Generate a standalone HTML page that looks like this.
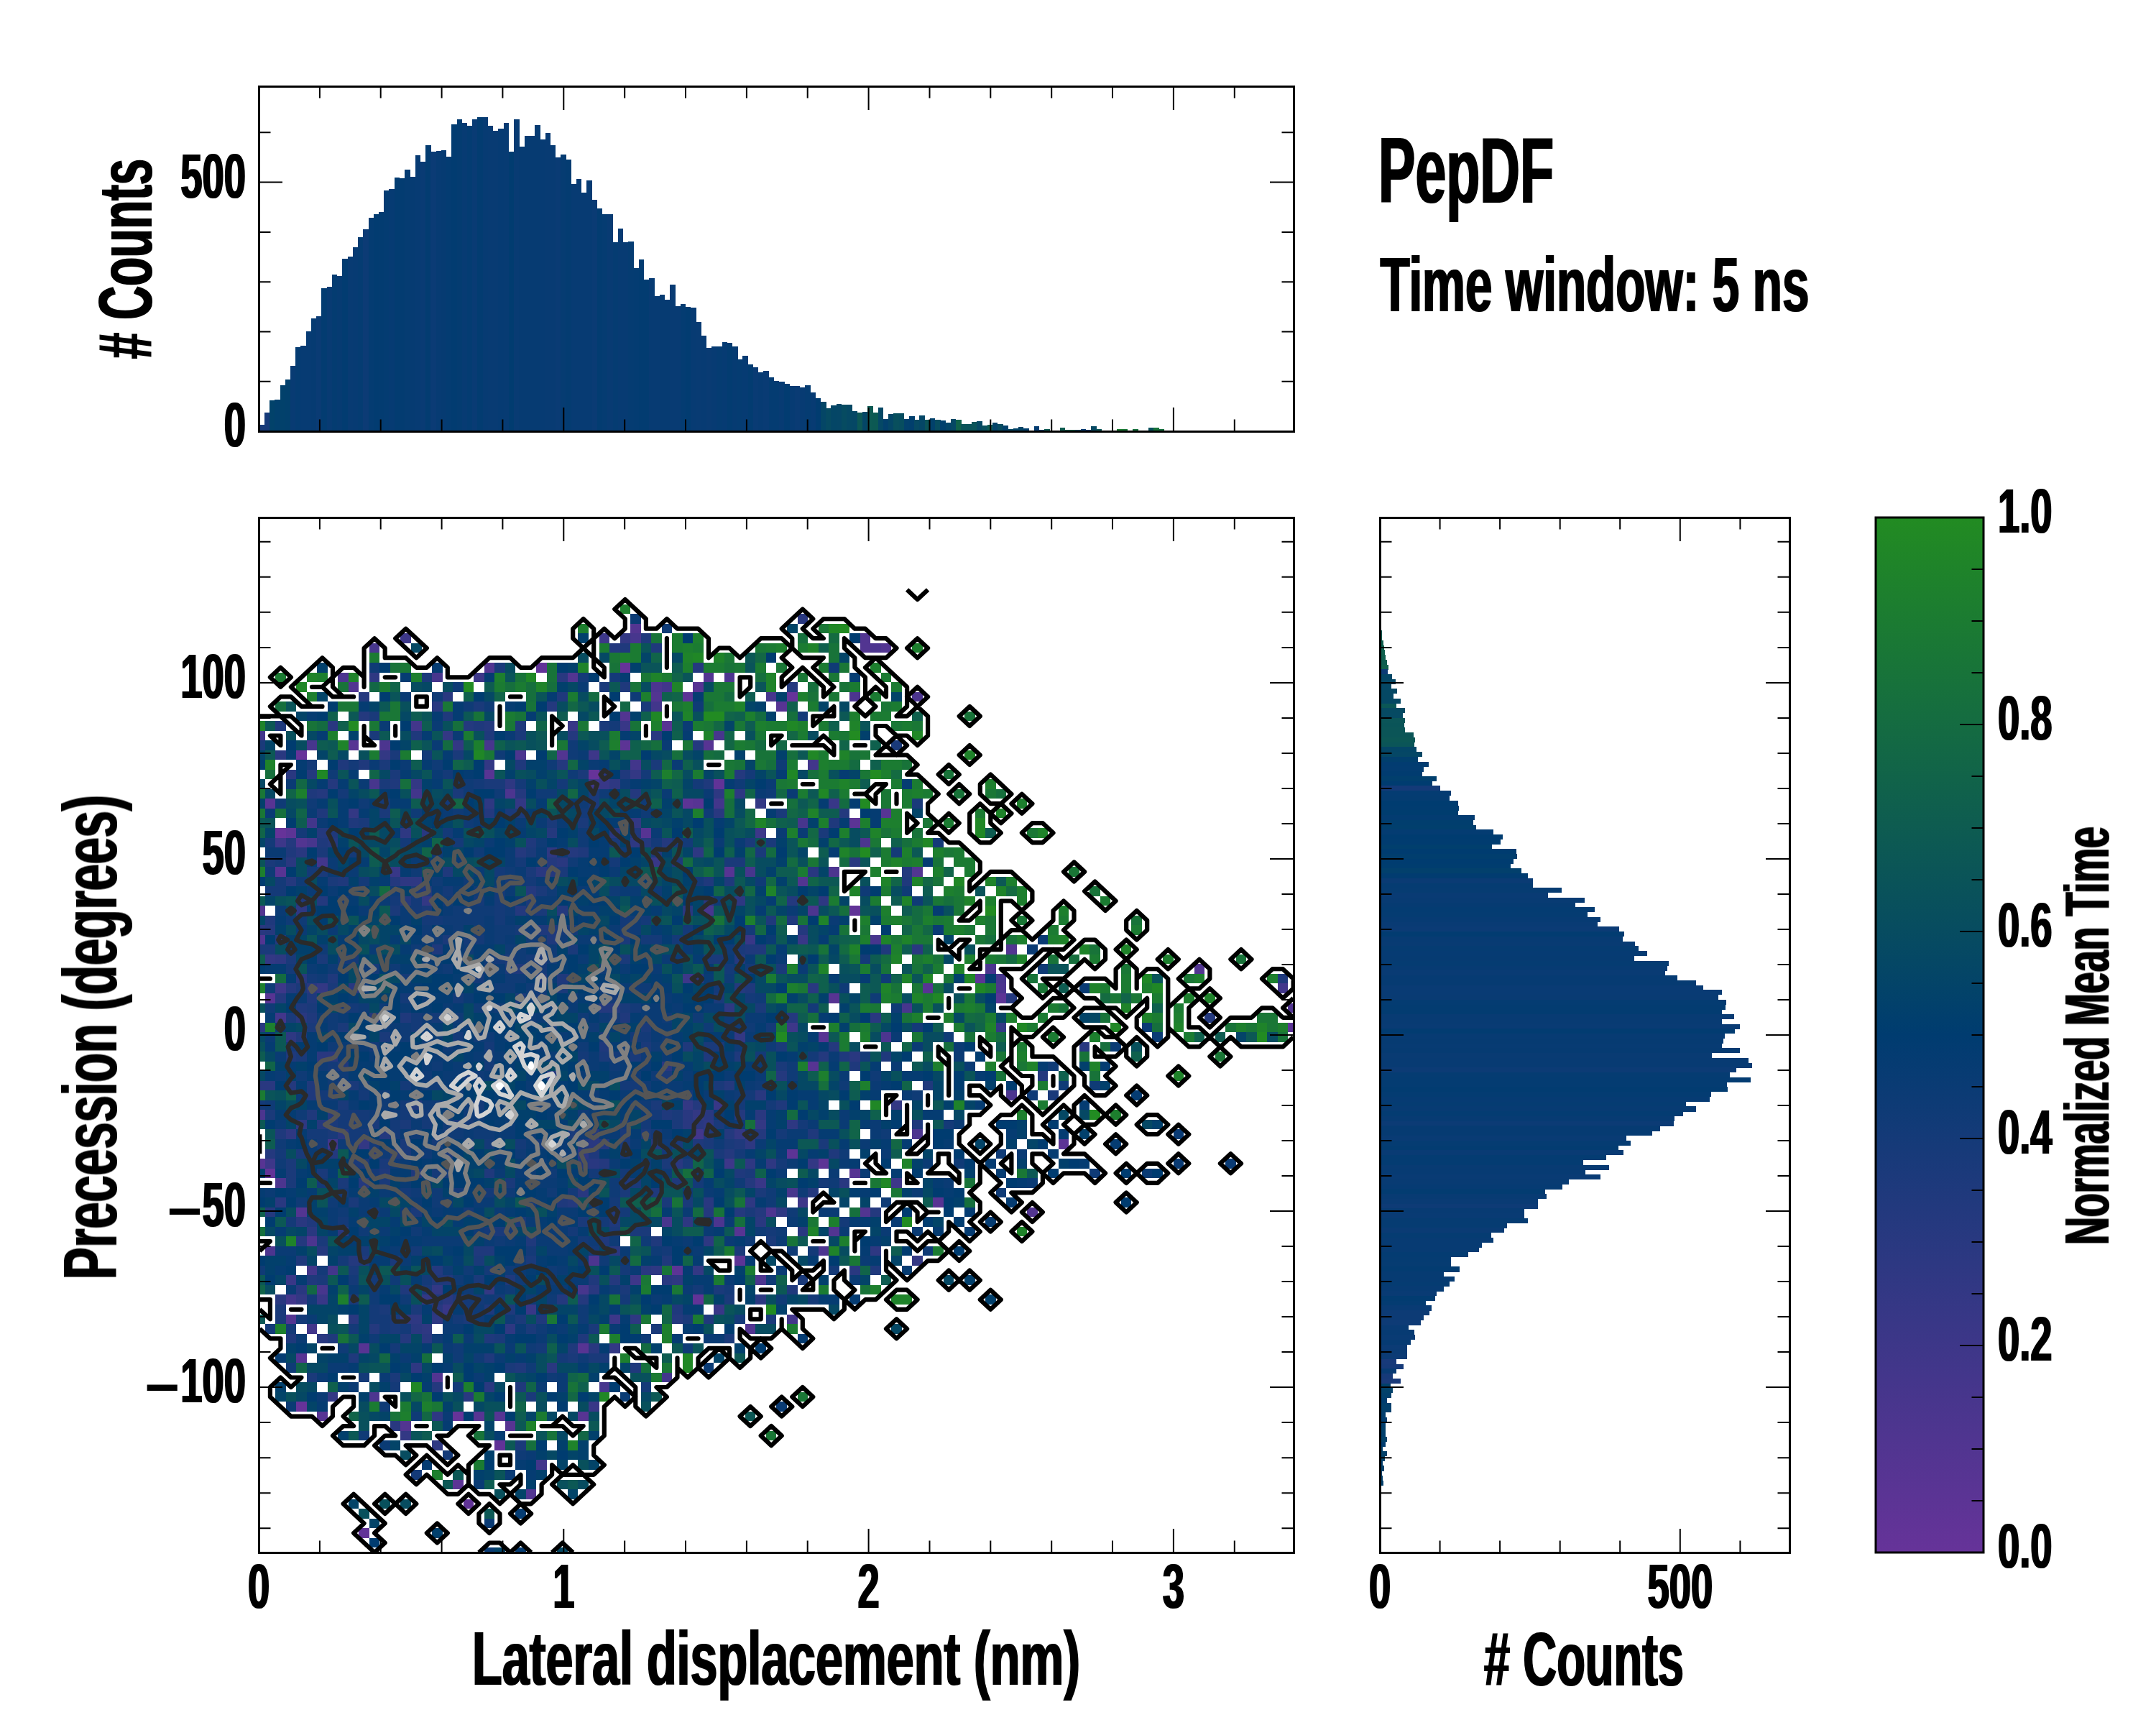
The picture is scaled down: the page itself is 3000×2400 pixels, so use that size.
<!DOCTYPE html>
<html><head><meta charset="utf-8"><title>PepDF</title>
<style>html,body{margin:0;padding:0;background:#fff}svg{display:block}</style></head>
<body><svg width="3000" height="2400" viewBox="0 0 3000 2400">
<rect width="3000" height="2400" fill="#fff"/>
<clipPath id="cm"><rect x="360" y="720" width="1440" height="1440"/></clipPath>
<g clip-path="url(#cm)" shape-rendering="crispEdges">
<g transform="translate(354.08,2166.76) scale(14.528,-13.530)">
<path fill="#663399" d="M2 74h1v1h-1zM4 15h1v1h-1zM4 82h1v1h-1zM19 14h1v1h-1zM32 80h1v1h-1zM35 91h1v1h-1zM51 88h1v1h-1z"/>
<path fill="#613397" d="M1 39h1v1h-1zM10 2h1v1h-1zM20 5h1v1h-1zM23 11h1v1h-1zM27 91h1v1h-1zM42 26h1v1h-1zM44 79h1v1h-1zM57 66h1v1h-1z"/>
<path fill="#5c3495" d="M3 74h1v1h-1zM19 7h1v1h-1zM35 83h1v1h-1zM40 29h1v1h-1zM41 77h1v1h-1zM41 88h1v1h-1zM46 30h1v1h-1zM51 41h1v1h-1zM54 40h1v1h-1zM57 75h1v1h-1zM69 59h1v1h-1zM71 57h1v1h-1zM77 42h1v1h-1zM99 54h1v1h-1z"/>
<path fill="#573493" d="M0 40h1v1h-1zM1 57h1v1h-1zM1 77h1v1h-1zM2 70h1v1h-1zM4 20h1v1h-1zM6 14h1v1h-1zM9 83h1v1h-1zM10 21h1v1h-1zM21 14h1v1h-1zM22 80h1v1h-1zM23 14h1v1h-1zM24 13h1v1h-1zM31 14h1v1h-1zM31 21h1v1h-1zM37 74h1v1h-1zM39 85h1v1h-1zM42 77h1v1h-1zM42 89h1v1h-1zM43 83h1v1h-1zM45 70h1v1h-1zM46 33h1v1h-1zM50 87h1v1h-1zM53 50h1v1h-1zM54 53h1v1h-1zM55 57h1v1h-1zM57 39h1v1h-1zM60 76h1v1h-1zM64 58h1v1h-1zM65 36h1v1h-1z"/>
<path fill="#523591" d="M0 63h1v1h-1zM0 66h1v1h-1zM3 24h1v1h-1zM4 35h1v1h-1zM4 73h1v1h-1zM9 89h1v1h-1zM14 13h1v1h-1zM17 18h1v1h-1zM22 91h1v1h-1zM26 6h1v1h-1zM29 82h1v1h-1zM30 90h1v1h-1zM35 86h1v1h-1zM36 95h1v1h-1zM38 88h1v1h-1zM43 90h1v1h-1zM47 23h1v1h-1zM52 69h1v1h-1zM55 33h1v1h-1zM58 35h1v1h-1zM58 93h1v1h-1zM58 94h1v1h-1zM60 93h1v1h-1zM63 70h1v1h-1zM72 62h1v1h-1zM74 35h1v1h-1zM90 60h1v1h-1zM99 56h1v1h-1z"/>
<path fill="#4c358f" d="M0 45h1v1h-1zM1 31h1v1h-1zM2 38h1v1h-1zM5 32h1v1h-1zM8 90h1v1h-1zM11 16h1v1h-1zM12 83h1v1h-1zM24 78h1v1h-1zM25 82h1v1h-1zM32 30h1v1h-1zM38 89h1v1h-1zM44 34h1v1h-1zM45 90h1v1h-1zM48 28h1v1h-1zM49 35h1v1h-1zM53 66h1v1h-1zM54 31h1v1h-1zM55 70h1v1h-1zM57 88h1v1h-1zM58 73h1v1h-1zM59 93h1v1h-1zM60 53h1v1h-1zM63 43h1v1h-1zM63 88h1v1h-1zM70 60h1v1h-1zM71 58h1v1h-1zM72 47h1v1h-1z"/>
<path fill="#47368d" d="M5 73h1v1h-1zM5 83h1v1h-1zM6 27h1v1h-1zM11 79h1v1h-1zM11 93h1v1h-1zM17 90h1v1h-1zM22 83h1v1h-1zM31 27h1v1h-1zM33 17h1v1h-1zM36 94h1v1h-1zM39 34h1v1h-1zM43 66h1v1h-1zM44 84h1v1h-1zM47 70h1v1h-1zM49 88h1v1h-1zM51 37h1v1h-1zM52 75h1v1h-1zM59 63h1v1h-1zM62 56h1v1h-1zM71 59h1v1h-1z"/>
<path fill="#42368b" d="M0 84h1v1h-1zM2 55h1v1h-1zM3 26h1v1h-1zM5 23h1v1h-1zM5 29h1v1h-1zM5 75h1v1h-1zM6 71h1v1h-1zM7 29h1v1h-1zM7 42h1v1h-1zM15 78h1v1h-1zM15 85h1v1h-1zM27 9h1v1h-1zM36 81h1v1h-1zM38 87h1v1h-1zM39 18h1v1h-1zM39 89h1v1h-1zM42 43h1v1h-1zM44 77h1v1h-1zM51 24h1v1h-1zM53 81h1v1h-1zM98 58h1v1h-1z"/>
<path fill="#3d3789" d="M1 40h1v1h-1zM2 58h1v1h-1zM2 73h1v1h-1zM14 94h1v1h-1zM21 90h1v1h-1zM32 79h1v1h-1zM32 82h1v1h-1zM33 94h1v1h-1zM34 24h1v1h-1zM36 28h1v1h-1zM41 59h1v1h-1zM45 40h1v1h-1zM48 74h1v1h-1zM51 54h1v1h-1zM52 36h1v1h-1zM61 38h1v1h-1z"/>
<path fill="#383787" d="M3 28h1v1h-1zM6 26h1v1h-1zM13 70h1v1h-1zM18 25h1v1h-1zM26 25h1v1h-1zM30 85h1v1h-1zM32 15h1v1h-1zM33 79h1v1h-1zM35 85h1v1h-1zM38 71h1v1h-1zM44 25h1v1h-1zM44 46h1v1h-1zM47 63h1v1h-1zM48 38h1v1h-1zM52 63h1v1h-1zM55 77h1v1h-1z"/>
<path fill="#333884" d="M1 61h1v1h-1zM4 26h1v1h-1zM6 58h1v1h-1zM7 16h1v1h-1zM9 76h1v1h-1zM10 42h1v1h-1zM12 82h1v1h-1zM14 12h1v1h-1zM15 79h1v1h-1zM16 26h1v1h-1zM16 67h1v1h-1zM17 27h1v1h-1zM18 84h1v1h-1zM19 83h1v1h-1zM22 27h1v1h-1zM22 81h1v1h-1zM25 77h1v1h-1zM34 21h1v1h-1zM35 94h1v1h-1zM36 75h1v1h-1zM36 80h1v1h-1zM41 46h1v1h-1zM42 29h1v1h-1zM42 45h1v1h-1zM46 43h1v1h-1zM46 53h1v1h-1zM48 44h1v1h-1zM48 77h1v1h-1zM53 40h1v1h-1zM61 46h1v1h-1zM63 30h1v1h-1zM71 54h1v1h-1z"/>
<path fill="#2e3882" d="M2 61h1v1h-1zM3 43h1v1h-1zM3 53h1v1h-1zM4 44h1v1h-1zM4 66h1v1h-1zM11 90h1v1h-1zM14 24h1v1h-1zM14 69h1v1h-1zM14 74h1v1h-1zM15 19h1v1h-1zM15 24h1v1h-1zM15 69h1v1h-1zM16 23h1v1h-1zM17 11h1v1h-1zM17 14h1v1h-1zM17 24h1v1h-1zM22 77h1v1h-1zM24 23h1v1h-1zM24 79h1v1h-1zM28 72h1v1h-1zM31 41h1v1h-1zM34 79h1v1h-1zM36 24h1v1h-1zM36 73h1v1h-1zM38 29h1v1h-1zM40 28h1v1h-1zM41 34h1v1h-1zM42 72h1v1h-1zM43 32h1v1h-1zM43 44h1v1h-1zM44 78h1v1h-1zM45 56h1v1h-1zM46 67h1v1h-1zM46 78h1v1h-1zM47 36h1v1h-1zM47 40h1v1h-1zM47 42h1v1h-1zM49 40h1v1h-1zM50 35h1v1h-1zM51 44h1v1h-1zM54 67h1v1h-1zM59 31h1v1h-1z"/>
<path fill="#293880" d="M0 48h1v1h-1zM0 54h1v1h-1zM0 64h1v1h-1zM1 48h1v1h-1zM2 26h1v1h-1zM2 36h1v1h-1zM2 82h1v1h-1zM3 71h1v1h-1zM3 80h1v1h-1zM4 27h1v1h-1zM4 34h1v1h-1zM4 55h1v1h-1zM4 59h1v1h-1zM4 72h1v1h-1zM5 33h1v1h-1zM5 58h1v1h-1zM6 22h1v1h-1zM6 51h1v1h-1zM7 51h1v1h-1zM7 85h1v1h-1zM8 33h1v1h-1zM8 43h1v1h-1zM9 24h1v1h-1zM9 58h1v1h-1zM13 13h1v1h-1zM15 23h1v1h-1zM16 22h1v1h-1zM16 74h1v1h-1zM17 25h1v1h-1zM17 87h1v1h-1zM18 26h1v1h-1zM18 88h1v1h-1zM20 16h1v1h-1zM22 17h1v1h-1zM27 70h1v1h-1zM28 19h1v1h-1zM29 71h1v1h-1zM29 90h1v1h-1zM31 37h1v1h-1zM32 21h1v1h-1zM32 27h1v1h-1zM32 40h1v1h-1zM32 42h1v1h-1zM33 80h1v1h-1zM34 31h1v1h-1zM34 74h1v1h-1zM37 29h1v1h-1zM38 84h1v1h-1zM39 28h1v1h-1zM39 50h1v1h-1zM40 40h1v1h-1zM41 44h1v1h-1zM41 45h1v1h-1zM41 66h1v1h-1zM42 44h1v1h-1zM42 59h1v1h-1zM43 36h1v1h-1zM43 45h1v1h-1zM43 67h1v1h-1zM44 76h1v1h-1zM48 26h1v1h-1zM48 34h1v1h-1zM48 45h1v1h-1zM48 47h1v1h-1zM52 33h1v1h-1zM52 96h1v1h-1zM53 58h1v1h-1zM53 70h1v1h-1zM56 38h1v1h-1zM57 29h1v1h-1zM57 51h1v1h-1zM57 71h1v1h-1zM59 55h1v1h-1zM63 62h1v1h-1zM79 52h1v1h-1z"/>
<path fill="#24397e" d="M1 35h1v1h-1zM1 41h1v1h-1zM1 64h1v1h-1zM2 57h1v1h-1zM2 63h1v1h-1zM3 48h1v1h-1zM3 58h1v1h-1zM3 69h1v1h-1zM3 73h1v1h-1zM4 32h1v1h-1zM5 80h1v1h-1zM6 31h1v1h-1zM6 44h1v1h-1zM6 67h1v1h-1zM6 74h1v1h-1zM6 78h1v1h-1zM7 41h1v1h-1zM7 45h1v1h-1zM7 73h1v1h-1zM7 79h1v1h-1zM9 30h1v1h-1zM10 38h1v1h-1zM10 86h1v1h-1zM10 88h1v1h-1zM11 23h1v1h-1zM11 41h1v1h-1zM11 55h1v1h-1zM12 43h1v1h-1zM13 69h1v1h-1zM14 22h1v1h-1zM14 67h1v1h-1zM17 17h1v1h-1zM17 29h1v1h-1zM20 85h1v1h-1zM22 76h1v1h-1zM22 85h1v1h-1zM25 66h1v1h-1zM25 72h1v1h-1zM25 78h1v1h-1zM26 68h1v1h-1zM28 49h1v1h-1zM28 70h1v1h-1zM28 71h1v1h-1zM28 74h1v1h-1zM28 87h1v1h-1zM29 26h1v1h-1zM29 66h1v1h-1zM29 81h1v1h-1zM30 36h1v1h-1zM30 72h1v1h-1zM30 84h1v1h-1zM31 26h1v1h-1zM31 40h1v1h-1zM32 43h1v1h-1zM33 40h1v1h-1zM33 42h1v1h-1zM33 56h1v1h-1zM34 28h1v1h-1zM34 56h1v1h-1zM34 93h1v1h-1zM36 78h1v1h-1zM37 73h1v1h-1zM38 42h1v1h-1zM39 73h1v1h-1zM40 24h1v1h-1zM42 46h1v1h-1zM42 83h1v1h-1zM42 91h1v1h-1zM43 35h1v1h-1zM45 41h1v1h-1zM45 43h1v1h-1zM45 48h1v1h-1zM46 35h1v1h-1zM46 45h1v1h-1zM46 58h1v1h-1zM46 61h1v1h-1zM46 80h1v1h-1zM47 38h1v1h-1zM48 35h1v1h-1zM48 43h1v1h-1zM50 49h1v1h-1zM51 55h1v1h-1zM51 67h1v1h-1zM51 89h1v1h-1zM52 64h1v1h-1zM53 37h1v1h-1zM54 51h1v1h-1zM55 52h1v1h-1zM56 76h1v1h-1zM59 35h1v1h-1zM62 70h1v1h-1zM72 57h1v1h-1zM75 49h1v1h-1zM91 55h1v1h-1z"/>
<path fill="#1f397c" d="M1 65h1v1h-1zM2 43h1v1h-1zM2 85h1v1h-1zM3 22h1v1h-1zM3 51h1v1h-1zM3 72h1v1h-1zM4 30h1v1h-1zM4 53h1v1h-1zM4 56h1v1h-1zM4 67h1v1h-1zM5 28h1v1h-1zM5 34h1v1h-1zM5 45h1v1h-1zM5 47h1v1h-1zM5 48h1v1h-1zM5 55h1v1h-1zM5 57h1v1h-1zM5 78h1v1h-1zM6 73h1v1h-1zM6 76h1v1h-1zM7 22h1v1h-1zM7 59h1v1h-1zM7 74h1v1h-1zM8 50h1v1h-1zM8 69h1v1h-1zM8 81h1v1h-1zM9 20h1v1h-1zM9 75h1v1h-1zM10 30h1v1h-1zM10 81h1v1h-1zM12 39h1v1h-1zM13 41h1v1h-1zM13 79h1v1h-1zM14 27h1v1h-1zM14 55h1v1h-1zM15 39h1v1h-1zM15 46h1v1h-1zM15 84h1v1h-1zM16 68h1v1h-1zM17 26h1v1h-1zM17 28h1v1h-1zM17 62h1v1h-1zM18 28h1v1h-1zM18 70h1v1h-1zM18 86h1v1h-1zM19 26h1v1h-1zM21 31h1v1h-1zM21 85h1v1h-1zM22 20h1v1h-1zM22 22h1v1h-1zM22 25h1v1h-1zM22 31h1v1h-1zM22 39h1v1h-1zM22 84h1v1h-1zM24 25h1v1h-1zM24 28h1v1h-1zM25 17h1v1h-1zM25 19h1v1h-1zM25 60h1v1h-1zM25 81h1v1h-1zM25 85h1v1h-1zM26 32h1v1h-1zM26 73h1v1h-1zM27 24h1v1h-1zM27 59h1v1h-1zM27 64h1v1h-1zM28 63h1v1h-1zM28 64h1v1h-1zM29 36h1v1h-1zM29 59h1v1h-1zM29 88h1v1h-1zM30 21h1v1h-1zM31 22h1v1h-1zM31 42h1v1h-1zM31 72h1v1h-1zM32 28h1v1h-1zM32 41h1v1h-1zM33 32h1v1h-1zM33 52h1v1h-1zM34 34h1v1h-1zM34 35h1v1h-1zM35 38h1v1h-1zM35 55h1v1h-1zM35 80h1v1h-1zM35 89h1v1h-1zM35 93h1v1h-1zM36 19h1v1h-1zM36 74h1v1h-1zM37 94h1v1h-1zM38 32h1v1h-1zM38 37h1v1h-1zM38 72h1v1h-1zM38 93h1v1h-1zM39 30h1v1h-1zM39 45h1v1h-1zM40 25h1v1h-1zM40 38h1v1h-1zM40 71h1v1h-1zM41 52h1v1h-1zM42 42h1v1h-1zM43 24h1v1h-1zM43 43h1v1h-1zM43 51h1v1h-1zM43 69h1v1h-1zM43 79h1v1h-1zM45 69h1v1h-1zM46 39h1v1h-1zM46 42h1v1h-1zM46 51h1v1h-1zM47 58h1v1h-1zM47 62h1v1h-1zM48 62h1v1h-1zM49 65h1v1h-1zM50 46h1v1h-1zM51 27h1v1h-1zM51 65h1v1h-1zM53 43h1v1h-1zM55 41h1v1h-1zM55 75h1v1h-1zM56 51h1v1h-1zM57 50h1v1h-1zM59 29h1v1h-1zM60 51h1v1h-1zM60 62h1v1h-1zM62 69h1v1h-1zM63 44h1v1h-1zM64 48h1v1h-1zM98 59h1v1h-1z"/>
<path fill="#1a3a7a" d="M0 62h1v1h-1zM0 83h1v1h-1zM1 45h1v1h-1zM1 62h1v1h-1zM1 71h1v1h-1zM2 24h1v1h-1zM2 25h1v1h-1zM3 38h1v1h-1zM3 39h1v1h-1zM3 40h1v1h-1zM3 55h1v1h-1zM3 61h1v1h-1zM4 41h1v1h-1zM4 51h1v1h-1zM4 58h1v1h-1zM5 18h1v1h-1zM5 54h1v1h-1zM5 56h1v1h-1zM6 28h1v1h-1zM6 32h1v1h-1zM6 39h1v1h-1zM6 61h1v1h-1zM6 70h1v1h-1zM6 72h1v1h-1zM7 43h1v1h-1zM7 44h1v1h-1zM7 58h1v1h-1zM7 69h1v1h-1zM8 38h1v1h-1zM8 46h1v1h-1zM8 48h1v1h-1zM8 54h1v1h-1zM8 56h1v1h-1zM9 26h1v1h-1zM9 29h1v1h-1zM9 36h1v1h-1zM9 40h1v1h-1zM9 44h1v1h-1zM9 48h1v1h-1zM10 31h1v1h-1zM10 40h1v1h-1zM10 75h1v1h-1zM11 44h1v1h-1zM11 84h1v1h-1zM11 86h1v1h-1zM12 25h1v1h-1zM12 38h1v1h-1zM12 40h1v1h-1zM12 53h1v1h-1zM12 76h1v1h-1zM12 79h1v1h-1zM12 81h1v1h-1zM13 18h1v1h-1zM13 23h1v1h-1zM13 24h1v1h-1zM13 30h1v1h-1zM13 66h1v1h-1zM13 80h1v1h-1zM13 82h1v1h-1zM14 41h1v1h-1zM14 42h1v1h-1zM14 44h1v1h-1zM15 25h1v1h-1zM15 35h1v1h-1zM15 68h1v1h-1zM16 27h1v1h-1zM16 66h1v1h-1zM16 90h1v1h-1zM18 41h1v1h-1zM18 63h1v1h-1zM19 44h1v1h-1zM19 78h1v1h-1zM19 82h1v1h-1zM20 24h1v1h-1zM20 42h1v1h-1zM21 28h1v1h-1zM21 30h1v1h-1zM21 87h1v1h-1zM22 60h1v1h-1zM22 79h1v1h-1zM23 22h1v1h-1zM23 33h1v1h-1zM23 79h1v1h-1zM23 91h1v1h-1zM24 19h1v1h-1zM24 38h1v1h-1zM24 60h1v1h-1zM24 61h1v1h-1zM24 76h1v1h-1zM25 11h1v1h-1zM25 24h1v1h-1zM25 34h1v1h-1zM25 57h1v1h-1zM25 76h1v1h-1zM25 84h1v1h-1zM26 16h1v1h-1zM26 23h1v1h-1zM26 30h1v1h-1zM26 67h1v1h-1zM26 70h1v1h-1zM26 72h1v1h-1zM27 61h1v1h-1zM27 66h1v1h-1zM27 68h1v1h-1zM28 75h1v1h-1zM29 58h1v1h-1zM29 70h1v1h-1zM30 20h1v1h-1zM30 43h1v1h-1zM30 62h1v1h-1zM31 34h1v1h-1zM31 75h1v1h-1zM31 80h1v1h-1zM32 20h1v1h-1zM32 23h1v1h-1zM32 77h1v1h-1zM32 78h1v1h-1zM33 20h1v1h-1zM33 51h1v1h-1zM33 85h1v1h-1zM33 89h1v1h-1zM34 33h1v1h-1zM34 73h1v1h-1zM35 27h1v1h-1zM35 37h1v1h-1zM35 42h1v1h-1zM35 43h1v1h-1zM35 56h1v1h-1zM35 61h1v1h-1zM35 63h1v1h-1zM36 33h1v1h-1zM36 38h1v1h-1zM36 51h1v1h-1zM37 33h1v1h-1zM37 43h1v1h-1zM37 52h1v1h-1zM37 54h1v1h-1zM37 87h1v1h-1zM38 23h1v1h-1zM38 46h1v1h-1zM38 81h1v1h-1zM39 36h1v1h-1zM39 40h1v1h-1zM39 49h1v1h-1zM40 42h1v1h-1zM40 44h1v1h-1zM40 45h1v1h-1zM40 73h1v1h-1zM41 24h1v1h-1zM41 36h1v1h-1zM41 40h1v1h-1zM43 42h1v1h-1zM43 52h1v1h-1zM43 61h1v1h-1zM44 27h1v1h-1zM44 41h1v1h-1zM44 44h1v1h-1zM44 48h1v1h-1zM44 52h1v1h-1zM44 57h1v1h-1zM44 61h1v1h-1zM45 22h1v1h-1zM45 26h1v1h-1zM45 42h1v1h-1zM45 71h1v1h-1zM46 31h1v1h-1zM46 62h1v1h-1zM46 71h1v1h-1zM47 35h1v1h-1zM47 39h1v1h-1zM47 73h1v1h-1zM48 37h1v1h-1zM48 56h1v1h-1zM48 72h1v1h-1zM49 24h1v1h-1zM49 32h1v1h-1zM49 73h1v1h-1zM50 50h1v1h-1zM50 52h1v1h-1zM50 60h1v1h-1zM50 76h1v1h-1zM52 28h1v1h-1zM54 42h1v1h-1zM54 74h1v1h-1zM61 83h1v1h-1zM63 77h1v1h-1zM76 47h1v1h-1z"/>
<path fill="#143a78" d="M0 46h1v1h-1zM1 23h1v1h-1zM1 68h1v1h-1zM1 73h1v1h-1zM2 41h1v1h-1zM2 68h1v1h-1zM2 69h1v1h-1zM2 71h1v1h-1zM3 23h1v1h-1zM3 34h1v1h-1zM3 52h1v1h-1zM3 60h1v1h-1zM4 24h1v1h-1zM4 74h1v1h-1zM5 26h1v1h-1zM5 43h1v1h-1zM5 59h1v1h-1zM5 70h1v1h-1zM5 81h1v1h-1zM6 29h1v1h-1zM6 38h1v1h-1zM6 42h1v1h-1zM6 43h1v1h-1zM6 47h1v1h-1zM7 47h1v1h-1zM7 50h1v1h-1zM8 30h1v1h-1zM8 34h1v1h-1zM8 37h1v1h-1zM8 44h1v1h-1zM8 45h1v1h-1zM8 61h1v1h-1zM8 67h1v1h-1zM8 78h1v1h-1zM9 23h1v1h-1zM9 28h1v1h-1zM9 42h1v1h-1zM9 43h1v1h-1zM9 45h1v1h-1zM9 56h1v1h-1zM9 61h1v1h-1zM9 72h1v1h-1zM9 81h1v1h-1zM10 18h1v1h-1zM10 43h1v1h-1zM10 45h1v1h-1zM10 47h1v1h-1zM10 69h1v1h-1zM11 24h1v1h-1zM11 25h1v1h-1zM11 28h1v1h-1zM11 35h1v1h-1zM11 39h1v1h-1zM11 42h1v1h-1zM11 52h1v1h-1zM11 60h1v1h-1zM12 23h1v1h-1zM12 24h1v1h-1zM12 77h1v1h-1zM13 17h1v1h-1zM13 21h1v1h-1zM13 43h1v1h-1zM13 44h1v1h-1zM13 67h1v1h-1zM14 23h1v1h-1zM14 37h1v1h-1zM14 45h1v1h-1zM14 46h1v1h-1zM14 48h1v1h-1zM14 57h1v1h-1zM14 59h1v1h-1zM14 73h1v1h-1zM15 8h1v1h-1zM15 31h1v1h-1zM15 54h1v1h-1zM15 55h1v1h-1zM15 66h1v1h-1zM15 67h1v1h-1zM16 28h1v1h-1zM16 44h1v1h-1zM16 45h1v1h-1zM16 65h1v1h-1zM16 82h1v1h-1zM17 39h1v1h-1zM17 42h1v1h-1zM17 55h1v1h-1zM17 65h1v1h-1zM18 10h1v1h-1zM18 39h1v1h-1zM18 68h1v1h-1zM18 74h1v1h-1zM18 77h1v1h-1zM18 80h1v1h-1zM19 17h1v1h-1zM19 24h1v1h-1zM19 37h1v1h-1zM19 53h1v1h-1zM19 57h1v1h-1zM19 73h1v1h-1zM20 25h1v1h-1zM20 26h1v1h-1zM20 35h1v1h-1zM20 44h1v1h-1zM20 49h1v1h-1zM20 63h1v1h-1zM21 26h1v1h-1zM21 46h1v1h-1zM21 59h1v1h-1zM21 63h1v1h-1zM21 67h1v1h-1zM21 79h1v1h-1zM22 29h1v1h-1zM22 33h1v1h-1zM22 37h1v1h-1zM22 42h1v1h-1zM22 50h1v1h-1zM22 52h1v1h-1zM23 26h1v1h-1zM23 61h1v1h-1zM23 65h1v1h-1zM23 66h1v1h-1zM23 67h1v1h-1zM23 68h1v1h-1zM23 70h1v1h-1zM24 33h1v1h-1zM24 69h1v1h-1zM25 42h1v1h-1zM25 64h1v1h-1zM25 71h1v1h-1zM25 79h1v1h-1zM26 31h1v1h-1zM26 36h1v1h-1zM26 61h1v1h-1zM26 66h1v1h-1zM26 69h1v1h-1zM27 21h1v1h-1zM27 42h1v1h-1zM27 57h1v1h-1zM27 60h1v1h-1zM29 20h1v1h-1zM29 64h1v1h-1zM29 79h1v1h-1zM30 33h1v1h-1zM30 37h1v1h-1zM30 59h1v1h-1zM30 64h1v1h-1zM31 32h1v1h-1zM31 51h1v1h-1zM31 76h1v1h-1zM31 90h1v1h-1zM32 31h1v1h-1zM32 39h1v1h-1zM33 34h1v1h-1zM33 53h1v1h-1zM34 36h1v1h-1zM34 51h1v1h-1zM34 55h1v1h-1zM34 57h1v1h-1zM34 71h1v1h-1zM34 85h1v1h-1zM34 90h1v1h-1zM35 26h1v1h-1zM35 29h1v1h-1zM35 35h1v1h-1zM35 39h1v1h-1zM35 41h1v1h-1zM35 44h1v1h-1zM35 48h1v1h-1zM35 64h1v1h-1zM35 65h1v1h-1zM36 48h1v1h-1zM36 53h1v1h-1zM36 56h1v1h-1zM37 17h1v1h-1zM37 44h1v1h-1zM37 53h1v1h-1zM37 63h1v1h-1zM37 65h1v1h-1zM37 80h1v1h-1zM38 43h1v1h-1zM38 45h1v1h-1zM38 63h1v1h-1zM38 73h1v1h-1zM39 31h1v1h-1zM39 41h1v1h-1zM40 63h1v1h-1zM41 47h1v1h-1zM41 64h1v1h-1zM41 73h1v1h-1zM42 27h1v1h-1zM42 38h1v1h-1zM42 69h1v1h-1zM42 79h1v1h-1zM44 58h1v1h-1zM45 27h1v1h-1zM45 60h1v1h-1zM46 24h1v1h-1zM46 41h1v1h-1zM46 46h1v1h-1zM47 47h1v1h-1zM47 57h1v1h-1zM47 60h1v1h-1zM47 64h1v1h-1zM47 80h1v1h-1zM48 51h1v1h-1zM49 33h1v1h-1zM49 46h1v1h-1zM49 54h1v1h-1zM50 40h1v1h-1zM50 43h1v1h-1zM52 44h1v1h-1zM52 86h1v1h-1zM53 26h1v1h-1zM53 31h1v1h-1zM53 51h1v1h-1zM53 56h1v1h-1zM54 38h1v1h-1zM55 29h1v1h-1zM56 34h1v1h-1zM58 51h1v1h-1zM58 61h1v1h-1zM61 72h1v1h-1zM63 54h1v1h-1zM65 73h1v1h-1zM66 44h1v1h-1z"/>
<path fill="#0f3b76" d="M0 29h1v1h-1zM1 46h1v1h-1zM1 56h1v1h-1zM1 58h1v1h-1zM1 70h1v1h-1zM2 40h1v1h-1zM2 42h1v1h-1zM2 77h1v1h-1zM3 19h1v1h-1zM3 65h1v1h-1zM4 36h1v1h-1zM4 45h1v1h-1zM4 49h1v1h-1zM4 65h1v1h-1zM4 69h1v1h-1zM5 77h1v1h-1zM6 50h1v1h-1zM6 59h1v1h-1zM6 62h1v1h-1zM7 36h1v1h-1zM7 48h1v1h-1zM7 49h1v1h-1zM7 52h1v1h-1zM7 54h1v1h-1zM7 55h1v1h-1zM7 60h1v1h-1zM7 80h1v1h-1zM8 21h1v1h-1zM8 35h1v1h-1zM8 42h1v1h-1zM8 49h1v1h-1zM10 12h1v1h-1zM10 33h1v1h-1zM10 44h1v1h-1zM10 48h1v1h-1zM10 56h1v1h-1zM10 58h1v1h-1zM10 60h1v1h-1zM10 77h1v1h-1zM11 22h1v1h-1zM11 26h1v1h-1zM11 27h1v1h-1zM11 45h1v1h-1zM11 91h1v1h-1zM12 15h1v1h-1zM12 41h1v1h-1zM12 46h1v1h-1zM12 47h1v1h-1zM12 54h1v1h-1zM12 56h1v1h-1zM13 28h1v1h-1zM13 40h1v1h-1zM13 45h1v1h-1zM13 60h1v1h-1zM13 68h1v1h-1zM14 26h1v1h-1zM14 35h1v1h-1zM14 53h1v1h-1zM14 54h1v1h-1zM15 14h1v1h-1zM15 33h1v1h-1zM15 37h1v1h-1zM15 43h1v1h-1zM15 45h1v1h-1zM15 62h1v1h-1zM15 70h1v1h-1zM15 76h1v1h-1zM16 41h1v1h-1zM16 46h1v1h-1zM16 48h1v1h-1zM16 49h1v1h-1zM16 52h1v1h-1zM16 53h1v1h-1zM16 55h1v1h-1zM16 63h1v1h-1zM16 64h1v1h-1zM17 22h1v1h-1zM17 36h1v1h-1zM17 37h1v1h-1zM17 46h1v1h-1zM17 48h1v1h-1zM17 50h1v1h-1zM17 63h1v1h-1zM17 69h1v1h-1zM17 72h1v1h-1zM17 81h1v1h-1zM17 88h1v1h-1zM18 29h1v1h-1zM18 43h1v1h-1zM18 44h1v1h-1zM18 45h1v1h-1zM18 52h1v1h-1zM18 60h1v1h-1zM18 65h1v1h-1zM18 67h1v1h-1zM19 20h1v1h-1zM19 21h1v1h-1zM19 28h1v1h-1zM19 43h1v1h-1zM19 47h1v1h-1zM19 55h1v1h-1zM19 61h1v1h-1zM19 64h1v1h-1zM19 65h1v1h-1zM19 66h1v1h-1zM19 76h1v1h-1zM19 79h1v1h-1zM19 89h1v1h-1zM20 27h1v1h-1zM20 29h1v1h-1zM20 45h1v1h-1zM20 46h1v1h-1zM20 62h1v1h-1zM20 65h1v1h-1zM20 66h1v1h-1zM20 69h1v1h-1zM20 75h1v1h-1zM20 78h1v1h-1zM20 79h1v1h-1zM20 87h1v1h-1zM21 20h1v1h-1zM21 24h1v1h-1zM21 25h1v1h-1zM21 33h1v1h-1zM21 43h1v1h-1zM21 45h1v1h-1zM21 49h1v1h-1zM21 53h1v1h-1zM21 56h1v1h-1zM21 64h1v1h-1zM21 65h1v1h-1zM21 66h1v1h-1zM21 68h1v1h-1zM21 72h1v1h-1zM22 26h1v1h-1zM22 43h1v1h-1zM22 51h1v1h-1zM22 53h1v1h-1zM22 61h1v1h-1zM22 66h1v1h-1zM22 87h1v1h-1zM23 32h1v1h-1zM23 48h1v1h-1zM23 56h1v1h-1zM23 58h1v1h-1zM23 63h1v1h-1zM23 64h1v1h-1zM23 78h1v1h-1zM23 82h1v1h-1zM24 24h1v1h-1zM24 27h1v1h-1zM24 29h1v1h-1zM24 37h1v1h-1zM24 58h1v1h-1zM24 59h1v1h-1zM24 62h1v1h-1zM24 64h1v1h-1zM24 66h1v1h-1zM24 70h1v1h-1zM25 10h1v1h-1zM25 28h1v1h-1zM25 30h1v1h-1zM25 41h1v1h-1zM25 59h1v1h-1zM25 61h1v1h-1zM25 62h1v1h-1zM25 69h1v1h-1zM26 19h1v1h-1zM26 21h1v1h-1zM26 26h1v1h-1zM26 38h1v1h-1zM26 55h1v1h-1zM26 58h1v1h-1zM26 60h1v1h-1zM26 63h1v1h-1zM26 64h1v1h-1zM27 23h1v1h-1zM27 46h1v1h-1zM27 58h1v1h-1zM27 62h1v1h-1zM27 63h1v1h-1zM27 73h1v1h-1zM27 78h1v1h-1zM28 18h1v1h-1zM28 26h1v1h-1zM28 28h1v1h-1zM28 29h1v1h-1zM28 37h1v1h-1zM28 39h1v1h-1zM28 54h1v1h-1zM28 61h1v1h-1zM28 62h1v1h-1zM28 68h1v1h-1zM28 78h1v1h-1zM28 81h1v1h-1zM29 34h1v1h-1zM29 63h1v1h-1zM29 72h1v1h-1zM30 57h1v1h-1zM30 71h1v1h-1zM30 80h1v1h-1zM30 82h1v1h-1zM30 83h1v1h-1zM31 20h1v1h-1zM31 24h1v1h-1zM31 25h1v1h-1zM31 43h1v1h-1zM31 45h1v1h-1zM31 52h1v1h-1zM31 55h1v1h-1zM31 73h1v1h-1zM31 74h1v1h-1zM31 77h1v1h-1zM32 32h1v1h-1zM32 36h1v1h-1zM32 47h1v1h-1zM32 54h1v1h-1zM32 56h1v1h-1zM33 30h1v1h-1zM33 55h1v1h-1zM33 58h1v1h-1zM33 60h1v1h-1zM33 78h1v1h-1zM34 27h1v1h-1zM34 32h1v1h-1zM34 37h1v1h-1zM34 38h1v1h-1zM34 50h1v1h-1zM34 68h1v1h-1zM35 30h1v1h-1zM35 51h1v1h-1zM35 52h1v1h-1zM35 72h1v1h-1zM35 79h1v1h-1zM36 46h1v1h-1zM36 49h1v1h-1zM36 58h1v1h-1zM36 64h1v1h-1zM36 65h1v1h-1zM36 88h1v1h-1zM37 22h1v1h-1zM37 32h1v1h-1zM37 40h1v1h-1zM37 46h1v1h-1zM37 48h1v1h-1zM37 51h1v1h-1zM37 58h1v1h-1zM37 76h1v1h-1zM37 77h1v1h-1zM38 31h1v1h-1zM38 49h1v1h-1zM38 52h1v1h-1zM38 68h1v1h-1zM39 39h1v1h-1zM39 42h1v1h-1zM39 53h1v1h-1zM39 55h1v1h-1zM39 95h1v1h-1zM40 50h1v1h-1zM40 61h1v1h-1zM41 21h1v1h-1zM41 37h1v1h-1zM41 41h1v1h-1zM42 39h1v1h-1zM42 55h1v1h-1zM42 87h1v1h-1zM43 54h1v1h-1zM43 76h1v1h-1zM44 42h1v1h-1zM44 67h1v1h-1zM45 54h1v1h-1zM45 55h1v1h-1zM45 59h1v1h-1zM45 62h1v1h-1zM46 38h1v1h-1zM46 44h1v1h-1zM46 47h1v1h-1zM46 52h1v1h-1zM46 54h1v1h-1zM46 79h1v1h-1zM47 32h1v1h-1zM47 43h1v1h-1zM47 54h1v1h-1zM48 33h1v1h-1zM48 48h1v1h-1zM48 57h1v1h-1zM48 69h1v1h-1zM49 28h1v1h-1zM49 36h1v1h-1zM49 37h1v1h-1zM49 52h1v1h-1zM49 78h1v1h-1zM50 26h1v1h-1zM50 33h1v1h-1zM50 81h1v1h-1zM51 31h1v1h-1zM51 35h1v1h-1zM51 49h1v1h-1zM51 50h1v1h-1zM52 37h1v1h-1zM55 38h1v1h-1zM55 91h1v1h-1zM56 41h1v1h-1zM56 48h1v1h-1zM56 58h1v1h-1zM58 68h1v1h-1zM59 49h1v1h-1zM59 57h1v1h-1zM60 36h1v1h-1zM60 43h1v1h-1zM60 59h1v1h-1zM61 56h1v1h-1zM62 68h1v1h-1zM63 47h1v1h-1zM63 67h1v1h-1zM64 31h1v1h-1zM66 53h1v1h-1zM67 40h1v1h-1zM71 37h1v1h-1zM71 41h1v1h-1zM74 47h1v1h-1zM75 60h1v1h-1zM76 50h1v1h-1zM77 48h1v1h-1zM80 39h1v1h-1zM80 48h1v1h-1z"/>
<path fill="#0a3b74" d="M1 37h1v1h-1zM1 53h1v1h-1zM1 72h1v1h-1zM1 76h1v1h-1zM2 31h1v1h-1zM2 44h1v1h-1zM2 49h1v1h-1zM2 51h1v1h-1zM2 54h1v1h-1zM2 66h1v1h-1zM2 72h1v1h-1zM3 15h1v1h-1zM3 27h1v1h-1zM3 31h1v1h-1zM3 62h1v1h-1zM3 79h1v1h-1zM4 22h1v1h-1zM4 47h1v1h-1zM4 57h1v1h-1zM4 64h1v1h-1zM5 24h1v1h-1zM5 41h1v1h-1zM5 42h1v1h-1zM5 60h1v1h-1zM5 68h1v1h-1zM5 76h1v1h-1zM6 16h1v1h-1zM6 18h1v1h-1zM6 46h1v1h-1zM6 55h1v1h-1zM6 75h1v1h-1zM7 19h1v1h-1zM7 34h1v1h-1zM7 35h1v1h-1zM7 46h1v1h-1zM7 64h1v1h-1zM7 68h1v1h-1zM7 70h1v1h-1zM7 71h1v1h-1zM8 19h1v1h-1zM8 51h1v1h-1zM8 52h1v1h-1zM8 55h1v1h-1zM8 60h1v1h-1zM9 17h1v1h-1zM9 27h1v1h-1zM9 46h1v1h-1zM9 52h1v1h-1zM9 68h1v1h-1zM9 70h1v1h-1zM10 35h1v1h-1zM10 36h1v1h-1zM10 52h1v1h-1zM10 59h1v1h-1zM10 66h1v1h-1zM10 79h1v1h-1zM11 51h1v1h-1zM11 62h1v1h-1zM11 81h1v1h-1zM12 11h1v1h-1zM12 18h1v1h-1zM12 33h1v1h-1zM12 35h1v1h-1zM12 37h1v1h-1zM12 45h1v1h-1zM12 67h1v1h-1zM12 85h1v1h-1zM13 31h1v1h-1zM13 53h1v1h-1zM13 54h1v1h-1zM14 20h1v1h-1zM14 30h1v1h-1zM14 38h1v1h-1zM14 40h1v1h-1zM14 43h1v1h-1zM14 56h1v1h-1zM14 65h1v1h-1zM14 66h1v1h-1zM14 75h1v1h-1zM14 81h1v1h-1zM14 88h1v1h-1zM15 36h1v1h-1zM15 41h1v1h-1zM15 44h1v1h-1zM15 48h1v1h-1zM15 71h1v1h-1zM16 32h1v1h-1zM16 42h1v1h-1zM16 50h1v1h-1zM16 54h1v1h-1zM16 57h1v1h-1zM16 61h1v1h-1zM17 32h1v1h-1zM17 35h1v1h-1zM17 43h1v1h-1zM17 51h1v1h-1zM17 53h1v1h-1zM17 60h1v1h-1zM17 68h1v1h-1zM17 80h1v1h-1zM17 83h1v1h-1zM17 85h1v1h-1zM18 14h1v1h-1zM18 21h1v1h-1zM18 23h1v1h-1zM18 24h1v1h-1zM18 32h1v1h-1zM18 36h1v1h-1zM18 48h1v1h-1zM18 49h1v1h-1zM18 51h1v1h-1zM18 55h1v1h-1zM18 56h1v1h-1zM18 64h1v1h-1zM18 66h1v1h-1zM18 76h1v1h-1zM19 23h1v1h-1zM19 32h1v1h-1zM19 49h1v1h-1zM19 50h1v1h-1zM19 52h1v1h-1zM19 54h1v1h-1zM19 62h1v1h-1zM19 68h1v1h-1zM19 71h1v1h-1zM19 84h1v1h-1zM20 22h1v1h-1zM20 43h1v1h-1zM20 54h1v1h-1zM20 57h1v1h-1zM20 60h1v1h-1zM20 76h1v1h-1zM21 7h1v1h-1zM21 18h1v1h-1zM21 36h1v1h-1zM21 44h1v1h-1zM21 51h1v1h-1zM21 70h1v1h-1zM21 75h1v1h-1zM22 0h1v1h-1zM22 3h1v1h-1zM22 32h1v1h-1zM22 36h1v1h-1zM22 49h1v1h-1zM22 56h1v1h-1zM22 63h1v1h-1zM22 64h1v1h-1zM22 65h1v1h-1zM22 73h1v1h-1zM23 20h1v1h-1zM23 27h1v1h-1zM23 35h1v1h-1zM23 39h1v1h-1zM23 41h1v1h-1zM23 43h1v1h-1zM23 46h1v1h-1zM23 51h1v1h-1zM23 60h1v1h-1zM23 69h1v1h-1zM24 8h1v1h-1zM24 21h1v1h-1zM24 32h1v1h-1zM24 43h1v1h-1zM24 44h1v1h-1zM24 45h1v1h-1zM24 53h1v1h-1zM24 55h1v1h-1zM24 63h1v1h-1zM24 65h1v1h-1zM24 68h1v1h-1zM24 71h1v1h-1zM24 72h1v1h-1zM24 84h1v1h-1zM25 23h1v1h-1zM25 29h1v1h-1zM25 39h1v1h-1zM25 67h1v1h-1zM25 70h1v1h-1zM25 75h1v1h-1zM26 10h1v1h-1zM26 34h1v1h-1zM26 39h1v1h-1zM26 42h1v1h-1zM26 43h1v1h-1zM26 44h1v1h-1zM26 48h1v1h-1zM26 57h1v1h-1zM27 17h1v1h-1zM27 22h1v1h-1zM27 32h1v1h-1zM27 38h1v1h-1zM27 40h1v1h-1zM27 52h1v1h-1zM27 55h1v1h-1zM27 67h1v1h-1zM27 69h1v1h-1zM27 72h1v1h-1zM27 75h1v1h-1zM28 27h1v1h-1zM28 31h1v1h-1zM28 32h1v1h-1zM28 33h1v1h-1zM28 38h1v1h-1zM28 46h1v1h-1zM28 51h1v1h-1zM28 56h1v1h-1zM28 59h1v1h-1zM28 67h1v1h-1zM29 17h1v1h-1zM29 18h1v1h-1zM29 23h1v1h-1zM29 27h1v1h-1zM29 29h1v1h-1zM29 31h1v1h-1zM29 33h1v1h-1zM29 35h1v1h-1zM29 41h1v1h-1zM29 42h1v1h-1zM29 53h1v1h-1zM29 75h1v1h-1zM30 28h1v1h-1zM30 35h1v1h-1zM30 41h1v1h-1zM30 56h1v1h-1zM30 77h1v1h-1zM31 28h1v1h-1zM31 30h1v1h-1zM31 49h1v1h-1zM31 61h1v1h-1zM31 63h1v1h-1zM31 68h1v1h-1zM31 82h1v1h-1zM31 89h1v1h-1zM32 35h1v1h-1zM32 45h1v1h-1zM32 46h1v1h-1zM32 50h1v1h-1zM32 51h1v1h-1zM32 63h1v1h-1zM32 81h1v1h-1zM33 43h1v1h-1zM33 57h1v1h-1zM34 23h1v1h-1zM34 40h1v1h-1zM34 43h1v1h-1zM34 49h1v1h-1zM34 64h1v1h-1zM34 70h1v1h-1zM35 16h1v1h-1zM35 31h1v1h-1zM35 47h1v1h-1zM35 50h1v1h-1zM35 58h1v1h-1zM35 60h1v1h-1zM35 68h1v1h-1zM36 29h1v1h-1zM36 42h1v1h-1zM36 68h1v1h-1zM36 96h1v1h-1zM37 45h1v1h-1zM37 50h1v1h-1zM37 55h1v1h-1zM37 56h1v1h-1zM38 26h1v1h-1zM38 53h1v1h-1zM38 54h1v1h-1zM38 55h1v1h-1zM38 56h1v1h-1zM38 60h1v1h-1zM38 74h1v1h-1zM39 43h1v1h-1zM39 48h1v1h-1zM39 51h1v1h-1zM39 54h1v1h-1zM39 57h1v1h-1zM39 61h1v1h-1zM39 78h1v1h-1zM39 83h1v1h-1zM40 47h1v1h-1zM40 48h1v1h-1zM40 56h1v1h-1zM40 81h1v1h-1zM41 27h1v1h-1zM41 32h1v1h-1zM41 35h1v1h-1zM41 49h1v1h-1zM41 62h1v1h-1zM41 85h1v1h-1zM42 31h1v1h-1zM43 19h1v1h-1zM43 22h1v1h-1zM43 33h1v1h-1zM43 34h1v1h-1zM43 37h1v1h-1zM43 47h1v1h-1zM43 56h1v1h-1zM43 59h1v1h-1zM43 78h1v1h-1zM44 22h1v1h-1zM44 45h1v1h-1zM44 56h1v1h-1zM44 73h1v1h-1zM45 28h1v1h-1zM45 32h1v1h-1zM45 34h1v1h-1zM45 44h1v1h-1zM45 47h1v1h-1zM45 49h1v1h-1zM45 51h1v1h-1zM45 53h1v1h-1zM45 61h1v1h-1zM46 73h1v1h-1zM47 48h1v1h-1zM47 53h1v1h-1zM47 55h1v1h-1zM47 61h1v1h-1zM48 42h1v1h-1zM48 49h1v1h-1zM48 50h1v1h-1zM48 55h1v1h-1zM48 78h1v1h-1zM49 63h1v1h-1zM49 79h1v1h-1zM50 15h1v1h-1zM50 29h1v1h-1zM50 32h1v1h-1zM50 39h1v1h-1zM50 41h1v1h-1zM50 61h1v1h-1zM50 74h1v1h-1zM51 34h1v1h-1zM51 40h1v1h-1zM51 43h1v1h-1zM51 66h1v1h-1zM51 78h1v1h-1zM52 43h1v1h-1zM52 60h1v1h-1zM52 74h1v1h-1zM53 44h1v1h-1zM54 35h1v1h-1zM55 35h1v1h-1zM55 39h1v1h-1zM55 51h1v1h-1zM55 65h1v1h-1zM56 33h1v1h-1zM56 40h1v1h-1zM56 44h1v1h-1zM56 45h1v1h-1zM56 49h1v1h-1zM57 28h1v1h-1zM58 30h1v1h-1zM58 39h1v1h-1zM58 42h1v1h-1zM59 43h1v1h-1zM59 44h1v1h-1zM59 48h1v1h-1zM60 33h1v1h-1zM60 41h1v1h-1zM61 34h1v1h-1zM61 50h1v1h-1zM61 53h1v1h-1zM62 47h1v1h-1zM63 33h1v1h-1zM63 37h1v1h-1zM63 52h1v1h-1zM64 40h1v1h-1zM65 64h1v1h-1zM66 38h1v1h-1zM67 44h1v1h-1zM67 51h1v1h-1zM67 52h1v1h-1zM68 50h1v1h-1zM73 41h1v1h-1zM74 38h1v1h-1zM74 62h1v1h-1zM75 63h1v1h-1zM79 58h1v1h-1zM82 52h1v1h-1zM85 39h1v1h-1zM85 54h1v1h-1zM86 53h1v1h-1zM88 40h1v1h-1zM88 43h1v1h-1zM93 40h1v1h-1z"/>
<path fill="#053c72" d="M0 37h1v1h-1zM1 49h1v1h-1zM1 52h1v1h-1zM1 55h1v1h-1zM1 60h1v1h-1zM2 20h1v1h-1zM2 29h1v1h-1zM2 33h1v1h-1zM2 39h1v1h-1zM2 45h1v1h-1zM2 60h1v1h-1zM2 65h1v1h-1zM3 30h1v1h-1zM3 37h1v1h-1zM3 42h1v1h-1zM3 45h1v1h-1zM3 50h1v1h-1zM3 57h1v1h-1zM3 59h1v1h-1zM3 82h1v1h-1zM4 28h1v1h-1zM4 39h1v1h-1zM4 43h1v1h-1zM4 48h1v1h-1zM4 81h1v1h-1zM5 37h1v1h-1zM5 46h1v1h-1zM5 49h1v1h-1zM5 51h1v1h-1zM5 52h1v1h-1zM5 53h1v1h-1zM5 66h1v1h-1zM5 71h1v1h-1zM5 86h1v1h-1zM6 15h1v1h-1zM6 41h1v1h-1zM6 48h1v1h-1zM6 49h1v1h-1zM6 54h1v1h-1zM6 60h1v1h-1zM6 69h1v1h-1zM6 77h1v1h-1zM6 79h1v1h-1zM6 84h1v1h-1zM7 33h1v1h-1zM7 39h1v1h-1zM7 53h1v1h-1zM8 36h1v1h-1zM8 63h1v1h-1zM8 75h1v1h-1zM8 76h1v1h-1zM8 77h1v1h-1zM8 79h1v1h-1zM9 19h1v1h-1zM9 32h1v1h-1zM9 34h1v1h-1zM9 37h1v1h-1zM9 47h1v1h-1zM9 49h1v1h-1zM9 50h1v1h-1zM9 57h1v1h-1zM9 67h1v1h-1zM9 80h1v1h-1zM10 50h1v1h-1zM10 53h1v1h-1zM10 55h1v1h-1zM10 71h1v1h-1zM10 76h1v1h-1zM10 87h1v1h-1zM11 30h1v1h-1zM11 36h1v1h-1zM11 46h1v1h-1zM11 47h1v1h-1zM11 50h1v1h-1zM11 67h1v1h-1zM11 77h1v1h-1zM12 27h1v1h-1zM12 30h1v1h-1zM12 31h1v1h-1zM12 50h1v1h-1zM12 52h1v1h-1zM12 55h1v1h-1zM12 69h1v1h-1zM12 78h1v1h-1zM13 34h1v1h-1zM13 37h1v1h-1zM13 39h1v1h-1zM13 42h1v1h-1zM13 46h1v1h-1zM13 49h1v1h-1zM13 50h1v1h-1zM13 52h1v1h-1zM13 63h1v1h-1zM13 74h1v1h-1zM13 77h1v1h-1zM14 31h1v1h-1zM14 32h1v1h-1zM14 39h1v1h-1zM14 47h1v1h-1zM14 49h1v1h-1zM14 50h1v1h-1zM14 58h1v1h-1zM14 60h1v1h-1zM14 62h1v1h-1zM14 70h1v1h-1zM14 77h1v1h-1zM14 80h1v1h-1zM14 90h1v1h-1zM15 28h1v1h-1zM15 32h1v1h-1zM15 34h1v1h-1zM15 47h1v1h-1zM15 49h1v1h-1zM15 51h1v1h-1zM15 52h1v1h-1zM15 58h1v1h-1zM15 60h1v1h-1zM15 63h1v1h-1zM16 9h1v1h-1zM16 17h1v1h-1zM16 21h1v1h-1zM16 25h1v1h-1zM16 33h1v1h-1zM16 35h1v1h-1zM16 38h1v1h-1zM16 40h1v1h-1zM16 56h1v1h-1zM16 62h1v1h-1zM16 69h1v1h-1zM16 71h1v1h-1zM16 81h1v1h-1zM16 84h1v1h-1zM17 41h1v1h-1zM17 45h1v1h-1zM17 49h1v1h-1zM17 54h1v1h-1zM17 57h1v1h-1zM17 61h1v1h-1zM17 76h1v1h-1zM17 79h1v1h-1zM17 86h1v1h-1zM17 91h1v1h-1zM18 13h1v1h-1zM18 19h1v1h-1zM18 22h1v1h-1zM18 31h1v1h-1zM18 35h1v1h-1zM18 42h1v1h-1zM18 50h1v1h-1zM18 57h1v1h-1zM18 62h1v1h-1zM18 69h1v1h-1zM18 82h1v1h-1zM19 25h1v1h-1zM19 27h1v1h-1zM19 30h1v1h-1zM19 34h1v1h-1zM19 35h1v1h-1zM19 42h1v1h-1zM19 46h1v1h-1zM19 56h1v1h-1zM19 59h1v1h-1zM19 63h1v1h-1zM19 69h1v1h-1zM19 74h1v1h-1zM19 86h1v1h-1zM19 87h1v1h-1zM20 28h1v1h-1zM20 37h1v1h-1zM20 50h1v1h-1zM20 51h1v1h-1zM20 53h1v1h-1zM20 59h1v1h-1zM20 67h1v1h-1zM20 80h1v1h-1zM21 35h1v1h-1zM21 48h1v1h-1zM21 52h1v1h-1zM21 58h1v1h-1zM21 61h1v1h-1zM21 62h1v1h-1zM21 76h1v1h-1zM22 24h1v1h-1zM22 45h1v1h-1zM22 46h1v1h-1zM22 58h1v1h-1zM22 59h1v1h-1zM22 62h1v1h-1zM22 67h1v1h-1zM22 90h1v1h-1zM23 12h1v1h-1zM23 28h1v1h-1zM23 40h1v1h-1zM23 44h1v1h-1zM23 45h1v1h-1zM23 47h1v1h-1zM23 52h1v1h-1zM23 53h1v1h-1zM23 55h1v1h-1zM23 59h1v1h-1zM23 76h1v1h-1zM24 22h1v1h-1zM24 35h1v1h-1zM24 49h1v1h-1zM24 50h1v1h-1zM24 87h1v1h-1zM25 0h1v1h-1zM25 4h1v1h-1zM25 9h1v1h-1zM25 20h1v1h-1zM25 32h1v1h-1zM25 38h1v1h-1zM25 40h1v1h-1zM25 51h1v1h-1zM25 52h1v1h-1zM25 55h1v1h-1zM25 58h1v1h-1zM25 74h1v1h-1zM26 8h1v1h-1zM26 29h1v1h-1zM26 41h1v1h-1zM26 47h1v1h-1zM26 49h1v1h-1zM26 59h1v1h-1zM26 62h1v1h-1zM26 65h1v1h-1zM26 76h1v1h-1zM26 86h1v1h-1zM27 27h1v1h-1zM27 30h1v1h-1zM27 33h1v1h-1zM27 34h1v1h-1zM27 36h1v1h-1zM27 37h1v1h-1zM27 41h1v1h-1zM27 51h1v1h-1zM27 65h1v1h-1zM27 71h1v1h-1zM27 77h1v1h-1zM28 23h1v1h-1zM28 40h1v1h-1zM28 42h1v1h-1zM28 45h1v1h-1zM28 47h1v1h-1zM28 60h1v1h-1zM28 88h1v1h-1zM29 30h1v1h-1zM29 32h1v1h-1zM29 38h1v1h-1zM29 44h1v1h-1zM29 48h1v1h-1zM29 60h1v1h-1zM29 61h1v1h-1zM29 73h1v1h-1zM30 31h1v1h-1zM30 32h1v1h-1zM30 34h1v1h-1zM30 39h1v1h-1zM30 53h1v1h-1zM30 67h1v1h-1zM30 68h1v1h-1zM31 19h1v1h-1zM31 23h1v1h-1zM31 33h1v1h-1zM31 47h1v1h-1zM31 53h1v1h-1zM31 57h1v1h-1zM31 65h1v1h-1zM31 66h1v1h-1zM31 70h1v1h-1zM31 71h1v1h-1zM32 44h1v1h-1zM32 55h1v1h-1zM32 58h1v1h-1zM32 66h1v1h-1zM32 68h1v1h-1zM32 70h1v1h-1zM32 72h1v1h-1zM33 21h1v1h-1zM33 27h1v1h-1zM33 41h1v1h-1zM33 47h1v1h-1zM33 50h1v1h-1zM33 59h1v1h-1zM33 72h1v1h-1zM33 73h1v1h-1zM33 81h1v1h-1zM34 25h1v1h-1zM34 52h1v1h-1zM34 54h1v1h-1zM34 58h1v1h-1zM34 75h1v1h-1zM35 24h1v1h-1zM35 45h1v1h-1zM35 49h1v1h-1zM35 53h1v1h-1zM35 75h1v1h-1zM35 76h1v1h-1zM35 84h1v1h-1zM35 90h1v1h-1zM36 39h1v1h-1zM36 43h1v1h-1zM36 52h1v1h-1zM36 55h1v1h-1zM36 66h1v1h-1zM36 76h1v1h-1zM36 79h1v1h-1zM37 47h1v1h-1zM37 61h1v1h-1zM37 69h1v1h-1zM38 30h1v1h-1zM38 48h1v1h-1zM38 58h1v1h-1zM38 59h1v1h-1zM38 64h1v1h-1zM38 66h1v1h-1zM38 76h1v1h-1zM39 26h1v1h-1zM39 35h1v1h-1zM39 56h1v1h-1zM39 58h1v1h-1zM39 63h1v1h-1zM40 22h1v1h-1zM40 32h1v1h-1zM40 53h1v1h-1zM40 57h1v1h-1zM41 23h1v1h-1zM41 25h1v1h-1zM41 29h1v1h-1zM41 31h1v1h-1zM41 48h1v1h-1zM41 50h1v1h-1zM41 84h1v1h-1zM42 25h1v1h-1zM42 28h1v1h-1zM42 30h1v1h-1zM42 61h1v1h-1zM42 88h1v1h-1zM43 27h1v1h-1zM43 28h1v1h-1zM43 38h1v1h-1zM43 53h1v1h-1zM43 60h1v1h-1zM44 33h1v1h-1zM44 37h1v1h-1zM44 53h1v1h-1zM44 75h1v1h-1zM45 79h1v1h-1zM46 32h1v1h-1zM47 30h1v1h-1zM47 41h1v1h-1zM47 45h1v1h-1zM47 50h1v1h-1zM48 36h1v1h-1zM48 40h1v1h-1zM48 54h1v1h-1zM48 66h1v1h-1zM49 44h1v1h-1zM49 45h1v1h-1zM49 67h1v1h-1zM49 76h1v1h-1zM50 42h1v1h-1zM50 62h1v1h-1zM50 80h1v1h-1zM51 42h1v1h-1zM51 48h1v1h-1zM51 51h1v1h-1zM52 22h1v1h-1zM52 47h1v1h-1zM53 30h1v1h-1zM53 41h1v1h-1zM53 46h1v1h-1zM53 47h1v1h-1zM53 53h1v1h-1zM54 26h1v1h-1zM54 43h1v1h-1zM54 52h1v1h-1zM54 55h1v1h-1zM54 63h1v1h-1zM54 77h1v1h-1zM55 26h1v1h-1zM55 43h1v1h-1zM55 50h1v1h-1zM55 59h1v1h-1zM55 64h1v1h-1zM55 72h1v1h-1zM56 42h1v1h-1zM56 75h1v1h-1zM56 80h1v1h-1zM57 26h1v1h-1zM57 34h1v1h-1zM57 40h1v1h-1zM57 77h1v1h-1zM57 90h1v1h-1zM58 31h1v1h-1zM58 34h1v1h-1zM58 37h1v1h-1zM58 44h1v1h-1zM58 59h1v1h-1zM59 30h1v1h-1zM59 32h1v1h-1zM59 47h1v1h-1zM59 50h1v1h-1zM59 75h1v1h-1zM59 76h1v1h-1zM60 42h1v1h-1zM60 48h1v1h-1zM61 39h1v1h-1zM62 29h1v1h-1zM62 42h1v1h-1zM62 49h1v1h-1zM62 79h1v1h-1zM63 49h1v1h-1zM64 45h1v1h-1zM64 71h1v1h-1zM65 33h1v1h-1zM65 38h1v1h-1zM65 45h1v1h-1zM65 66h1v1h-1zM66 37h1v1h-1zM66 42h1v1h-1zM68 33h1v1h-1zM68 35h1v1h-1zM69 46h1v1h-1zM69 49h1v1h-1zM70 34h1v1h-1zM70 40h1v1h-1zM70 59h1v1h-1zM71 39h1v1h-1zM72 36h1v1h-1zM72 43h1v1h-1zM73 38h1v1h-1zM75 50h1v1h-1zM76 41h1v1h-1zM77 43h1v1h-1zM79 40h1v1h-1zM79 46h1v1h-1zM81 50h1v1h-1zM82 42h1v1h-1zM84 47h1v1h-1z"/>
<path fill="#003c70" d="M0 30h1v1h-1zM0 36h1v1h-1zM0 60h1v1h-1zM0 69h1v1h-1zM1 28h1v1h-1zM1 34h1v1h-1zM1 44h1v1h-1zM1 63h1v1h-1zM2 35h1v1h-1zM2 37h1v1h-1zM2 48h1v1h-1zM3 29h1v1h-1zM3 36h1v1h-1zM3 56h1v1h-1zM3 68h1v1h-1zM3 70h1v1h-1zM3 75h1v1h-1zM3 83h1v1h-1zM4 21h1v1h-1zM4 38h1v1h-1zM4 42h1v1h-1zM4 52h1v1h-1zM4 80h1v1h-1zM5 16h1v1h-1zM5 39h1v1h-1zM5 40h1v1h-1zM5 50h1v1h-1zM5 61h1v1h-1zM5 72h1v1h-1zM6 52h1v1h-1zM6 56h1v1h-1zM6 65h1v1h-1zM6 66h1v1h-1zM6 68h1v1h-1zM6 86h1v1h-1zM7 18h1v1h-1zM7 66h1v1h-1zM7 67h1v1h-1zM7 75h1v1h-1zM7 78h1v1h-1zM7 81h1v1h-1zM7 87h1v1h-1zM8 28h1v1h-1zM8 40h1v1h-1zM8 53h1v1h-1zM8 57h1v1h-1zM8 59h1v1h-1zM8 66h1v1h-1zM8 68h1v1h-1zM8 72h1v1h-1zM9 25h1v1h-1zM9 33h1v1h-1zM9 38h1v1h-1zM9 41h1v1h-1zM9 55h1v1h-1zM9 63h1v1h-1zM9 66h1v1h-1zM9 71h1v1h-1zM9 74h1v1h-1zM9 77h1v1h-1zM10 39h1v1h-1zM10 41h1v1h-1zM10 46h1v1h-1zM10 51h1v1h-1zM10 54h1v1h-1zM10 68h1v1h-1zM11 1h1v1h-1zM11 38h1v1h-1zM11 40h1v1h-1zM11 43h1v1h-1zM11 49h1v1h-1zM11 59h1v1h-1zM12 21h1v1h-1zM12 26h1v1h-1zM12 42h1v1h-1zM12 44h1v1h-1zM12 48h1v1h-1zM12 49h1v1h-1zM12 51h1v1h-1zM12 60h1v1h-1zM12 88h1v1h-1zM12 91h1v1h-1zM13 19h1v1h-1zM13 26h1v1h-1zM13 32h1v1h-1zM13 47h1v1h-1zM13 51h1v1h-1zM13 55h1v1h-1zM13 56h1v1h-1zM13 57h1v1h-1zM13 58h1v1h-1zM13 65h1v1h-1zM13 78h1v1h-1zM13 81h1v1h-1zM13 83h1v1h-1zM14 33h1v1h-1zM14 51h1v1h-1zM14 52h1v1h-1zM14 64h1v1h-1zM14 85h1v1h-1zM15 18h1v1h-1zM15 38h1v1h-1zM15 40h1v1h-1zM15 42h1v1h-1zM15 50h1v1h-1zM15 56h1v1h-1zM15 57h1v1h-1zM15 64h1v1h-1zM16 30h1v1h-1zM16 36h1v1h-1zM16 43h1v1h-1zM16 47h1v1h-1zM16 51h1v1h-1zM16 58h1v1h-1zM16 60h1v1h-1zM16 76h1v1h-1zM17 16h1v1h-1zM17 19h1v1h-1zM17 30h1v1h-1zM17 34h1v1h-1zM17 40h1v1h-1zM17 44h1v1h-1zM17 52h1v1h-1zM17 56h1v1h-1zM17 58h1v1h-1zM17 59h1v1h-1zM17 64h1v1h-1zM17 66h1v1h-1zM17 67h1v1h-1zM17 75h1v1h-1zM18 27h1v1h-1zM18 38h1v1h-1zM18 46h1v1h-1zM18 59h1v1h-1zM18 61h1v1h-1zM18 81h1v1h-1zM19 31h1v1h-1zM19 38h1v1h-1zM19 39h1v1h-1zM19 40h1v1h-1zM19 41h1v1h-1zM19 45h1v1h-1zM19 48h1v1h-1zM19 58h1v1h-1zM19 60h1v1h-1zM19 67h1v1h-1zM19 80h1v1h-1zM20 14h1v1h-1zM20 18h1v1h-1zM20 19h1v1h-1zM20 23h1v1h-1zM20 33h1v1h-1zM20 36h1v1h-1zM20 38h1v1h-1zM20 47h1v1h-1zM20 48h1v1h-1zM20 52h1v1h-1zM20 68h1v1h-1zM20 72h1v1h-1zM20 77h1v1h-1zM21 17h1v1h-1zM21 38h1v1h-1zM21 41h1v1h-1zM21 54h1v1h-1zM21 57h1v1h-1zM21 60h1v1h-1zM21 78h1v1h-1zM21 80h1v1h-1zM21 81h1v1h-1zM21 88h1v1h-1zM22 9h1v1h-1zM22 28h1v1h-1zM22 44h1v1h-1zM22 47h1v1h-1zM22 54h1v1h-1zM22 55h1v1h-1zM22 57h1v1h-1zM22 72h1v1h-1zM22 78h1v1h-1zM23 16h1v1h-1zM23 19h1v1h-1zM23 23h1v1h-1zM23 25h1v1h-1zM23 31h1v1h-1zM23 34h1v1h-1zM23 42h1v1h-1zM23 49h1v1h-1zM23 50h1v1h-1zM23 54h1v1h-1zM23 57h1v1h-1zM23 72h1v1h-1zM23 73h1v1h-1zM23 75h1v1h-1zM23 84h1v1h-1zM24 14h1v1h-1zM24 30h1v1h-1zM24 31h1v1h-1zM24 41h1v1h-1zM24 47h1v1h-1zM24 52h1v1h-1zM24 54h1v1h-1zM24 67h1v1h-1zM24 82h1v1h-1zM25 22h1v1h-1zM25 25h1v1h-1zM25 26h1v1h-1zM25 31h1v1h-1zM25 35h1v1h-1zM25 37h1v1h-1zM25 43h1v1h-1zM25 44h1v1h-1zM25 47h1v1h-1zM25 48h1v1h-1zM25 87h1v1h-1zM26 9h1v1h-1zM26 22h1v1h-1zM26 28h1v1h-1zM26 37h1v1h-1zM26 40h1v1h-1zM26 46h1v1h-1zM26 51h1v1h-1zM26 52h1v1h-1zM26 54h1v1h-1zM26 71h1v1h-1zM26 78h1v1h-1zM27 11h1v1h-1zM27 18h1v1h-1zM27 25h1v1h-1zM27 29h1v1h-1zM27 39h1v1h-1zM27 43h1v1h-1zM27 45h1v1h-1zM27 49h1v1h-1zM27 53h1v1h-1zM27 82h1v1h-1zM27 87h1v1h-1zM28 16h1v1h-1zM28 30h1v1h-1zM28 34h1v1h-1zM28 36h1v1h-1zM28 41h1v1h-1zM28 43h1v1h-1zM28 53h1v1h-1zM28 69h1v1h-1zM28 73h1v1h-1zM29 10h1v1h-1zM29 15h1v1h-1zM29 22h1v1h-1zM29 24h1v1h-1zM29 37h1v1h-1zM29 39h1v1h-1zM29 46h1v1h-1zM29 57h1v1h-1zM29 65h1v1h-1zM29 67h1v1h-1zM29 74h1v1h-1zM29 91h1v1h-1zM30 27h1v1h-1zM30 47h1v1h-1zM30 48h1v1h-1zM30 49h1v1h-1zM30 50h1v1h-1zM30 52h1v1h-1zM30 54h1v1h-1zM30 60h1v1h-1zM30 61h1v1h-1zM30 65h1v1h-1zM30 70h1v1h-1zM31 16h1v1h-1zM31 29h1v1h-1zM31 35h1v1h-1zM31 38h1v1h-1zM31 39h1v1h-1zM31 50h1v1h-1zM31 58h1v1h-1zM31 62h1v1h-1zM31 69h1v1h-1zM32 26h1v1h-1zM32 38h1v1h-1zM32 52h1v1h-1zM32 57h1v1h-1zM32 67h1v1h-1zM32 71h1v1h-1zM32 73h1v1h-1zM32 90h1v1h-1zM33 29h1v1h-1zM33 35h1v1h-1zM33 36h1v1h-1zM33 48h1v1h-1zM33 63h1v1h-1zM33 67h1v1h-1zM33 70h1v1h-1zM33 71h1v1h-1zM33 74h1v1h-1zM33 75h1v1h-1zM34 17h1v1h-1zM34 47h1v1h-1zM34 62h1v1h-1zM34 63h1v1h-1zM34 65h1v1h-1zM34 78h1v1h-1zM34 80h1v1h-1zM34 86h1v1h-1zM34 88h1v1h-1zM35 22h1v1h-1zM35 23h1v1h-1zM35 40h1v1h-1zM35 46h1v1h-1zM35 71h1v1h-1zM36 22h1v1h-1zM36 41h1v1h-1zM36 47h1v1h-1zM36 50h1v1h-1zM36 60h1v1h-1zM36 63h1v1h-1zM36 72h1v1h-1zM37 26h1v1h-1zM37 49h1v1h-1zM37 60h1v1h-1zM37 82h1v1h-1zM38 25h1v1h-1zM38 27h1v1h-1zM38 38h1v1h-1zM38 44h1v1h-1zM38 47h1v1h-1zM38 50h1v1h-1zM38 57h1v1h-1zM39 27h1v1h-1zM39 32h1v1h-1zM39 44h1v1h-1zM39 47h1v1h-1zM39 84h1v1h-1zM40 30h1v1h-1zM40 31h1v1h-1zM40 43h1v1h-1zM40 51h1v1h-1zM40 52h1v1h-1zM40 65h1v1h-1zM40 74h1v1h-1zM41 56h1v1h-1zM41 58h1v1h-1zM41 67h1v1h-1zM41 70h1v1h-1zM41 94h1v1h-1zM42 23h1v1h-1zM42 32h1v1h-1zM42 47h1v1h-1zM42 48h1v1h-1zM42 49h1v1h-1zM42 56h1v1h-1zM42 57h1v1h-1zM42 64h1v1h-1zM42 75h1v1h-1zM43 49h1v1h-1zM43 57h1v1h-1zM43 58h1v1h-1zM43 68h1v1h-1zM43 77h1v1h-1zM44 36h1v1h-1zM44 39h1v1h-1zM44 49h1v1h-1zM44 51h1v1h-1zM44 63h1v1h-1zM44 72h1v1h-1zM44 74h1v1h-1zM45 23h1v1h-1zM45 35h1v1h-1zM45 45h1v1h-1zM45 63h1v1h-1zM46 28h1v1h-1zM46 49h1v1h-1zM46 64h1v1h-1zM46 65h1v1h-1zM47 49h1v1h-1zM47 59h1v1h-1zM48 21h1v1h-1zM48 63h1v1h-1zM48 79h1v1h-1zM49 39h1v1h-1zM49 43h1v1h-1zM49 47h1v1h-1zM49 55h1v1h-1zM49 61h1v1h-1zM49 64h1v1h-1zM49 92h1v1h-1zM50 51h1v1h-1zM50 55h1v1h-1zM50 58h1v1h-1zM50 72h1v1h-1zM51 46h1v1h-1zM51 47h1v1h-1zM52 38h1v1h-1zM52 40h1v1h-1zM52 45h1v1h-1zM52 68h1v1h-1zM53 61h1v1h-1zM53 65h1v1h-1zM54 68h1v1h-1zM55 30h1v1h-1zM55 55h1v1h-1zM55 74h1v1h-1zM56 47h1v1h-1zM57 37h1v1h-1zM57 46h1v1h-1zM57 94h1v1h-1zM58 32h1v1h-1zM58 49h1v1h-1zM58 55h1v1h-1zM58 62h1v1h-1zM58 76h1v1h-1zM59 37h1v1h-1zM59 62h1v1h-1zM59 68h1v1h-1zM60 40h1v1h-1zM60 64h1v1h-1zM61 44h1v1h-1zM61 48h1v1h-1zM61 54h1v1h-1zM62 31h1v1h-1zM62 35h1v1h-1zM62 51h1v1h-1zM63 39h1v1h-1zM64 34h1v1h-1zM64 49h1v1h-1zM64 54h1v1h-1zM65 37h1v1h-1zM65 42h1v1h-1zM65 43h1v1h-1zM66 35h1v1h-1zM66 36h1v1h-1zM66 43h1v1h-1zM67 31h1v1h-1zM67 34h1v1h-1zM67 37h1v1h-1zM67 41h1v1h-1zM67 48h1v1h-1zM67 49h1v1h-1zM68 40h1v1h-1zM68 52h1v1h-1zM69 51h1v1h-1zM70 49h1v1h-1zM70 57h1v1h-1zM71 44h1v1h-1zM72 38h1v1h-1zM72 44h1v1h-1zM72 48h1v1h-1zM75 42h1v1h-1zM76 39h1v1h-1zM76 44h1v1h-1zM78 40h1v1h-1zM83 36h1v1h-1zM83 39h1v1h-1zM86 39h1v1h-1z"/>
<path fill="#02406c" d="M0 39h1v1h-1zM0 77h1v1h-1zM0 81h1v1h-1zM1 29h1v1h-1zM1 30h1v1h-1zM1 36h1v1h-1zM2 17h1v1h-1zM2 30h1v1h-1zM2 50h1v1h-1zM2 64h1v1h-1zM3 21h1v1h-1zM3 49h1v1h-1zM3 63h1v1h-1zM4 31h1v1h-1zM4 37h1v1h-1zM4 50h1v1h-1zM4 62h1v1h-1zM4 68h1v1h-1zM5 35h1v1h-1zM5 36h1v1h-1zM5 44h1v1h-1zM5 62h1v1h-1zM5 74h1v1h-1zM6 35h1v1h-1zM6 40h1v1h-1zM6 45h1v1h-1zM6 63h1v1h-1zM6 91h1v1h-1zM7 20h1v1h-1zM7 27h1v1h-1zM7 30h1v1h-1zM7 40h1v1h-1zM7 57h1v1h-1zM7 61h1v1h-1zM7 72h1v1h-1zM8 12h1v1h-1zM8 17h1v1h-1zM8 20h1v1h-1zM8 25h1v1h-1zM8 31h1v1h-1zM8 32h1v1h-1zM8 62h1v1h-1zM8 70h1v1h-1zM8 73h1v1h-1zM9 31h1v1h-1zM9 35h1v1h-1zM9 39h1v1h-1zM9 51h1v1h-1zM9 53h1v1h-1zM9 62h1v1h-1zM9 64h1v1h-1zM9 69h1v1h-1zM9 84h1v1h-1zM10 16h1v1h-1zM10 22h1v1h-1zM10 32h1v1h-1zM10 61h1v1h-1zM10 65h1v1h-1zM10 74h1v1h-1zM11 29h1v1h-1zM11 37h1v1h-1zM11 48h1v1h-1zM11 54h1v1h-1zM11 66h1v1h-1zM11 69h1v1h-1zM12 17h1v1h-1zM12 32h1v1h-1zM12 57h1v1h-1zM12 61h1v1h-1zM12 70h1v1h-1zM12 75h1v1h-1zM13 20h1v1h-1zM13 25h1v1h-1zM13 33h1v1h-1zM13 38h1v1h-1zM13 48h1v1h-1zM13 61h1v1h-1zM14 19h1v1h-1zM14 25h1v1h-1zM14 29h1v1h-1zM14 61h1v1h-1zM14 68h1v1h-1zM14 71h1v1h-1zM15 20h1v1h-1zM15 30h1v1h-1zM15 53h1v1h-1zM15 59h1v1h-1zM15 65h1v1h-1zM16 18h1v1h-1zM16 24h1v1h-1zM16 39h1v1h-1zM16 59h1v1h-1zM16 73h1v1h-1zM16 75h1v1h-1zM16 79h1v1h-1zM17 2h1v1h-1zM17 70h1v1h-1zM17 71h1v1h-1zM18 15h1v1h-1zM18 20h1v1h-1zM18 37h1v1h-1zM18 40h1v1h-1zM18 58h1v1h-1zM18 72h1v1h-1zM19 29h1v1h-1zM20 21h1v1h-1zM20 34h1v1h-1zM20 40h1v1h-1zM20 64h1v1h-1zM21 8h1v1h-1zM21 21h1v1h-1zM21 29h1v1h-1zM21 32h1v1h-1zM21 34h1v1h-1zM21 40h1v1h-1zM21 47h1v1h-1zM21 50h1v1h-1zM21 55h1v1h-1zM21 69h1v1h-1zM21 77h1v1h-1zM22 10h1v1h-1zM22 18h1v1h-1zM22 19h1v1h-1zM22 21h1v1h-1zM22 34h1v1h-1zM22 38h1v1h-1zM22 40h1v1h-1zM22 68h1v1h-1zM22 75h1v1h-1zM23 29h1v1h-1zM23 30h1v1h-1zM24 20h1v1h-1zM24 73h1v1h-1zM24 75h1v1h-1zM24 80h1v1h-1zM25 27h1v1h-1zM25 45h1v1h-1zM25 50h1v1h-1zM25 53h1v1h-1zM25 56h1v1h-1zM25 65h1v1h-1zM26 7h1v1h-1zM26 20h1v1h-1zM26 35h1v1h-1zM26 45h1v1h-1zM26 50h1v1h-1zM26 53h1v1h-1zM26 79h1v1h-1zM26 81h1v1h-1zM27 8h1v1h-1zM27 10h1v1h-1zM27 48h1v1h-1zM27 54h1v1h-1zM27 56h1v1h-1zM27 80h1v1h-1zM27 81h1v1h-1zM28 35h1v1h-1zM28 52h1v1h-1zM28 55h1v1h-1zM28 58h1v1h-1zM29 11h1v1h-1zM29 16h1v1h-1zM29 28h1v1h-1zM29 47h1v1h-1zM29 50h1v1h-1zM29 51h1v1h-1zM29 54h1v1h-1zM29 62h1v1h-1zM29 68h1v1h-1zM29 89h1v1h-1zM30 22h1v1h-1zM30 29h1v1h-1zM30 42h1v1h-1zM30 45h1v1h-1zM30 74h1v1h-1zM30 91h1v1h-1zM31 10h1v1h-1zM31 11h1v1h-1zM31 44h1v1h-1zM31 56h1v1h-1zM31 60h1v1h-1zM31 67h1v1h-1zM31 94h1v1h-1zM32 12h1v1h-1zM32 18h1v1h-1zM32 25h1v1h-1zM32 37h1v1h-1zM32 49h1v1h-1zM32 53h1v1h-1zM32 59h1v1h-1zM32 64h1v1h-1zM32 65h1v1h-1zM32 75h1v1h-1zM32 76h1v1h-1zM33 19h1v1h-1zM33 24h1v1h-1zM33 39h1v1h-1zM33 45h1v1h-1zM33 49h1v1h-1zM33 66h1v1h-1zM34 41h1v1h-1zM34 42h1v1h-1zM34 60h1v1h-1zM34 66h1v1h-1zM35 28h1v1h-1zM35 54h1v1h-1zM35 57h1v1h-1zM35 59h1v1h-1zM35 73h1v1h-1zM35 74h1v1h-1zM36 27h1v1h-1zM36 40h1v1h-1zM36 54h1v1h-1zM36 57h1v1h-1zM36 61h1v1h-1zM36 67h1v1h-1zM36 70h1v1h-1zM36 71h1v1h-1zM36 86h1v1h-1zM36 91h1v1h-1zM37 25h1v1h-1zM37 30h1v1h-1zM37 59h1v1h-1zM37 62h1v1h-1zM37 66h1v1h-1zM37 67h1v1h-1zM37 79h1v1h-1zM38 21h1v1h-1zM38 40h1v1h-1zM38 51h1v1h-1zM39 52h1v1h-1zM39 59h1v1h-1zM39 64h1v1h-1zM39 67h1v1h-1zM39 68h1v1h-1zM39 72h1v1h-1zM39 77h1v1h-1zM40 46h1v1h-1zM40 49h1v1h-1zM40 60h1v1h-1zM40 75h1v1h-1zM41 28h1v1h-1zM41 43h1v1h-1zM41 53h1v1h-1zM41 54h1v1h-1zM41 57h1v1h-1zM41 63h1v1h-1zM41 69h1v1h-1zM42 62h1v1h-1zM42 68h1v1h-1zM43 46h1v1h-1zM44 26h1v1h-1zM44 40h1v1h-1zM44 43h1v1h-1zM44 47h1v1h-1zM44 50h1v1h-1zM45 46h1v1h-1zM45 50h1v1h-1zM45 52h1v1h-1zM46 21h1v1h-1zM46 29h1v1h-1zM46 48h1v1h-1zM46 60h1v1h-1zM46 72h1v1h-1zM46 82h1v1h-1zM47 26h1v1h-1zM47 46h1v1h-1zM48 46h1v1h-1zM48 53h1v1h-1zM48 68h1v1h-1zM48 87h1v1h-1zM49 48h1v1h-1zM49 70h1v1h-1zM49 86h1v1h-1zM50 25h1v1h-1zM50 37h1v1h-1zM50 44h1v1h-1zM50 45h1v1h-1zM50 69h1v1h-1zM50 71h1v1h-1zM50 73h1v1h-1zM50 82h1v1h-1zM50 88h1v1h-1zM51 57h1v1h-1zM51 63h1v1h-1zM52 34h1v1h-1zM52 52h1v1h-1zM53 38h1v1h-1zM53 75h1v1h-1zM54 28h1v1h-1zM54 41h1v1h-1zM54 45h1v1h-1zM54 57h1v1h-1zM54 73h1v1h-1zM56 54h1v1h-1zM56 56h1v1h-1zM56 65h1v1h-1zM57 45h1v1h-1zM58 41h1v1h-1zM58 47h1v1h-1zM58 84h1v1h-1zM59 34h1v1h-1zM59 42h1v1h-1zM59 65h1v1h-1zM60 32h1v1h-1zM60 44h1v1h-1zM61 45h1v1h-1zM61 55h1v1h-1zM62 37h1v1h-1zM63 40h1v1h-1zM66 46h1v1h-1zM67 36h1v1h-1zM67 47h1v1h-1zM67 59h1v1h-1zM68 28h1v1h-1zM68 39h1v1h-1zM70 26h1v1h-1zM70 48h1v1h-1zM72 42h1v1h-1zM73 40h1v1h-1zM73 43h1v1h-1zM73 44h1v1h-1zM77 40h1v1h-1zM79 43h1v1h-1zM79 50h1v1h-1zM81 48h1v1h-1zM86 44h1v1h-1z"/>
<path fill="#034468" d="M0 65h1v1h-1zM0 73h1v1h-1zM0 82h1v1h-1zM1 67h1v1h-1zM1 74h1v1h-1zM1 83h1v1h-1zM2 16h1v1h-1zM2 28h1v1h-1zM2 46h1v1h-1zM2 56h1v1h-1zM3 44h1v1h-1zM3 54h1v1h-1zM4 33h1v1h-1zM4 46h1v1h-1zM4 61h1v1h-1zM4 63h1v1h-1zM4 86h1v1h-1zM5 15h1v1h-1zM5 21h1v1h-1zM5 25h1v1h-1zM5 30h1v1h-1zM5 64h1v1h-1zM6 20h1v1h-1zM6 24h1v1h-1zM6 25h1v1h-1zM6 33h1v1h-1zM6 34h1v1h-1zM6 53h1v1h-1zM6 57h1v1h-1zM6 82h1v1h-1zM6 88h1v1h-1zM7 25h1v1h-1zM7 26h1v1h-1zM7 31h1v1h-1zM7 38h1v1h-1zM8 47h1v1h-1zM8 58h1v1h-1zM8 65h1v1h-1zM8 71h1v1h-1zM9 5h1v1h-1zM9 78h1v1h-1zM10 20h1v1h-1zM10 23h1v1h-1zM10 24h1v1h-1zM10 25h1v1h-1zM10 27h1v1h-1zM10 49h1v1h-1zM10 57h1v1h-1zM11 3h1v1h-1zM11 32h1v1h-1zM11 33h1v1h-1zM11 34h1v1h-1zM11 53h1v1h-1zM11 57h1v1h-1zM11 58h1v1h-1zM11 65h1v1h-1zM11 75h1v1h-1zM11 76h1v1h-1zM11 87h1v1h-1zM12 14h1v1h-1zM12 22h1v1h-1zM12 34h1v1h-1zM12 63h1v1h-1zM12 64h1v1h-1zM12 72h1v1h-1zM13 11h1v1h-1zM13 22h1v1h-1zM13 64h1v1h-1zM14 21h1v1h-1zM14 36h1v1h-1zM14 83h1v1h-1zM15 21h1v1h-1zM15 61h1v1h-1zM15 73h1v1h-1zM16 34h1v1h-1zM16 78h1v1h-1zM17 33h1v1h-1zM18 30h1v1h-1zM18 33h1v1h-1zM18 47h1v1h-1zM18 53h1v1h-1zM18 54h1v1h-1zM18 73h1v1h-1zM18 75h1v1h-1zM19 33h1v1h-1zM19 51h1v1h-1zM19 72h1v1h-1zM20 20h1v1h-1zM20 39h1v1h-1zM20 41h1v1h-1zM20 58h1v1h-1zM21 19h1v1h-1zM21 27h1v1h-1zM21 37h1v1h-1zM21 73h1v1h-1zM22 8h1v1h-1zM22 13h1v1h-1zM22 16h1v1h-1zM22 41h1v1h-1zM22 71h1v1h-1zM23 0h1v1h-1zM23 37h1v1h-1zM23 62h1v1h-1zM23 71h1v1h-1zM23 74h1v1h-1zM23 77h1v1h-1zM24 36h1v1h-1zM24 48h1v1h-1zM24 51h1v1h-1zM24 57h1v1h-1zM25 6h1v1h-1zM25 33h1v1h-1zM25 49h1v1h-1zM25 54h1v1h-1zM25 63h1v1h-1zM26 14h1v1h-1zM26 18h1v1h-1zM26 27h1v1h-1zM26 74h1v1h-1zM27 26h1v1h-1zM27 31h1v1h-1zM27 44h1v1h-1zM27 47h1v1h-1zM27 50h1v1h-1zM27 76h1v1h-1zM28 44h1v1h-1zM28 48h1v1h-1zM28 57h1v1h-1zM28 65h1v1h-1zM28 79h1v1h-1zM29 9h1v1h-1zM29 21h1v1h-1zM29 25h1v1h-1zM29 43h1v1h-1zM29 45h1v1h-1zM29 49h1v1h-1zM29 52h1v1h-1zM29 55h1v1h-1zM29 56h1v1h-1zM30 6h1v1h-1zM30 10h1v1h-1zM30 23h1v1h-1zM30 25h1v1h-1zM30 40h1v1h-1zM30 51h1v1h-1zM30 55h1v1h-1zM30 58h1v1h-1zM30 63h1v1h-1zM30 66h1v1h-1zM30 75h1v1h-1zM31 31h1v1h-1zM31 46h1v1h-1zM31 54h1v1h-1zM31 59h1v1h-1zM31 64h1v1h-1zM31 78h1v1h-1zM31 79h1v1h-1zM31 81h1v1h-1zM31 83h1v1h-1zM32 9h1v1h-1zM32 16h1v1h-1zM32 61h1v1h-1zM32 62h1v1h-1zM32 69h1v1h-1zM33 31h1v1h-1zM33 46h1v1h-1zM33 54h1v1h-1zM33 64h1v1h-1zM34 45h1v1h-1zM34 53h1v1h-1zM34 67h1v1h-1zM34 77h1v1h-1zM34 82h1v1h-1zM35 19h1v1h-1zM35 70h1v1h-1zM35 81h1v1h-1zM36 45h1v1h-1zM36 59h1v1h-1zM36 62h1v1h-1zM36 84h1v1h-1zM37 34h1v1h-1zM37 38h1v1h-1zM37 39h1v1h-1zM37 42h1v1h-1zM37 57h1v1h-1zM37 71h1v1h-1zM37 92h1v1h-1zM38 39h1v1h-1zM38 79h1v1h-1zM39 33h1v1h-1zM39 69h1v1h-1zM39 70h1v1h-1zM39 76h1v1h-1zM40 54h1v1h-1zM40 55h1v1h-1zM40 66h1v1h-1zM41 26h1v1h-1zM41 55h1v1h-1zM41 68h1v1h-1zM41 72h1v1h-1zM41 79h1v1h-1zM42 41h1v1h-1zM42 50h1v1h-1zM42 51h1v1h-1zM42 58h1v1h-1zM42 66h1v1h-1zM42 67h1v1h-1zM42 82h1v1h-1zM43 31h1v1h-1zM43 48h1v1h-1zM43 80h1v1h-1zM44 20h1v1h-1zM44 55h1v1h-1zM44 69h1v1h-1zM45 38h1v1h-1zM45 58h1v1h-1zM45 66h1v1h-1zM45 75h1v1h-1zM45 85h1v1h-1zM46 50h1v1h-1zM46 57h1v1h-1zM46 66h1v1h-1zM47 27h1v1h-1zM47 33h1v1h-1zM47 34h1v1h-1zM47 37h1v1h-1zM47 79h1v1h-1zM47 81h1v1h-1zM47 87h1v1h-1zM48 41h1v1h-1zM48 80h1v1h-1zM49 38h1v1h-1zM49 42h1v1h-1zM50 56h1v1h-1zM50 66h1v1h-1zM51 26h1v1h-1zM51 95h1v1h-1zM52 66h1v1h-1zM52 72h1v1h-1zM53 52h1v1h-1zM53 68h1v1h-1zM54 33h1v1h-1zM54 46h1v1h-1zM54 64h1v1h-1zM54 70h1v1h-1zM54 87h1v1h-1zM55 37h1v1h-1zM55 48h1v1h-1zM55 62h1v1h-1zM56 36h1v1h-1zM56 67h1v1h-1zM56 92h1v1h-1zM57 57h1v1h-1zM57 80h1v1h-1zM58 28h1v1h-1zM58 36h1v1h-1zM58 45h1v1h-1zM59 33h1v1h-1zM60 49h1v1h-1zM61 30h1v1h-1zM61 51h1v1h-1zM61 88h1v1h-1zM63 46h1v1h-1zM63 76h1v1h-1zM64 38h1v1h-1zM64 41h1v1h-1zM65 34h1v1h-1zM65 47h1v1h-1zM65 48h1v1h-1zM66 63h1v1h-1zM68 46h1v1h-1zM69 42h1v1h-1zM70 56h1v1h-1zM74 42h1v1h-1zM79 55h1v1h-1zM94 53h1v1h-1z"/>
<path fill="#054864" d="M0 49h1v1h-1zM0 53h1v1h-1zM0 79h1v1h-1zM1 33h1v1h-1zM1 51h1v1h-1zM1 69h1v1h-1zM1 78h1v1h-1zM3 20h1v1h-1zM3 33h1v1h-1zM3 66h1v1h-1zM3 76h1v1h-1zM4 16h1v1h-1zM4 40h1v1h-1zM4 54h1v1h-1zM5 17h1v1h-1zM5 19h1v1h-1zM5 79h1v1h-1zM5 84h1v1h-1zM6 19h1v1h-1zM7 56h1v1h-1zM8 64h1v1h-1zM8 74h1v1h-1zM8 82h1v1h-1zM9 21h1v1h-1zM9 54h1v1h-1zM9 59h1v1h-1zM9 60h1v1h-1zM10 34h1v1h-1zM10 37h1v1h-1zM10 63h1v1h-1zM10 72h1v1h-1zM10 73h1v1h-1zM11 14h1v1h-1zM11 20h1v1h-1zM11 56h1v1h-1zM11 61h1v1h-1zM11 73h1v1h-1zM12 36h1v1h-1zM12 73h1v1h-1zM12 74h1v1h-1zM12 80h1v1h-1zM13 27h1v1h-1zM13 35h1v1h-1zM13 59h1v1h-1zM14 18h1v1h-1zM14 34h1v1h-1zM14 63h1v1h-1zM14 72h1v1h-1zM14 76h1v1h-1zM14 86h1v1h-1zM15 15h1v1h-1zM15 22h1v1h-1zM15 72h1v1h-1zM15 80h1v1h-1zM15 93h1v1h-1zM16 19h1v1h-1zM16 29h1v1h-1zM16 31h1v1h-1zM16 77h1v1h-1zM16 89h1v1h-1zM17 38h1v1h-1zM17 47h1v1h-1zM17 74h1v1h-1zM17 77h1v1h-1zM18 78h1v1h-1zM19 16h1v1h-1zM19 36h1v1h-1zM19 70h1v1h-1zM20 31h1v1h-1zM20 32h1v1h-1zM20 55h1v1h-1zM20 56h1v1h-1zM20 70h1v1h-1zM20 73h1v1h-1zM20 82h1v1h-1zM21 15h1v1h-1zM21 23h1v1h-1zM21 39h1v1h-1zM21 42h1v1h-1zM22 23h1v1h-1zM22 69h1v1h-1zM22 70h1v1h-1zM22 86h1v1h-1zM22 88h1v1h-1zM23 17h1v1h-1zM24 39h1v1h-1zM24 46h1v1h-1zM24 56h1v1h-1zM24 74h1v1h-1zM24 77h1v1h-1zM24 81h1v1h-1zM25 18h1v1h-1zM25 46h1v1h-1zM26 56h1v1h-1zM26 75h1v1h-1zM27 74h1v1h-1zM28 10h1v1h-1zM28 14h1v1h-1zM28 50h1v1h-1zM28 80h1v1h-1zM29 0h1v1h-1zM29 12h1v1h-1zM29 19h1v1h-1zM29 77h1v1h-1zM29 78h1v1h-1zM30 14h1v1h-1zM30 19h1v1h-1zM30 30h1v1h-1zM30 38h1v1h-1zM30 44h1v1h-1zM30 69h1v1h-1zM30 76h1v1h-1zM30 89h1v1h-1zM31 48h1v1h-1zM31 86h1v1h-1zM32 19h1v1h-1zM32 24h1v1h-1zM32 48h1v1h-1zM32 74h1v1h-1zM33 25h1v1h-1zM33 26h1v1h-1zM33 33h1v1h-1zM33 65h1v1h-1zM33 76h1v1h-1zM33 92h1v1h-1zM34 30h1v1h-1zM34 39h1v1h-1zM34 44h1v1h-1zM34 59h1v1h-1zM34 61h1v1h-1zM35 34h1v1h-1zM35 69h1v1h-1zM35 77h1v1h-1zM36 34h1v1h-1zM36 35h1v1h-1zM36 37h1v1h-1zM36 44h1v1h-1zM36 69h1v1h-1zM37 16h1v1h-1zM37 37h1v1h-1zM37 64h1v1h-1zM37 68h1v1h-1zM37 75h1v1h-1zM38 34h1v1h-1zM38 61h1v1h-1zM38 82h1v1h-1zM39 46h1v1h-1zM39 66h1v1h-1zM39 71h1v1h-1zM39 75h1v1h-1zM40 26h1v1h-1zM40 77h1v1h-1zM40 92h1v1h-1zM41 42h1v1h-1zM41 75h1v1h-1zM41 76h1v1h-1zM41 78h1v1h-1zM42 36h1v1h-1zM42 52h1v1h-1zM42 54h1v1h-1zM42 63h1v1h-1zM42 74h1v1h-1zM42 78h1v1h-1zM43 29h1v1h-1zM43 55h1v1h-1zM43 71h1v1h-1zM45 39h1v1h-1zM45 64h1v1h-1zM46 77h1v1h-1zM47 56h1v1h-1zM47 69h1v1h-1zM48 52h1v1h-1zM48 58h1v1h-1zM48 59h1v1h-1zM48 60h1v1h-1zM48 67h1v1h-1zM49 30h1v1h-1zM49 53h1v1h-1zM49 58h1v1h-1zM50 36h1v1h-1zM50 47h1v1h-1zM52 26h1v1h-1zM52 30h1v1h-1zM52 35h1v1h-1zM52 41h1v1h-1zM52 48h1v1h-1zM52 49h1v1h-1zM52 51h1v1h-1zM52 54h1v1h-1zM52 80h1v1h-1zM53 39h1v1h-1zM53 45h1v1h-1zM53 48h1v1h-1zM54 47h1v1h-1zM55 25h1v1h-1zM55 32h1v1h-1zM55 40h1v1h-1zM55 61h1v1h-1zM56 87h1v1h-1zM60 54h1v1h-1zM61 23h1v1h-1zM64 37h1v1h-1zM65 49h1v1h-1zM66 28h1v1h-1zM66 61h1v1h-1zM67 45h1v1h-1zM67 55h1v1h-1zM71 55h1v1h-1zM77 45h1v1h-1zM79 45h1v1h-1zM80 55h1v1h-1zM85 44h1v1h-1z"/>
<path fill="#074c60" d="M1 27h1v1h-1zM2 62h1v1h-1zM3 35h1v1h-1zM3 41h1v1h-1zM3 46h1v1h-1zM3 64h1v1h-1zM3 77h1v1h-1zM4 17h1v1h-1zM4 70h1v1h-1zM4 71h1v1h-1zM4 83h1v1h-1zM5 31h1v1h-1zM5 65h1v1h-1zM5 67h1v1h-1zM5 69h1v1h-1zM6 64h1v1h-1zM7 24h1v1h-1zM7 37h1v1h-1zM7 62h1v1h-1zM7 63h1v1h-1zM10 15h1v1h-1zM10 67h1v1h-1zM10 70h1v1h-1zM10 78h1v1h-1zM11 17h1v1h-1zM11 21h1v1h-1zM11 31h1v1h-1zM11 63h1v1h-1zM11 68h1v1h-1zM12 58h1v1h-1zM12 62h1v1h-1zM13 62h1v1h-1zM13 71h1v1h-1zM13 73h1v1h-1zM14 5h1v1h-1zM14 10h1v1h-1zM14 84h1v1h-1zM15 89h1v1h-1zM16 37h1v1h-1zM17 31h1v1h-1zM17 78h1v1h-1zM18 34h1v1h-1zM18 71h1v1h-1zM18 89h1v1h-1zM19 19h1v1h-1zM20 30h1v1h-1zM20 61h1v1h-1zM20 71h1v1h-1zM21 22h1v1h-1zM22 12h1v1h-1zM22 30h1v1h-1zM22 35h1v1h-1zM22 48h1v1h-1zM23 36h1v1h-1zM24 40h1v1h-1zM24 42h1v1h-1zM24 91h1v1h-1zM26 24h1v1h-1zM26 33h1v1h-1zM26 77h1v1h-1zM26 80h1v1h-1zM27 15h1v1h-1zM27 19h1v1h-1zM27 20h1v1h-1zM27 28h1v1h-1zM28 22h1v1h-1zM28 25h1v1h-1zM28 66h1v1h-1zM29 40h1v1h-1zM29 69h1v1h-1zM29 76h1v1h-1zM29 84h1v1h-1zM29 87h1v1h-1zM30 46h1v1h-1zM30 73h1v1h-1zM30 79h1v1h-1zM31 7h1v1h-1zM31 15h1v1h-1zM31 88h1v1h-1zM31 92h1v1h-1zM32 14h1v1h-1zM32 83h1v1h-1zM32 87h1v1h-1zM33 38h1v1h-1zM33 62h1v1h-1zM33 68h1v1h-1zM33 77h1v1h-1zM34 48h1v1h-1zM34 69h1v1h-1zM35 78h1v1h-1zM36 26h1v1h-1zM37 41h1v1h-1zM37 78h1v1h-1zM37 81h1v1h-1zM37 89h1v1h-1zM38 62h1v1h-1zM38 69h1v1h-1zM38 75h1v1h-1zM39 62h1v1h-1zM39 82h1v1h-1zM40 33h1v1h-1zM40 34h1v1h-1zM40 62h1v1h-1zM40 64h1v1h-1zM40 69h1v1h-1zM40 70h1v1h-1zM41 51h1v1h-1zM41 60h1v1h-1zM41 80h1v1h-1zM41 82h1v1h-1zM42 34h1v1h-1zM42 53h1v1h-1zM42 71h1v1h-1zM42 73h1v1h-1zM43 50h1v1h-1zM43 89h1v1h-1zM44 38h1v1h-1zM44 54h1v1h-1zM44 62h1v1h-1zM45 24h1v1h-1zM45 37h1v1h-1zM45 67h1v1h-1zM45 68h1v1h-1zM46 25h1v1h-1zM46 55h1v1h-1zM46 56h1v1h-1zM46 63h1v1h-1zM46 76h1v1h-1zM47 52h1v1h-1zM47 74h1v1h-1zM48 23h1v1h-1zM48 70h1v1h-1zM48 71h1v1h-1zM49 23h1v1h-1zM49 26h1v1h-1zM49 34h1v1h-1zM49 56h1v1h-1zM49 71h1v1h-1zM50 38h1v1h-1zM51 59h1v1h-1zM51 68h1v1h-1zM52 53h1v1h-1zM52 57h1v1h-1zM52 59h1v1h-1zM52 61h1v1h-1zM53 63h1v1h-1zM53 64h1v1h-1zM53 84h1v1h-1zM54 66h1v1h-1zM55 45h1v1h-1zM55 47h1v1h-1zM55 49h1v1h-1zM56 31h1v1h-1zM56 59h1v1h-1zM57 52h1v1h-1zM57 55h1v1h-1zM57 59h1v1h-1zM57 73h1v1h-1zM57 74h1v1h-1zM58 67h1v1h-1zM59 53h1v1h-1zM59 60h1v1h-1zM61 68h1v1h-1zM62 54h1v1h-1zM62 57h1v1h-1zM64 50h1v1h-1zM64 52h1v1h-1zM64 53h1v1h-1zM65 53h1v1h-1zM66 58h1v1h-1zM69 57h1v1h-1zM97 53h1v1h-1z"/>
<path fill="#08505c" d="M0 52h1v1h-1zM0 56h1v1h-1zM2 32h1v1h-1zM2 47h1v1h-1zM2 67h1v1h-1zM3 16h1v1h-1zM3 84h1v1h-1zM4 77h1v1h-1zM6 37h1v1h-1zM7 23h1v1h-1zM7 77h1v1h-1zM10 4h1v1h-1zM10 13h1v1h-1zM10 14h1v1h-1zM10 19h1v1h-1zM10 29h1v1h-1zM10 62h1v1h-1zM10 64h1v1h-1zM10 82h1v1h-1zM11 64h1v1h-1zM11 70h1v1h-1zM12 5h1v1h-1zM12 28h1v1h-1zM12 59h1v1h-1zM13 36h1v1h-1zM14 16h1v1h-1zM14 28h1v1h-1zM14 78h1v1h-1zM14 87h1v1h-1zM15 26h1v1h-1zM15 27h1v1h-1zM15 74h1v1h-1zM18 16h1v1h-1zM18 85h1v1h-1zM19 15h1v1h-1zM19 75h1v1h-1zM20 74h1v1h-1zM21 71h1v1h-1zM21 84h1v1h-1zM22 15h1v1h-1zM22 74h1v1h-1zM23 6h1v1h-1zM23 15h1v1h-1zM23 38h1v1h-1zM24 34h1v1h-1zM25 73h1v1h-1zM25 80h1v1h-1zM26 83h1v1h-1zM26 84h1v1h-1zM27 16h1v1h-1zM27 35h1v1h-1zM27 79h1v1h-1zM29 7h1v1h-1zM31 9h1v1h-1zM31 36h1v1h-1zM32 29h1v1h-1zM32 33h1v1h-1zM32 34h1v1h-1zM32 60h1v1h-1zM32 84h1v1h-1zM33 28h1v1h-1zM33 61h1v1h-1zM33 84h1v1h-1zM34 46h1v1h-1zM34 76h1v1h-1zM34 81h1v1h-1zM35 62h1v1h-1zM35 67h1v1h-1zM36 18h1v1h-1zM37 15h1v1h-1zM37 18h1v1h-1zM37 72h1v1h-1zM38 65h1v1h-1zM38 67h1v1h-1zM39 38h1v1h-1zM39 60h1v1h-1zM40 41h1v1h-1zM40 58h1v1h-1zM41 61h1v1h-1zM42 37h1v1h-1zM42 65h1v1h-1zM42 81h1v1h-1zM42 86h1v1h-1zM43 23h1v1h-1zM43 40h1v1h-1zM43 63h1v1h-1zM43 65h1v1h-1zM43 74h1v1h-1zM43 75h1v1h-1zM44 24h1v1h-1zM44 80h1v1h-1zM45 36h1v1h-1zM45 57h1v1h-1zM45 73h1v1h-1zM45 74h1v1h-1zM46 68h1v1h-1zM46 70h1v1h-1zM47 51h1v1h-1zM47 66h1v1h-1zM47 67h1v1h-1zM47 84h1v1h-1zM49 41h1v1h-1zM49 50h1v1h-1zM49 51h1v1h-1zM49 60h1v1h-1zM50 48h1v1h-1zM51 38h1v1h-1zM51 53h1v1h-1zM52 71h1v1h-1zM55 42h1v1h-1zM55 58h1v1h-1zM55 80h1v1h-1zM56 37h1v1h-1zM56 43h1v1h-1zM56 46h1v1h-1zM56 57h1v1h-1zM56 60h1v1h-1zM57 42h1v1h-1zM58 69h1v1h-1zM59 66h1v1h-1zM61 49h1v1h-1zM63 45h1v1h-1zM63 56h1v1h-1zM65 56h1v1h-1zM66 66h1v1h-1zM67 50h1v1h-1zM67 57h1v1h-1zM68 62h1v1h-1zM84 52h1v1h-1z"/>
<path fill="#0a5459" d="M0 71h1v1h-1zM1 43h1v1h-1zM1 47h1v1h-1zM1 75h1v1h-1zM3 67h1v1h-1zM3 87h1v1h-1zM4 60h1v1h-1zM5 63h1v1h-1zM6 36h1v1h-1zM7 32h1v1h-1zM7 65h1v1h-1zM7 76h1v1h-1zM8 23h1v1h-1zM8 80h1v1h-1zM9 65h1v1h-1zM9 73h1v1h-1zM9 79h1v1h-1zM10 28h1v1h-1zM11 19h1v1h-1zM12 19h1v1h-1zM12 65h1v1h-1zM12 71h1v1h-1zM13 72h1v1h-1zM13 75h1v1h-1zM13 88h1v1h-1zM15 12h1v1h-1zM15 29h1v1h-1zM15 75h1v1h-1zM16 70h1v1h-1zM16 80h1v1h-1zM16 83h1v1h-1zM16 86h1v1h-1zM17 82h1v1h-1zM17 84h1v1h-1zM18 79h1v1h-1zM22 14h1v1h-1zM23 8h1v1h-1zM23 21h1v1h-1zM23 80h1v1h-1zM24 18h1v1h-1zM24 26h1v1h-1zM24 83h1v1h-1zM24 90h1v1h-1zM25 21h1v1h-1zM25 68h1v1h-1zM27 12h1v1h-1zM27 83h1v1h-1zM27 86h1v1h-1zM27 88h1v1h-1zM28 20h1v1h-1zM28 76h1v1h-1zM29 80h1v1h-1zM33 37h1v1h-1zM33 44h1v1h-1zM33 69h1v1h-1zM33 82h1v1h-1zM35 25h1v1h-1zM36 77h1v1h-1zM37 31h1v1h-1zM37 91h1v1h-1zM37 93h1v1h-1zM38 41h1v1h-1zM38 78h1v1h-1zM38 91h1v1h-1zM39 37h1v1h-1zM39 65h1v1h-1zM39 74h1v1h-1zM40 35h1v1h-1zM40 37h1v1h-1zM40 59h1v1h-1zM40 72h1v1h-1zM40 76h1v1h-1zM40 86h1v1h-1zM41 90h1v1h-1zM42 21h1v1h-1zM43 41h1v1h-1zM43 62h1v1h-1zM44 66h1v1h-1zM44 70h1v1h-1zM44 71h1v1h-1zM45 25h1v1h-1zM45 65h1v1h-1zM46 59h1v1h-1zM46 74h1v1h-1zM47 91h1v1h-1zM48 65h1v1h-1zM48 73h1v1h-1zM48 89h1v1h-1zM49 80h1v1h-1zM50 59h1v1h-1zM50 68h1v1h-1zM51 52h1v1h-1zM51 72h1v1h-1zM51 73h1v1h-1zM52 46h1v1h-1zM53 60h1v1h-1zM54 71h1v1h-1zM57 56h1v1h-1zM57 60h1v1h-1zM58 50h1v1h-1zM58 66h1v1h-1zM58 71h1v1h-1zM58 85h1v1h-1zM59 51h1v1h-1zM62 60h1v1h-1zM63 59h1v1h-1zM64 67h1v1h-1zM68 49h1v1h-1zM68 54h1v1h-1zM69 68h1v1h-1zM76 60h1v1h-1zM77 60h1v1h-1zM86 59h1v1h-1z"/>
<path fill="#0c5855" d="M0 24h1v1h-1zM0 28h1v1h-1zM0 44h1v1h-1zM0 67h1v1h-1zM0 75h1v1h-1zM1 82h1v1h-1zM1 85h1v1h-1zM2 34h1v1h-1zM2 52h1v1h-1zM2 53h1v1h-1zM7 28h1v1h-1zM7 83h1v1h-1zM8 29h1v1h-1zM8 41h1v1h-1zM9 12h1v1h-1zM9 22h1v1h-1zM9 86h1v1h-1zM11 78h1v1h-1zM12 29h1v1h-1zM12 66h1v1h-1zM12 84h1v1h-1zM12 87h1v1h-1zM13 29h1v1h-1zM17 13h1v1h-1zM17 21h1v1h-1zM18 7h1v1h-1zM19 8h1v1h-1zM20 86h1v1h-1zM21 74h1v1h-1zM22 4h1v1h-1zM23 24h1v1h-1zM24 11h1v1h-1zM25 13h1v1h-1zM25 16h1v1h-1zM25 36h1v1h-1zM25 83h1v1h-1zM27 84h1v1h-1zM30 7h1v1h-1zM30 24h1v1h-1zM31 84h1v1h-1zM31 87h1v1h-1zM32 13h1v1h-1zM32 22h1v1h-1zM32 86h1v1h-1zM34 29h1v1h-1zM34 72h1v1h-1zM34 89h1v1h-1zM35 36h1v1h-1zM35 66h1v1h-1zM36 31h1v1h-1zM37 70h1v1h-1zM38 16h1v1h-1zM40 21h1v1h-1zM40 39h1v1h-1zM40 67h1v1h-1zM40 68h1v1h-1zM41 38h1v1h-1zM41 65h1v1h-1zM42 60h1v1h-1zM44 59h1v1h-1zM44 60h1v1h-1zM44 64h1v1h-1zM45 33h1v1h-1zM46 20h1v1h-1zM46 37h1v1h-1zM46 40h1v1h-1zM46 69h1v1h-1zM46 75h1v1h-1zM47 14h1v1h-1zM47 92h1v1h-1zM48 61h1v1h-1zM49 62h1v1h-1zM49 66h1v1h-1zM50 27h1v1h-1zM50 63h1v1h-1zM51 62h1v1h-1zM51 69h1v1h-1zM52 32h1v1h-1zM52 42h1v1h-1zM52 67h1v1h-1zM52 77h1v1h-1zM52 82h1v1h-1zM53 42h1v1h-1zM53 62h1v1h-1zM53 67h1v1h-1zM53 78h1v1h-1zM54 44h1v1h-1zM54 69h1v1h-1zM55 44h1v1h-1zM55 53h1v1h-1zM55 63h1v1h-1zM55 66h1v1h-1zM55 69h1v1h-1zM56 30h1v1h-1zM56 73h1v1h-1zM56 86h1v1h-1zM58 74h1v1h-1zM59 58h1v1h-1zM59 59h1v1h-1zM60 52h1v1h-1zM63 50h1v1h-1zM63 72h1v1h-1zM65 44h1v1h-1zM65 46h1v1h-1zM71 69h1v1h-1zM74 39h1v1h-1zM95 53h1v1h-1z"/>
<path fill="#0e5c51" d="M0 51h1v1h-1zM0 61h1v1h-1zM1 42h1v1h-1zM4 75h1v1h-1zM5 38h1v1h-1zM6 83h1v1h-1zM7 82h1v1h-1zM10 26h1v1h-1zM11 71h1v1h-1zM11 74h1v1h-1zM13 76h1v1h-1zM15 77h1v1h-1zM15 81h1v1h-1zM15 86h1v1h-1zM16 12h1v1h-1zM16 85h1v1h-1zM19 18h1v1h-1zM19 22h1v1h-1zM20 81h1v1h-1zM20 83h1v1h-1zM22 7h1v1h-1zM22 89h1v1h-1zM25 14h1v1h-1zM29 86h1v1h-1zM30 26h1v1h-1zM33 83h1v1h-1zM36 23h1v1h-1zM36 25h1v1h-1zM37 36h1v1h-1zM38 80h1v1h-1zM39 20h1v1h-1zM40 79h1v1h-1zM40 85h1v1h-1zM40 91h1v1h-1zM41 33h1v1h-1zM42 33h1v1h-1zM42 70h1v1h-1zM43 73h1v1h-1zM44 31h1v1h-1zM47 71h1v1h-1zM47 85h1v1h-1zM47 88h1v1h-1zM50 64h1v1h-1zM50 70h1v1h-1zM51 70h1v1h-1zM51 75h1v1h-1zM52 39h1v1h-1zM52 55h1v1h-1zM52 62h1v1h-1zM53 49h1v1h-1zM54 56h1v1h-1zM54 61h1v1h-1zM54 72h1v1h-1zM54 76h1v1h-1zM55 76h1v1h-1zM56 61h1v1h-1zM57 47h1v1h-1zM58 57h1v1h-1zM58 58h1v1h-1zM58 79h1v1h-1zM59 54h1v1h-1zM59 61h1v1h-1zM60 28h1v1h-1zM60 55h1v1h-1zM61 31h1v1h-1zM61 41h1v1h-1zM61 67h1v1h-1zM62 62h1v1h-1zM62 66h1v1h-1zM64 36h1v1h-1zM64 68h1v1h-1zM65 54h1v1h-1zM70 74h1v1h-1zM71 52h1v1h-1zM77 58h1v1h-1zM92 53h1v1h-1z"/>
<path fill="#0f604d" d="M0 35h1v1h-1zM3 47h1v1h-1zM7 17h1v1h-1zM7 86h1v1h-1zM8 27h1v1h-1zM8 39h1v1h-1zM8 85h1v1h-1zM11 72h1v1h-1zM15 83h1v1h-1zM20 88h1v1h-1zM23 83h1v1h-1zM28 21h1v1h-1zM31 17h1v1h-1zM35 33h1v1h-1zM35 82h1v1h-1zM36 36h1v1h-1zM36 82h1v1h-1zM36 83h1v1h-1zM37 35h1v1h-1zM37 86h1v1h-1zM38 70h1v1h-1zM38 77h1v1h-1zM39 79h1v1h-1zM39 88h1v1h-1zM40 78h1v1h-1zM40 84h1v1h-1zM41 74h1v1h-1zM41 81h1v1h-1zM43 64h1v1h-1zM45 72h1v1h-1zM46 86h1v1h-1zM47 28h1v1h-1zM48 39h1v1h-1zM50 28h1v1h-1zM50 75h1v1h-1zM51 87h1v1h-1zM52 76h1v1h-1zM53 57h1v1h-1zM54 50h1v1h-1zM54 58h1v1h-1zM54 59h1v1h-1zM54 93h1v1h-1zM55 78h1v1h-1zM55 85h1v1h-1zM56 55h1v1h-1zM56 63h1v1h-1zM57 48h1v1h-1zM59 45h1v1h-1zM59 72h1v1h-1zM59 81h1v1h-1zM59 83h1v1h-1zM61 59h1v1h-1zM61 73h1v1h-1zM63 86h1v1h-1zM64 51h1v1h-1zM64 60h1v1h-1zM64 62h1v1h-1zM77 49h1v1h-1zM84 51h1v1h-1zM86 56h1v1h-1zM90 53h1v1h-1z"/>
<path fill="#116449" d="M0 27h1v1h-1zM0 74h1v1h-1zM1 50h1v1h-1zM3 78h1v1h-1zM4 19h1v1h-1zM4 76h1v1h-1zM9 14h1v1h-1zM11 80h1v1h-1zM13 89h1v1h-1zM16 72h1v1h-1zM17 73h1v1h-1zM19 81h1v1h-1zM23 88h1v1h-1zM25 15h1v1h-1zM26 17h1v1h-1zM27 85h1v1h-1zM28 77h1v1h-1zM28 82h1v1h-1zM30 18h1v1h-1zM36 32h1v1h-1zM38 36h1v1h-1zM38 92h1v1h-1zM39 24h1v1h-1zM40 88h1v1h-1zM40 90h1v1h-1zM41 30h1v1h-1zM42 40h1v1h-1zM43 39h1v1h-1zM43 72h1v1h-1zM44 32h1v1h-1zM44 68h1v1h-1zM45 84h1v1h-1zM45 86h1v1h-1zM47 78h1v1h-1zM49 49h1v1h-1zM50 67h1v1h-1zM51 56h1v1h-1zM52 56h1v1h-1zM53 59h1v1h-1zM53 69h1v1h-1zM53 77h1v1h-1zM55 68h1v1h-1zM56 50h1v1h-1zM56 83h1v1h-1zM57 43h1v1h-1zM57 44h1v1h-1zM57 63h1v1h-1zM58 29h1v1h-1zM61 69h1v1h-1zM62 48h1v1h-1zM62 52h1v1h-1zM62 64h1v1h-1zM66 70h1v1h-1zM69 54h1v1h-1zM83 57h1v1h-1z"/>
<path fill="#136745" d="M4 79h1v1h-1zM5 27h1v1h-1zM11 89h1v1h-1zM12 20h1v1h-1zM15 16h1v1h-1zM16 14h1v1h-1zM19 77h1v1h-1zM30 16h1v1h-1zM30 78h1v1h-1zM30 81h1v1h-1zM30 87h1v1h-1zM31 12h1v1h-1zM35 87h1v1h-1zM37 83h1v1h-1zM39 25h1v1h-1zM39 81h1v1h-1zM40 80h1v1h-1zM43 26h1v1h-1zM44 85h1v1h-1zM45 83h1v1h-1zM47 68h1v1h-1zM47 72h1v1h-1zM47 75h1v1h-1zM47 76h1v1h-1zM48 64h1v1h-1zM48 92h1v1h-1zM49 69h1v1h-1zM50 78h1v1h-1zM50 83h1v1h-1zM51 76h1v1h-1zM51 84h1v1h-1zM53 74h1v1h-1zM55 73h1v1h-1zM61 42h1v1h-1zM64 64h1v1h-1zM64 69h1v1h-1zM69 55h1v1h-1z"/>
<path fill="#146b41" d="M2 59h1v1h-1zM6 85h1v1h-1zM12 68h1v1h-1zM18 83h1v1h-1zM31 18h1v1h-1zM32 88h1v1h-1zM36 30h1v1h-1zM37 21h1v1h-1zM41 71h1v1h-1zM42 35h1v1h-1zM43 70h1v1h-1zM44 82h1v1h-1zM45 88h1v1h-1zM48 83h1v1h-1zM48 86h1v1h-1zM49 57h1v1h-1zM49 72h1v1h-1zM50 65h1v1h-1zM51 45h1v1h-1zM51 71h1v1h-1zM53 73h1v1h-1zM55 94h1v1h-1zM56 62h1v1h-1zM56 71h1v1h-1zM56 77h1v1h-1zM57 81h1v1h-1zM60 61h1v1h-1zM61 80h1v1h-1zM63 65h1v1h-1zM63 66h1v1h-1zM68 55h1v1h-1zM71 53h1v1h-1zM72 61h1v1h-1zM72 68h1v1h-1zM81 57h1v1h-1z"/>
<path fill="#166f3d" d="M0 33h1v1h-1zM1 80h1v1h-1zM2 76h1v1h-1zM2 87h1v1h-1zM14 79h1v1h-1zM16 20h1v1h-1zM19 85h1v1h-1zM24 89h1v1h-1zM26 11h1v1h-1zM26 88h1v1h-1zM26 89h1v1h-1zM28 89h1v1h-1zM37 19h1v1h-1zM38 35h1v1h-1zM38 83h1v1h-1zM40 82h1v1h-1zM41 39h1v1h-1zM43 82h1v1h-1zM43 87h1v1h-1zM45 76h1v1h-1zM45 77h1v1h-1zM46 34h1v1h-1zM47 44h1v1h-1zM48 90h1v1h-1zM49 75h1v1h-1zM49 81h1v1h-1zM51 77h1v1h-1zM51 82h1v1h-1zM51 86h1v1h-1zM52 94h1v1h-1zM53 55h1v1h-1zM53 80h1v1h-1zM53 89h1v1h-1zM54 48h1v1h-1zM56 66h1v1h-1zM57 35h1v1h-1zM57 54h1v1h-1zM62 73h1v1h-1zM65 58h1v1h-1zM66 52h1v1h-1zM66 67h1v1h-1zM68 36h1v1h-1zM70 63h1v1h-1zM71 78h1v1h-1zM78 61h1v1h-1zM81 52h1v1h-1zM86 54h1v1h-1z"/>
<path fill="#187339" d="M5 85h1v1h-1zM8 22h1v1h-1zM8 89h1v1h-1zM13 14h1v1h-1zM13 91h1v1h-1zM16 16h1v1h-1zM21 12h1v1h-1zM21 86h1v1h-1zM25 86h1v1h-1zM25 90h1v1h-1zM26 87h1v1h-1zM28 12h1v1h-1zM28 90h1v1h-1zM28 91h1v1h-1zM30 17h1v1h-1zM34 26h1v1h-1zM34 91h1v1h-1zM36 85h1v1h-1zM36 89h1v1h-1zM38 94h1v1h-1zM39 29h1v1h-1zM40 36h1v1h-1zM44 35h1v1h-1zM44 65h1v1h-1zM45 91h1v1h-1zM46 36h1v1h-1zM46 81h1v1h-1zM48 82h1v1h-1zM49 82h1v1h-1zM51 32h1v1h-1zM52 65h1v1h-1zM53 88h1v1h-1zM54 62h1v1h-1zM55 92h1v1h-1zM55 93h1v1h-1zM56 64h1v1h-1zM56 89h1v1h-1zM57 72h1v1h-1zM57 82h1v1h-1zM58 27h1v1h-1zM60 60h1v1h-1zM60 74h1v1h-1zM61 58h1v1h-1zM62 55h1v1h-1zM62 81h1v1h-1zM63 60h1v1h-1zM63 74h1v1h-1zM65 61h1v1h-1zM65 69h1v1h-1zM65 71h1v1h-1zM66 80h1v1h-1zM67 78h1v1h-1zM68 38h1v1h-1zM68 53h1v1h-1zM68 86h1v1h-1zM71 49h1v1h-1zM72 63h1v1h-1zM74 59h1v1h-1zM76 61h1v1h-1zM77 56h1v1h-1zM79 51h1v1h-1zM80 49h1v1h-1zM80 62h1v1h-1zM80 68h1v1h-1zM81 55h1v1h-1zM84 65h1v1h-1zM93 54h1v1h-1zM94 61h1v1h-1zM98 53h1v1h-1z"/>
<path fill="#1a7736" d="M0 76h1v1h-1zM0 78h1v1h-1zM8 87h1v1h-1zM9 87h1v1h-1zM11 85h1v1h-1zM12 86h1v1h-1zM13 86h1v1h-1zM13 87h1v1h-1zM14 91h1v1h-1zM17 15h1v1h-1zM18 87h1v1h-1zM22 82h1v1h-1zM24 85h1v1h-1zM28 24h1v1h-1zM29 83h1v1h-1zM31 85h1v1h-1zM34 92h1v1h-1zM37 24h1v1h-1zM37 28h1v1h-1zM37 90h1v1h-1zM39 19h1v1h-1zM40 27h1v1h-1zM40 87h1v1h-1zM41 83h1v1h-1zM43 85h1v1h-1zM43 88h1v1h-1zM44 88h1v1h-1zM44 89h1v1h-1zM45 81h1v1h-1zM45 89h1v1h-1zM45 92h1v1h-1zM46 85h1v1h-1zM46 91h1v1h-1zM47 83h1v1h-1zM48 81h1v1h-1zM48 84h1v1h-1zM48 93h1v1h-1zM49 12h1v1h-1zM50 79h1v1h-1zM50 91h1v1h-1zM52 16h1v1h-1zM52 58h1v1h-1zM52 73h1v1h-1zM52 90h1v1h-1zM53 34h1v1h-1zM53 71h1v1h-1zM54 95h1v1h-1zM55 88h1v1h-1zM55 90h1v1h-1zM56 84h1v1h-1zM56 91h1v1h-1zM57 30h1v1h-1zM57 61h1v1h-1zM58 64h1v1h-1zM58 80h1v1h-1zM58 82h1v1h-1zM59 38h1v1h-1zM59 56h1v1h-1zM59 73h1v1h-1zM60 77h1v1h-1zM60 78h1v1h-1zM60 87h1v1h-1zM61 37h1v1h-1zM61 63h1v1h-1zM61 85h1v1h-1zM62 65h1v1h-1zM63 53h1v1h-1zM63 58h1v1h-1zM63 61h1v1h-1zM63 63h1v1h-1zM63 64h1v1h-1zM63 85h1v1h-1zM64 63h1v1h-1zM64 66h1v1h-1zM64 75h1v1h-1zM65 65h1v1h-1zM65 67h1v1h-1zM66 59h1v1h-1zM66 72h1v1h-1zM67 66h1v1h-1zM67 67h1v1h-1zM68 57h1v1h-1zM68 64h1v1h-1zM69 56h1v1h-1zM69 63h1v1h-1zM70 64h1v1h-1zM70 65h1v1h-1zM70 78h1v1h-1zM71 51h1v1h-1zM71 61h1v1h-1zM73 39h1v1h-1zM73 50h1v1h-1zM73 65h1v1h-1zM74 74h1v1h-1zM75 58h1v1h-1zM78 70h1v1h-1zM82 57h1v1h-1zM83 60h1v1h-1zM84 57h1v1h-1zM89 59h1v1h-1zM92 51h1v1h-1zM95 54h1v1h-1zM96 55h1v1h-1zM97 54h1v1h-1zM97 55h1v1h-1z"/>
<path fill="#1b7b32" d="M0 47h1v1h-1zM2 90h1v1h-1zM11 15h1v1h-1zM11 82h1v1h-1zM11 92h1v1h-1zM12 89h1v1h-1zM14 15h1v1h-1zM14 82h1v1h-1zM20 84h1v1h-1zM21 9h1v1h-1zM21 16h1v1h-1zM23 89h1v1h-1zM24 86h1v1h-1zM25 89h1v1h-1zM27 14h1v1h-1zM30 88h1v1h-1zM33 23h1v1h-1zM33 93h1v1h-1zM34 84h1v1h-1zM36 92h1v1h-1zM36 93h1v1h-1zM37 27h1v1h-1zM38 18h1v1h-1zM39 90h1v1h-1zM40 93h1v1h-1zM40 94h1v1h-1zM42 24h1v1h-1zM42 80h1v1h-1zM42 85h1v1h-1zM42 93h1v1h-1zM43 91h1v1h-1zM44 28h1v1h-1zM44 87h1v1h-1zM44 91h1v1h-1zM45 31h1v1h-1zM45 80h1v1h-1zM45 87h1v1h-1zM46 83h1v1h-1zM47 29h1v1h-1zM48 91h1v1h-1zM49 59h1v1h-1zM49 85h1v1h-1zM49 93h1v1h-1zM50 54h1v1h-1zM50 85h1v1h-1zM51 23h1v1h-1zM51 79h1v1h-1zM51 81h1v1h-1zM52 70h1v1h-1zM52 78h1v1h-1zM52 84h1v1h-1zM52 93h1v1h-1zM53 87h1v1h-1zM54 27h1v1h-1zM54 79h1v1h-1zM54 80h1v1h-1zM54 82h1v1h-1zM54 85h1v1h-1zM54 91h1v1h-1zM55 67h1v1h-1zM55 79h1v1h-1zM55 81h1v1h-1zM55 84h1v1h-1zM56 52h1v1h-1zM56 53h1v1h-1zM56 78h1v1h-1zM56 81h1v1h-1zM57 79h1v1h-1zM57 89h1v1h-1zM58 54h1v1h-1zM58 56h1v1h-1zM58 60h1v1h-1zM59 67h1v1h-1zM59 86h1v1h-1zM59 88h1v1h-1zM60 65h1v1h-1zM60 68h1v1h-1zM60 71h1v1h-1zM60 72h1v1h-1zM60 81h1v1h-1zM60 86h1v1h-1zM60 90h1v1h-1zM61 57h1v1h-1zM61 74h1v1h-1zM61 79h1v1h-1zM61 81h1v1h-1zM61 87h1v1h-1zM61 89h1v1h-1zM62 71h1v1h-1zM62 77h1v1h-1zM62 78h1v1h-1zM62 85h1v1h-1zM63 73h1v1h-1zM63 79h1v1h-1zM64 56h1v1h-1zM64 57h1v1h-1zM64 78h1v1h-1zM65 31h1v1h-1zM65 60h1v1h-1zM66 64h1v1h-1zM66 65h1v1h-1zM66 75h1v1h-1zM67 54h1v1h-1zM67 56h1v1h-1zM67 68h1v1h-1zM67 71h1v1h-1zM67 72h1v1h-1zM68 70h1v1h-1zM68 71h1v1h-1zM69 76h1v1h-1zM70 53h1v1h-1zM70 55h1v1h-1zM70 58h1v1h-1zM70 61h1v1h-1zM73 52h1v1h-1zM74 54h1v1h-1zM75 46h1v1h-1zM75 48h1v1h-1zM75 55h1v1h-1zM76 53h1v1h-1zM76 56h1v1h-1zM76 64h1v1h-1zM77 65h1v1h-1zM80 61h1v1h-1zM81 58h1v1h-1zM81 67h1v1h-1zM83 58h1v1h-1zM83 59h1v1h-1zM84 64h1v1h-1zM86 55h1v1h-1zM86 57h1v1h-1zM88 56h1v1h-1zM89 53h1v1h-1z"/>
<path fill="#1d7f2e" d="M0 58h1v1h-1zM0 70h1v1h-1zM1 54h1v1h-1zM2 23h1v1h-1zM4 78h1v1h-1zM5 88h1v1h-1zM6 90h1v1h-1zM7 84h1v1h-1zM8 26h1v1h-1zM14 14h1v1h-1zM15 90h1v1h-1zM16 15h1v1h-1zM17 8h1v1h-1zM20 17h1v1h-1zM21 83h1v1h-1zM23 90h1v1h-1zM31 95h1v1h-1zM34 22h1v1h-1zM34 83h1v1h-1zM35 20h1v1h-1zM35 92h1v1h-1zM35 97h1v1h-1zM37 88h1v1h-1zM38 85h1v1h-1zM39 22h1v1h-1zM39 23h1v1h-1zM39 80h1v1h-1zM41 87h1v1h-1zM41 91h1v1h-1zM41 93h1v1h-1zM42 76h1v1h-1zM42 94h1v1h-1zM45 78h1v1h-1zM47 65h1v1h-1zM47 86h1v1h-1zM48 85h1v1h-1zM50 93h1v1h-1zM51 58h1v1h-1zM51 60h1v1h-1zM51 74h1v1h-1zM52 50h1v1h-1zM52 85h1v1h-1zM52 88h1v1h-1zM54 49h1v1h-1zM54 75h1v1h-1zM54 81h1v1h-1zM55 34h1v1h-1zM55 54h1v1h-1zM56 32h1v1h-1zM56 74h1v1h-1zM57 86h1v1h-1zM58 48h1v1h-1zM58 53h1v1h-1zM58 63h1v1h-1zM58 65h1v1h-1zM58 75h1v1h-1zM59 27h1v1h-1zM59 70h1v1h-1zM59 91h1v1h-1zM60 57h1v1h-1zM60 66h1v1h-1zM60 75h1v1h-1zM60 80h1v1h-1zM61 62h1v1h-1zM61 65h1v1h-1zM61 75h1v1h-1zM61 76h1v1h-1zM62 72h1v1h-1zM63 55h1v1h-1zM63 71h1v1h-1zM63 78h1v1h-1zM63 93h1v1h-1zM64 61h1v1h-1zM64 65h1v1h-1zM65 50h1v1h-1zM65 70h1v1h-1zM65 72h1v1h-1zM66 55h1v1h-1zM66 68h1v1h-1zM67 64h1v1h-1zM68 56h1v1h-1zM68 61h1v1h-1zM69 65h1v1h-1zM70 50h1v1h-1zM70 67h1v1h-1zM70 79h1v1h-1zM72 55h1v1h-1zM72 69h1v1h-1zM73 45h1v1h-1zM73 51h1v1h-1zM73 63h1v1h-1zM73 67h1v1h-1zM73 68h1v1h-1zM73 77h1v1h-1zM76 63h1v1h-1zM77 66h1v1h-1zM80 53h1v1h-1zM82 45h1v1h-1zM85 58h1v1h-1zM87 61h1v1h-1zM88 55h1v1h-1zM89 57h1v1h-1zM90 59h1v1h-1zM94 54h1v1h-1zM97 59h1v1h-1zM98 54h1v1h-1z"/>
<path fill="#1f832a" d="M0 85h1v1h-1zM1 81h1v1h-1zM3 32h1v1h-1zM5 90h1v1h-1zM8 83h1v1h-1zM9 90h1v1h-1zM26 13h1v1h-1zM27 89h1v1h-1zM30 11h1v1h-1zM31 91h1v1h-1zM38 90h1v1h-1zM40 89h1v1h-1zM41 86h1v1h-1zM41 92h1v1h-1zM43 84h1v1h-1zM44 92h1v1h-1zM46 87h1v1h-1zM48 75h1v1h-1zM49 68h1v1h-1zM49 89h1v1h-1zM49 90h1v1h-1zM50 57h1v1h-1zM53 33h1v1h-1zM53 76h1v1h-1zM53 93h1v1h-1zM54 60h1v1h-1zM54 65h1v1h-1zM55 31h1v1h-1zM56 72h1v1h-1zM56 79h1v1h-1zM56 82h1v1h-1zM57 62h1v1h-1zM57 68h1v1h-1zM57 85h1v1h-1zM59 74h1v1h-1zM60 58h1v1h-1zM60 63h1v1h-1zM60 69h1v1h-1zM61 26h1v1h-1zM61 61h1v1h-1zM61 71h1v1h-1zM62 26h1v1h-1zM62 40h1v1h-1zM62 59h1v1h-1zM62 63h1v1h-1zM62 67h1v1h-1zM63 57h1v1h-1zM63 69h1v1h-1zM67 46h1v1h-1zM67 60h1v1h-1zM68 67h1v1h-1zM68 82h1v1h-1zM70 54h1v1h-1zM70 69h1v1h-1zM71 68h1v1h-1zM71 76h1v1h-1zM73 33h1v1h-1zM73 61h1v1h-1zM74 50h1v1h-1zM75 74h1v1h-1zM77 63h1v1h-1zM79 62h1v1h-1zM80 50h1v1h-1zM80 58h1v1h-1zM83 56h1v1h-1zM83 62h1v1h-1zM85 55h1v1h-1zM88 49h1v1h-1zM88 54h1v1h-1zM91 57h1v1h-1zM96 54h1v1h-1z"/>
<path fill="#208726" d="M4 89h1v1h-1zM6 80h1v1h-1zM15 17h1v1h-1zM21 82h1v1h-1zM26 90h1v1h-1zM33 16h1v1h-1zM38 86h1v1h-1zM41 19h1v1h-1zM41 20h1v1h-1zM42 92h1v1h-1zM51 80h1v1h-1zM51 85h1v1h-1zM53 82h1v1h-1zM54 78h1v1h-1zM55 95h1v1h-1zM59 46h1v1h-1zM60 38h1v1h-1zM63 84h1v1h-1zM64 59h1v1h-1zM64 73h1v1h-1zM65 57h1v1h-1zM67 69h1v1h-1zM68 59h1v1h-1zM69 58h1v1h-1zM69 74h1v1h-1zM69 75h1v1h-1zM73 54h1v1h-1zM82 54h1v1h-1zM85 59h1v1h-1zM86 58h1v1h-1z"/>
<path fill="#228b22" d="M9 85h1v1h-1zM20 89h1v1h-1zM43 86h1v1h-1zM44 86h1v1h-1zM49 25h1v1h-1zM50 53h1v1h-1zM56 95h1v1h-1zM57 84h1v1h-1zM58 72h1v1h-1zM58 77h1v1h-1zM59 80h1v1h-1zM62 34h1v1h-1zM70 66h1v1h-1zM80 45h1v1h-1zM96 53h1v1h-1z"/>
</g></g>
<g clip-path="url(#cm)" fill="none" stroke-width="6.2" stroke-linejoin="round" stroke-linecap="butt">
<path stroke="#000000" d="M506.6 2146.5 521.1 2160 535.7 2146.5 521.1 2132.9 521.1 2132.9 521.1 2132.9 535.7 2119.4 521.1 2105.9 521.1 2105.9 506.6 2092.3 506.6 2092.3 492.1 2078.8 477.6 2092.3 492.1 2105.9 492.1 2105.9 506.6 2119.4 506.6 2119.4 506.6 2119.4 492.1 2132.9 506.6 2146.5zM710 2160 695.5 2146.5 681 2146.5 666.4 2160M739.1 2160 724.5 2146.5 710 2160M797.2 2160 782.7 2146.5 768.1 2160M593.8 2132.9 608.3 2146.5 622.8 2132.9 608.3 2119.4zM666.4 2119.4 681 2132.9 695.5 2119.4 695.5 2105.9 681 2092.3 666.4 2105.9zM710 2105.9 724.5 2119.4 739.1 2105.9 724.5 2092.3zM521.1 2092.3 535.7 2105.9 550.2 2092.3 535.7 2078.8zM550.2 2092.3 564.7 2105.9 579.3 2092.3 564.7 2078.8zM637.4 2092.3 651.9 2105.9 666.4 2092.3 651.9 2078.8zM782.7 2078.8 797.2 2092.3 811.7 2078.8 811.7 2078.8 826.2 2065.3 811.7 2051.8 797.2 2051.8 782.7 2051.8 768.1 2065.3 782.7 2078.8zM608.3 2065.3 622.8 2078.8 637.4 2078.8 651.9 2065.3 651.9 2051.8 637.4 2038.2 622.8 2051.8 622.8 2051.8 622.8 2051.8 608.3 2038.2 608.3 2038.2 593.8 2024.7 579.3 2038.2 579.3 2038.2 564.7 2051.8 579.3 2065.3 593.8 2051.8 593.8 2051.8 593.8 2051.8 608.3 2065.3zM695.5 2038.2 695.5 2038.2 695.5 2024.7 695.5 2024.7 710 2024.7 710 2024.7 710 2038.2 710 2038.2zM768.1 2011.2 768.1 2011.2 768.1 2011.2 768.1 2011.2zM710 1997.6 710 1997.6 710 1997.6 724.5 1997.6 739.1 1997.6 739.1 1997.6 739.1 1997.6 724.5 1997.6zM797.2 1997.6 797.2 1997.6 782.7 1984.1 768.1 1984.1 753.6 1984.1 753.6 1984.1 753.6 1984.1 768.1 1984.1 782.7 1970.6 782.7 1970.6 782.7 1970.6 797.2 1984.1 811.7 1984.1 811.7 1984.1 811.7 1984.1 797.2 1997.6zM1058.7 1997.6 1073.2 2011.2 1087.7 1997.6 1073.2 1984.1zM579.3 1984.1 579.3 1984.1 579.3 1984.1 593.8 1984.1 593.8 1984.1 593.8 1984.1zM695.5 1984.1 695.5 1984.1 695.5 1984.1 695.5 1984.1zM1029.6 1970.6 1044.2 1984.1 1058.7 1970.6 1044.2 1957zM550.2 1957 550.2 1957 535.7 1943.5 535.7 1943.5 535.7 1943.5 550.2 1943.5 550.2 1943.5 550.2 1957zM651.9 1957 651.9 1957 651.9 1957 651.9 1957zM710 1957 710 1957 710 1943.5 710 1930 710 1930 710 1930 710 1943.5 710 1957zM739.1 1957 739.1 1957 739.1 1957 739.1 1957zM768.1 1957 768.1 1957 768.1 1957 768.1 1957zM797.2 1957 797.2 1957 797.2 1957 797.2 1957zM1073.2 1957 1087.7 1970.6 1102.3 1957 1087.7 1943.5zM1102.3 1943.5 1116.8 1957 1131.3 1943.5 1116.8 1930zM448.5 1930 448.5 1930 448.5 1930 448.5 1930zM506.6 1930 506.6 1930 506.6 1930 506.6 1930zM564.7 1930 564.7 1930 564.7 1930 564.7 1930zM622.8 1930 622.8 1930 622.8 1916.5 622.8 1916.5 622.8 1916.5 622.8 1930zM768.1 1930 768.1 1930 768.1 1930 768.1 1930zM826.2 1930 826.2 1930 826.2 1930 826.2 1930zM477.6 1916.5 477.6 1916.5 477.6 1916.5 492.1 1916.5 492.1 1916.5 492.1 1916.5zM521.1 1916.5 521.1 1916.5 521.1 1916.5 521.1 1916.5zM695.5 1916.5 695.5 1916.5 695.5 1916.5 695.5 1916.5zM913.4 1902.9 913.4 1902.9 898.9 1889.4 884.3 1889.4 884.3 1889.4 869.8 1875.9 869.8 1875.9 869.8 1875.9 884.3 1875.9 884.3 1875.9 898.9 1889.4 913.4 1889.4 913.4 1889.4 913.4 1902.9zM971.5 1902.9 986 1916.5 1000.6 1902.9 1000.6 1902.9 1015.1 1889.4 1000.6 1875.9 986 1889.4 986 1889.4zM434 1889.4 434 1889.4 434 1889.4 434 1889.4zM608.3 1889.4 608.3 1889.4 608.3 1889.4 608.3 1889.4zM448.5 1875.9 448.5 1875.9 448.5 1875.9 463 1875.9 463 1875.9 463 1875.9zM927.9 1875.9 927.9 1875.9 927.9 1875.9 927.9 1875.9zM1044.2 1875.9 1058.7 1889.4 1073.2 1875.9 1058.7 1862.3zM434 1862.3 434 1862.3 434 1862.3 434 1862.3zM840.8 1862.3 840.8 1862.3 840.8 1862.3 840.8 1862.3zM913.4 1862.3 913.4 1862.3 913.4 1862.3 913.4 1862.3zM957 1862.3 957 1862.3 957 1862.3 971.5 1862.3 971.5 1862.3 971.5 1862.3zM419.5 1848.8 419.5 1848.8 419.5 1848.8 419.5 1848.8zM448.5 1848.8 448.5 1848.8 448.5 1848.8 448.5 1848.8zM608.3 1848.8 608.3 1848.8 608.3 1848.8 608.3 1848.8zM898.9 1848.8 898.9 1848.8 898.9 1848.8 898.9 1848.8zM942.5 1848.8 942.5 1848.8 942.5 1848.8 942.5 1848.8zM1000.6 1848.8 1000.6 1848.8 1000.6 1848.8 1000.6 1848.8zM1233 1848.8 1247.5 1862.3 1262.1 1848.8 1247.5 1835.3zM361.3 1848.8 361.3 1848.8 375.9 1862.3 390.4 1862.3 390.4 1862.3 390.4 1875.9 390.4 1875.9 375.9 1889.4 390.4 1902.9 390.4 1902.9 404.9 1916.5 419.5 1916.5 419.5 1916.5 419.5 1916.5 404.9 1930 404.9 1930 404.9 1930 390.4 1916.5 375.9 1930 375.9 1943.5 390.4 1957 390.4 1957 404.9 1970.6 419.5 1970.6 434 1970.6 434 1970.6 448.5 1984.1 463 1970.6 463 1957 463 1957 477.6 1943.5 477.6 1943.5 492.1 1943.5 492.1 1943.5 492.1 1957 492.1 1957 477.6 1970.6 492.1 1984.1 492.1 1984.1 492.1 1984.1 477.6 1984.1 463 1997.6 477.6 2011.2 492.1 2011.2 506.6 2011.2 521.1 1997.6 521.1 1984.1 521.1 1984.1 535.7 1984.1 535.7 1984.1 550.2 1997.6 550.2 1997.6 550.2 1997.6 535.7 1997.6 521.1 2011.2 535.7 2024.7 550.2 2024.7 550.2 2024.7 564.7 2038.2 579.3 2024.7 564.7 2011.2 564.7 2011.2 564.7 2011.2 579.3 2011.2 593.8 2011.2 593.8 2011.2 608.3 2024.7 608.3 2024.7 622.8 2038.2 637.4 2024.7 622.8 2011.2 622.8 2011.2 608.3 1997.6 608.3 1997.6 608.3 1997.6 622.8 1997.6 637.4 1984.1 637.4 1984.1 651.9 1984.1 666.4 1984.1 666.4 1984.1 666.4 1984.1 651.9 1997.6 666.4 2011.2 681 2011.2 681 2011.2 681 2011.2 666.4 2024.7 666.4 2024.7 651.9 2038.2 651.9 2051.8 651.9 2065.3 666.4 2078.8 681 2078.8 681 2078.8 695.5 2092.3 710 2078.8 695.5 2065.3 695.5 2065.3 695.5 2065.3 710 2065.3 724.5 2051.8 724.5 2051.8 724.5 2051.8 724.5 2065.3 724.5 2065.3 710 2078.8 724.5 2092.3 739.1 2092.3 753.6 2078.8 753.6 2065.3 753.6 2065.3 768.1 2051.8 768.1 2038.2 768.1 2038.2 768.1 2038.2 782.7 2051.8 797.2 2038.2 797.2 2038.2 797.2 2038.2 811.7 2051.8 826.2 2051.8 840.8 2038.2 826.2 2024.7 826.2 2024.7 826.2 2011.2 826.2 2011.2 840.8 1997.6 840.8 1984.1 840.8 1970.6 840.8 1957 840.8 1957 855.3 1943.5 855.3 1943.5 855.3 1943.5 869.8 1957 884.3 1943.5 869.8 1930 869.8 1930 855.3 1916.5 840.8 1916.5 840.8 1916.5 840.8 1916.5 855.3 1902.9 855.3 1889.4 855.3 1889.4 855.3 1889.4 855.3 1902.9 869.8 1916.5 869.8 1916.5 884.3 1930 884.3 1930 884.3 1943.5 884.3 1957 898.9 1970.6 913.4 1957 913.4 1957 927.9 1943.5 913.4 1930 913.4 1930 913.4 1930 927.9 1930 942.5 1916.5 942.5 1902.9 942.5 1889.4 942.5 1889.4 942.5 1889.4 942.5 1902.9 957 1916.5 971.5 1902.9 971.5 1889.4 971.5 1889.4 986 1875.9 986 1875.9 1000.6 1875.9 1015.1 1875.9 1015.1 1875.9 1015.1 1889.4 1029.6 1902.9 1044.2 1889.4 1044.2 1875.9 1029.6 1862.3 1029.6 1862.3 1029.6 1848.8 1029.6 1848.8 1029.6 1848.8 1044.2 1862.3 1058.7 1862.3 1073.2 1862.3 1087.7 1848.8 1087.7 1835.3 1087.7 1835.3 1087.7 1835.3 1087.7 1848.8 1102.3 1862.3 1102.3 1862.3 1116.8 1875.9 1131.3 1862.3 1116.8 1848.8 1116.8 1848.8 1116.8 1835.3 1102.3 1821.8 1102.3 1821.8 1102.3 1821.8 1116.8 1821.8 1131.3 1821.8 1145.9 1821.8 1145.9 1821.8 1160.4 1835.3 1174.9 1821.8 1174.9 1808.2 1160.4 1794.7 1160.4 1794.7 1160.4 1781.2 1160.4 1781.2 1174.9 1767.6 1174.9 1767.6 1174.9 1767.6 1174.9 1781.2 1189.4 1794.7 1189.4 1794.7 1189.4 1794.7 1174.9 1808.2 1189.4 1821.8 1204 1808.2 1204 1808.2 1218.5 1808.2 1233 1794.7 1233 1794.7 1247.5 1781.2 1233 1767.6 1233 1767.6 1233 1754.1 1233 1740.6 1233 1740.6 1233 1740.6 1233 1754.1 1247.5 1767.6 1247.5 1767.6 1262.1 1781.2 1276.6 1767.6 1276.6 1767.6 1291.1 1754.1 1291.1 1754.1 1305.7 1754.1 1320.2 1740.6 1305.7 1727 1291.1 1727 1276.6 1740.6 1276.6 1740.6 1276.6 1740.6 1262.1 1727 1247.5 1727 1247.5 1727 1247.5 1713.5 1247.5 1713.5 1262.1 1713.5 1262.1 1713.5 1276.6 1727 1291.1 1713.5 1291.1 1713.5 1291.1 1713.5 1305.7 1727 1320.2 1713.5 1320.2 1700 1320.2 1700 1320.2 1700 1334.7 1713.5 1334.7 1713.5 1349.2 1727 1363.8 1713.5 1349.2 1700 1349.2 1700 1349.2 1700 1363.8 1686.5 1363.8 1672.9 1349.2 1659.4 1349.2 1659.4 1349.2 1659.4 1363.8 1645.9 1363.8 1632.3 1363.8 1618.8 1349.2 1605.3 1349.2 1605.3 1334.7 1591.7 1334.7 1591.7 1334.7 1578.2 1334.7 1578.2 1349.2 1564.7 1349.2 1551.2 1349.2 1551.2 1363.8 1551.2 1378.3 1537.6 1363.8 1524.1 1349.2 1524.1 1349.2 1524.1 1349.2 1510.6 1349.2 1510.6 1363.8 1510.6 1363.8 1510.6 1378.3 1524.1 1392.8 1510.6 1392.8 1510.6 1392.8 1510.6 1392.8 1524.1 1407.4 1537.6 1421.9 1524.1 1421.9 1510.6 1407.4 1497 1407.4 1497 1392.8 1483.5 1392.8 1483.5 1392.8 1483.5 1407.4 1470 1407.4 1456.4 1407.4 1442.9 1407.4 1429.4 1407.4 1429.4 1407.4 1429.4 1421.9 1442.9 1436.4 1442.9 1450.9 1429.4 1450.9 1429.4 1465.5 1415.8 1465.5 1415.8 1480 1415.8 1494.5 1402.3 1480 1388.8 1465.5 1388.8 1450.9 1402.3 1450.9 1402.3 1436.4 1415.8 1436.4 1415.8 1421.9 1415.8 1421.9 1415.8 1407.4 1402.3 1392.8 1402.3 1392.8 1402.3 1392.8 1402.3 1407.4 1402.3 1421.9 1388.8 1407.4 1375.3 1407.4 1375.3 1407.4 1361.7 1392.8 1348.2 1392.8 1348.2 1392.8 1348.2 1407.4 1348.2 1421.9 1348.2 1436.4 1334.7 1436.4 1334.7 1450.9 1321.1 1450.9 1321.1 1465.5 1321.1 1480 1321.1 1494.5 1307.6 1480 1294.1 1480 1294.1 1480 1294.1 1494.5 1280.6 1494.5 1267 1480 1253.5 1465.5 1267 1465.5 1280.6 1465.5 1280.6 1450.9 1294.1 1450.9 1294.1 1436.4 1307.6 1436.4 1307.6 1436.4 1307.6 1421.9 1294.1 1407.4 1294.1 1392.8 1307.6 1392.8 1321.1 1392.8 1321.1 1378.3 1321.1 1363.8 1334.7 1363.8 1348.2 1363.8 1348.2 1349.2 1348.2 1349.2 1348.2 1349.2 1348.2 1363.8 1334.7 1363.8 1321.1 1363.8 1321.1 1378.3 1321.1 1392.8 1307.6 1392.8 1294.1 1392.8 1280.6 1392.8 1267 1392.8 1253.5 1392.8 1253.5 1407.4 1253.5 1407.4 1253.5 1421.9 1267 1436.4 1253.5 1436.4 1240 1421.9 1226.4 1421.9 1226.4 1407.4 1212.9 1392.8 1212.9 1378.3 1212.9 1363.8 1226.4 1363.8 1226.4 1349.2 1240 1349.2 1240 1349.2 1240 1349.2 1226.4 1349.2 1226.4 1363.8 1212.9 1363.8 1199.4 1349.2 1185.8 1349.2 1185.8 1334.7 1172.3 1320.2 1172.3 1320.2 1172.3 1305.7 1158.8 1291.1 1158.8 1291.1 1158.8 1291.1 1158.8 1305.7 1145.2 1291.1 1131.7 1291.1 1131.7 1291.1 1118.2 1291.1 1118.2 1305.7 1104.7 1291.1 1091.1 1291.1 1091.1 1276.6 1077.6 1262.1 1077.6 1262.1 1077.6 1262.1 1077.6 1276.6 1064.1 1262.1 1050.5 1247.5 1050.5 1233 1050.5 1218.5 1050.5 1218.5 1050.5 1218.5 1050.5 1233 1037 1218.5 1023.5 1218.5 1023.5 1218.5 1010 1218.5 1010 1233 1010 1233 1010 1247.5 1023.5 1262.1 1023.5 1262.1 1023.5 1276.6 1037 1291.1 1023.5 1291.1 1010 1291.1 996.4 1276.6 982.9 1262.1 996.4 1262.1 996.4 1247.5 996.4 1247.5 996.4 1247.5 996.4 1262.1 982.9 1262.1 969.4 1262.1 955.8 1247.5 942.3 1247.5 942.3 1233 928.8 1233 928.8 1218.5 915.2 1204 928.8 1218.5 942.3 1218.5 942.3 1233 955.8 1233 955.8 1233 969.4 1233 969.4 1233 969.4 1218.5 955.8 1204 969.4 1218.5 982.9 1218.5 982.9 1218.5 982.9 1204 996.4 1204 996.4 1204 996.4 1189.4 982.9 1189.4 982.9 1189.4 982.9 1204 969.4 1204 955.8 1204 942.3 1189.4 928.8 1189.4 928.8 1189.4 915.2 1174.9 901.7 1174.9 901.7 1174.9 888.2 1174.9 888.2 1174.9 888.2 1189.4 901.7 1189.4 901.7 1204 915.2 1218.5 915.2 1233 915.2 1247.5 901.7 1233 888.2 1218.5 888.2 1218.5 888.2 1204 874.7 1189.4 874.7 1189.4 874.7 1174.9 861.1 1160.4 861.1 1145.9 861.1 1131.3 874.7 1145.9 888.2 1145.9 888.2 1145.9 888.2 1131.3 888.2 1131.3 888.2 1116.8 874.7 1116.8 874.7 1116.8 874.7 1131.3 861.1 1116.8 847.6 1102.3 861.1 1102.3 861.1 1087.7 874.7 1102.3 888.2 1102.3 888.2 1102.3 901.7 1116.8 915.2 1131.3 915.2 1145.9 915.2 1145.9 915.2 1145.9 915.2 1131.3 928.8 1145.9 942.3 1145.9 942.3 1160.4 955.8 1160.4 955.8 1160.4 955.8 1145.9 969.4 1145.9 969.4 1145.9 969.4 1145.9 955.8 1131.3 942.3 1131.3 942.3 1116.8 928.8 1102.3 942.3 1102.3 942.3 1087.7 955.8 1087.7 955.8 1087.7 955.8 1087.7 942.3 1087.7 942.3 1102.3 928.8 1087.7 915.2 1087.7 915.2 1087.7 915.2 1102.3 901.7 1087.7 888.2 1073.2 888.2 1058.7 888.2 1044.2 901.7 1044.2 901.7 1029.6 915.2 1029.6 915.2 1029.6 915.2 1015.1 901.7 1000.6 901.7 986 915.2 986 915.2 986 915.2 986 901.7 986 888.2 971.5 874.7 957 874.7 942.5 874.7 942.5 874.7 927.9 861.1 913.4 874.7 913.4 874.7 898.9 874.7 898.9 874.7 898.9 861.1 884.3 847.6 884.3 847.6 869.8 834.1 855.3 847.6 869.8 861.1 869.8 861.1 869.8 874.7 869.8 874.7 855.3 888.2 855.3 888.2 855.3 888.2 840.8 874.7 826.2 888.2 826.2 901.7 826.2 915.2 840.8 928.8 840.8 928.8 840.8 942.3 840.8 942.3 840.8 942.3 826.2 928.8 826.2 928.8 826.2 915.2 811.7 901.7 797.2 915.2 797.2 915.2 782.7 915.2 768.1 915.2 753.6 915.2 739.1 928.8 739.1 928.8 724.5 928.8 724.5 928.8 710 915.2 695.5 915.2 681 915.2 666.4 928.8 666.4 928.8 651.9 942.3 651.9 942.3 637.4 942.3 622.8 942.3 622.8 942.3 622.8 928.8 608.3 915.2 593.8 928.8 593.8 928.8 579.3 928.8 579.3 928.8 564.7 915.2 550.2 915.2 535.7 915.2 535.7 915.2 535.7 901.7 521.1 888.2 506.6 901.7 506.6 915.2 506.6 928.8 506.6 942.3 506.6 955.8 506.6 955.8 506.6 955.8 506.6 942.3 492.1 928.8 477.6 928.8 463 942.3 463 955.8 477.6 969.4 492.1 969.4 492.1 969.4 492.1 969.4 477.6 969.4 463 969.4 463 969.4 448.5 955.8 434 955.8 434 955.8 434 955.8 448.5 955.8 463 942.3 463 928.8 448.5 915.2 434 928.8 434 928.8 419.5 942.3 419.5 942.3 404.9 955.8 419.5 969.4 419.5 969.4 434 982.9 448.5 982.9 448.5 982.9 448.5 982.9 434 982.9 419.5 982.9 419.5 982.9 404.9 969.4 390.4 969.4 375.9 982.9 390.4 996.4 404.9 996.4 404.9 996.4 419.5 1010 419.5 1010 419.5 1023.5 419.5 1023.5 419.5 1023.5 404.9 1010 404.9 1010 390.4 996.4 375.9 996.4 361.3 996.4M477.6 1835.3 477.6 1835.3 477.6 1835.3 477.6 1835.3zM913.4 1835.3 913.4 1835.3 913.4 1835.3 913.4 1835.3zM1044.2 1835.3 1044.2 1835.3 1044.2 1821.8 1044.2 1821.8 1058.7 1821.8 1058.7 1821.8 1058.7 1835.3 1058.7 1835.3zM404.9 1821.8 404.9 1821.8 404.9 1821.8 419.5 1821.8 419.5 1821.8 419.5 1821.8zM986 1821.8 986 1821.8 986 1821.8 986 1821.8zM1029.6 1808.2 1029.6 1808.2 1029.6 1794.7 1029.6 1794.7 1029.6 1794.7 1029.6 1808.2zM1233 1808.2 1247.5 1821.8 1262.1 1821.8 1276.6 1808.2 1262.1 1794.7 1247.5 1794.7zM1363.8 1808.2 1378.3 1821.8 1392.8 1808.2 1378.3 1794.7zM361.3 1808.2 375.9 1808.2 375.9 1808.2 375.9 1821.8 375.9 1835.3 375.9 1835.3 375.9 1835.3 361.3 1821.8M390.4 1794.7 390.4 1794.7 390.4 1794.7 390.4 1794.7zM1058.7 1794.7 1058.7 1794.7 1058.7 1794.7 1073.2 1794.7 1073.2 1794.7 1073.2 1794.7zM1116.8 1794.7 1116.8 1794.7 1116.8 1794.7 1131.3 1781.2 1116.8 1767.6 1102.3 1781.2 1102.3 1781.2 1102.3 1781.2 1102.3 1767.6 1087.7 1754.1 1087.7 1754.1 1073.2 1740.6 1058.7 1754.1 1073.2 1767.6 1073.2 1767.6 1073.2 1767.6 1058.7 1767.6 1058.7 1767.6 1058.7 1754.1 1044.2 1740.6 1044.2 1740.6 1044.2 1740.6 1058.7 1727 1058.7 1727 1058.7 1727 1073.2 1740.6 1087.7 1740.6 1087.7 1740.6 1102.3 1754.1 1102.3 1754.1 1116.8 1767.6 1131.3 1767.6 1145.9 1754.1 1145.9 1754.1 1145.9 1754.1 1145.9 1767.6 1145.9 1767.6 1131.3 1781.2 1131.3 1794.7 1131.3 1794.7zM913.4 1781.2 913.4 1781.2 913.4 1781.2 913.4 1781.2zM1218.5 1781.2 1218.5 1781.2 1218.5 1781.2 1218.5 1781.2zM1305.7 1781.2 1320.2 1794.7 1334.7 1781.2 1320.2 1767.6zM1334.7 1781.2 1349.2 1794.7 1363.8 1781.2 1349.2 1767.6zM419.5 1767.6 419.5 1767.6 419.5 1767.6 419.5 1767.6zM1000.6 1767.6 1000.6 1767.6 986 1754.1 986 1754.1 986 1754.1 1000.6 1754.1 1015.1 1754.1 1015.1 1754.1 1015.1 1767.6 1015.1 1767.6zM448.5 1754.1 448.5 1754.1 448.5 1754.1 448.5 1754.1zM1262.1 1754.1 1262.1 1754.1 1262.1 1754.1 1262.1 1754.1zM1116.8 1740.6 1116.8 1740.6 1116.8 1740.6 1116.8 1740.6zM1189.4 1740.6 1189.4 1740.6 1189.4 1727 1189.4 1713.5 1189.4 1713.5 1204 1713.5 1204 1713.5 1204 1713.5 1189.4 1727 1189.4 1740.6zM1320.2 1740.6 1334.7 1754.1 1349.2 1740.6 1334.7 1727zM869.8 1727 869.8 1727 869.8 1727 869.8 1727zM1131.3 1727 1131.3 1727 1131.3 1727 1145.9 1727 1145.9 1727 1145.9 1727zM361.3 1727 375.9 1727 375.9 1727 375.9 1727 361.3 1740.6 361.3 1740.6M913.4 1713.5 913.4 1713.5 913.4 1713.5 913.4 1713.5zM1102.3 1713.5 1102.3 1713.5 1102.3 1713.5 1102.3 1713.5zM1407.4 1713.5 1421.9 1727 1436.4 1713.5 1421.9 1700zM1087.7 1700 1087.7 1700 1087.7 1700 1087.7 1700zM1145.9 1700 1145.9 1700 1145.9 1700 1145.9 1700zM1233 1700 1233 1700 1233 1686.5 1233 1686.5 1247.5 1672.9 1247.5 1672.9 1262.1 1672.9 1276.6 1672.9 1276.6 1672.9 1291.1 1686.5 1305.7 1686.5 1305.7 1686.5 1305.7 1686.5 1291.1 1686.5 1276.6 1700 1276.6 1700 1276.6 1700 1276.6 1686.5 1262.1 1672.9 1247.5 1686.5 1247.5 1686.5 1233 1700zM1363.8 1700 1378.3 1713.5 1392.8 1700 1378.3 1686.5zM361.3 1700 361.3 1700zM1131.3 1686.5 1131.3 1686.5 1131.3 1672.9 1131.3 1672.9 1145.9 1659.4 1145.9 1659.4 1145.9 1659.4 1160.4 1672.9 1160.4 1672.9 1160.4 1672.9 1145.9 1672.9 1131.3 1686.5zM1174.9 1686.5 1174.9 1686.5 1174.9 1686.5 1174.9 1686.5zM1334.7 1686.5 1334.7 1686.5 1334.7 1686.5 1334.7 1686.5zM1421.9 1686.5 1436.4 1700 1450.9 1686.5 1436.4 1672.9zM1102.3 1672.9 1102.3 1672.9 1102.3 1672.9 1102.3 1672.9zM1189.4 1672.9 1189.4 1672.9 1189.4 1672.9 1189.4 1672.9zM1218.5 1672.9 1218.5 1672.9 1218.5 1672.9 1218.5 1672.9zM1392.8 1672.9 1407.4 1686.5 1421.9 1672.9 1407.4 1659.4 1407.4 1659.4 1407.4 1659.4 1421.9 1659.4 1436.4 1659.4 1450.9 1645.9 1450.9 1632.3 1436.4 1618.8 1436.4 1618.8 1436.4 1605.3 1436.4 1605.3 1450.9 1605.3 1450.9 1605.3 1465.5 1618.8 1465.5 1618.8 1465.5 1618.8 1450.9 1632.3 1465.5 1645.9 1480 1632.3 1480 1632.3 1494.5 1632.3 1509.1 1632.3 1509.1 1632.3 1523.6 1645.9 1538.1 1632.3 1523.6 1618.8 1523.6 1618.8 1509.1 1605.3 1494.5 1605.3 1480 1605.3 1480 1605.3 1480 1605.3 1494.5 1591.7 1494.5 1578.2 1480 1564.7 1480 1564.7 1480 1564.7 1494.5 1551.2 1480 1537.6 1465.5 1551.2 1465.5 1551.2 1450.9 1564.7 1465.5 1578.2 1465.5 1578.2 1465.5 1591.7 1465.5 1591.7 1465.5 1591.7 1450.9 1578.2 1436.4 1578.2 1436.4 1578.2 1436.4 1564.7 1436.4 1551.2 1421.9 1537.6 1407.4 1551.2 1407.4 1551.2 1392.8 1551.2 1378.3 1564.7 1392.8 1578.2 1392.8 1578.2 1392.8 1591.7 1392.8 1591.7 1378.3 1605.3 1378.3 1605.3 1363.8 1618.8 1378.3 1632.3 1378.3 1632.3 1392.8 1645.9 1392.8 1645.9 1392.8 1645.9 1378.3 1659.4 1392.8 1672.9zM1552.6 1672.9 1567.2 1686.5 1581.7 1672.9 1567.2 1659.4zM1233 1659.4 1233 1659.4 1233 1659.4 1233 1659.4zM1189.4 1645.9 1189.4 1645.9 1189.4 1645.9 1204 1645.9 1204 1645.9 1204 1645.9zM1262.1 1645.9 1262.1 1645.9 1262.1 1632.3 1262.1 1632.3 1262.1 1632.3 1276.6 1645.9 1276.6 1645.9 1276.6 1645.9zM1334.7 1645.9 1334.7 1645.9 1320.2 1632.3 1305.7 1632.3 1291.1 1632.3 1291.1 1632.3 1291.1 1632.3 1305.7 1618.8 1305.7 1605.3 1305.7 1605.3 1320.2 1605.3 1320.2 1605.3 1320.2 1618.8 1334.7 1632.3 1334.7 1632.3 1334.7 1645.9zM361.3 1645.9 375.9 1645.9 375.9 1645.9 375.9 1645.9zM1102.3 1632.3 1102.3 1632.3 1102.3 1632.3 1102.3 1632.3zM1145.9 1632.3 1145.9 1632.3 1145.9 1632.3 1145.9 1632.3zM1174.9 1632.3 1174.9 1632.3 1174.9 1632.3 1174.9 1632.3zM1218.5 1632.3 1218.5 1632.3 1204 1618.8 1204 1618.8 1204 1618.8 1218.5 1605.3 1218.5 1605.3 1218.5 1605.3 1218.5 1618.8 1233 1632.3 1233 1632.3 1233 1632.3zM1407.4 1632.3 1407.4 1632.3 1392.8 1618.8 1392.8 1618.8 1392.8 1618.8 1407.4 1605.3 1407.4 1605.3 1407.4 1605.3 1407.4 1618.8 1407.4 1632.3zM1552.6 1632.3 1567.2 1645.9 1581.7 1632.3 1567.2 1618.8zM1581.7 1632.3 1596.2 1645.9 1610.7 1645.9 1625.3 1632.3 1610.7 1618.8 1596.2 1618.8zM1247.5 1618.8 1247.5 1618.8 1247.5 1618.8 1247.5 1618.8zM1625.3 1618.8 1639.8 1632.3 1654.3 1618.8 1639.8 1605.3zM1697.9 1618.8 1712.4 1632.3 1727 1618.8 1712.4 1605.3zM1189.4 1605.3 1189.4 1605.3 1189.4 1605.3 1189.4 1605.3zM1262.1 1605.3 1262.1 1605.3 1262.1 1605.3 1276.6 1591.7 1276.6 1591.7 1291.1 1578.2 1291.1 1564.7 1291.1 1564.7 1291.1 1564.7 1291.1 1578.2 1291.1 1591.7 1291.1 1591.7 1276.6 1605.3 1276.6 1605.3zM1349.2 1591.7 1363.8 1605.3 1378.3 1591.7 1363.8 1578.2zM1421.9 1591.7 1421.9 1591.7 1421.9 1591.7 1421.9 1591.7zM1538.1 1591.7 1552.6 1605.3 1567.2 1591.7 1552.6 1578.2zM1204 1578.2 1204 1578.2 1204 1578.2 1204 1578.2zM1247.5 1578.2 1247.5 1578.2 1247.5 1578.2 1262.1 1564.7 1262.1 1551.2 1262.1 1537.6 1262.1 1537.6 1262.1 1537.6 1262.1 1551.2 1262.1 1564.7 1262.1 1578.2 1262.1 1578.2zM1494.5 1578.2 1509.1 1591.7 1523.6 1578.2 1509.1 1564.7zM1625.3 1578.2 1639.8 1591.7 1654.3 1578.2 1639.8 1564.7zM361.3 1578.2 361.3 1578.2 361.3 1591.7 361.3 1605.3 361.3 1605.3M1581.7 1564.7 1596.2 1578.2 1610.7 1578.2 1625.3 1564.7 1610.7 1551.2 1596.2 1551.2zM1233 1551.2 1233 1551.2 1233 1537.6 1233 1524.1 1233 1524.1 1247.5 1524.1 1247.5 1524.1 1247.5 1524.1 1233 1537.6 1233 1551.2zM1320.2 1551.2 1320.2 1551.2 1320.2 1551.2 1320.2 1551.2zM1494.5 1551.2 1509.1 1564.7 1523.6 1564.7 1538.1 1551.2 1523.6 1537.6 1523.6 1537.6 1509.1 1524.1 1494.5 1537.6zM1538.1 1551.2 1552.6 1564.7 1567.2 1551.2 1552.6 1537.6zM1160.4 1537.6 1160.4 1537.6 1160.4 1537.6 1160.4 1537.6zM1204 1537.6 1204 1537.6 1204 1537.6 1204 1537.6zM1291.1 1537.6 1291.1 1537.6 1291.1 1524.1 1291.1 1524.1 1291.1 1524.1 1291.1 1537.6zM1436.4 1537.6 1450.9 1551.2 1465.5 1537.6 1465.5 1537.6 1480 1524.1 1480 1524.1 1494.5 1510.6 1494.5 1497 1480 1483.5 1480 1483.5 1465.5 1470 1450.9 1470 1436.4 1470 1436.4 1470 1436.4 1456.4 1421.9 1442.9 1407.4 1456.4 1407.4 1470 1407.4 1483.5 1421.9 1497 1436.4 1497 1436.4 1497 1436.4 1510.6 1436.4 1510.6 1421.9 1524.1 1436.4 1537.6zM1320.2 1524.1 1320.2 1524.1 1320.2 1510.6 1320.2 1497 1320.2 1483.5 1305.7 1470 1305.7 1470 1305.7 1456.4 1305.7 1456.4 1305.7 1456.4 1320.2 1470 1320.2 1470 1320.2 1483.5 1320.2 1497 1320.2 1510.6 1320.2 1524.1zM1450.9 1524.1 1450.9 1524.1 1450.9 1524.1 1450.9 1524.1zM1567.2 1524.1 1581.7 1537.6 1596.2 1524.1 1581.7 1510.6zM1276.6 1510.6 1276.6 1510.6 1276.6 1510.6 1276.6 1510.6zM1465.5 1510.6 1465.5 1510.6 1465.5 1497 1465.5 1497 1465.5 1497 1465.5 1510.6zM1509.1 1510.6 1523.6 1524.1 1538.1 1524.1 1552.6 1510.6 1538.1 1497 1538.1 1497 1538.1 1497 1552.6 1483.5 1538.1 1470 1523.6 1470 1523.6 1470 1523.6 1456.4 1523.6 1456.4 1523.6 1456.4 1538.1 1470 1552.6 1470 1567.2 1456.4 1552.6 1442.9 1538.1 1442.9 1538.1 1442.9 1523.6 1429.4 1509.1 1442.9 1509.1 1442.9 1494.5 1456.4 1494.5 1470 1494.5 1483.5 1509.1 1497 1509.1 1497zM1189.4 1497 1189.4 1497 1189.4 1497 1189.4 1497zM1625.3 1497 1639.8 1510.6 1654.3 1497 1639.8 1483.5zM1233 1483.5 1233 1483.5 1233 1483.5 1233 1483.5zM1262.1 1483.5 1262.1 1483.5 1262.1 1483.5 1262.1 1483.5zM1363.8 1483.5 1363.8 1483.5 1363.8 1483.5 1363.8 1483.5zM361.3 1483.5 361.3 1483.5zM1276.6 1470 1276.6 1470 1276.6 1470 1276.6 1470zM1349.2 1470 1349.2 1470 1349.2 1470 1349.2 1470zM1378.3 1470 1378.3 1470 1363.8 1456.4 1363.8 1456.4 1363.8 1442.9 1363.8 1442.9 1363.8 1442.9 1378.3 1456.4 1378.3 1456.4 1378.3 1470zM1567.2 1470 1581.7 1483.5 1596.2 1470 1596.2 1456.4 1581.7 1442.9 1567.2 1456.4zM1683.4 1470 1697.9 1483.5 1712.4 1470 1697.9 1456.4zM1204 1456.4 1204 1456.4 1204 1456.4 1218.5 1456.4 1218.5 1456.4 1218.5 1456.4zM1247.5 1456.4 1247.5 1456.4 1247.5 1456.4 1247.5 1456.4zM1189.4 1442.9 1189.4 1442.9 1189.4 1442.9 1189.4 1442.9zM1262.1 1442.9 1262.1 1442.9 1262.1 1442.9 1262.1 1442.9zM1334.7 1442.9 1334.7 1442.9 1334.7 1442.9 1334.7 1442.9zM1450.9 1442.9 1465.5 1456.4 1480 1442.9 1465.5 1429.4zM1596.2 1442.9 1610.7 1456.4 1625.3 1442.9 1625.3 1429.4 1625.3 1415.8 1625.3 1402.3 1625.3 1388.8 1625.3 1375.3 1625.3 1361.7 1610.7 1348.2 1596.2 1348.2 1581.7 1361.7 1581.7 1375.3 1581.7 1375.3 1581.7 1375.3 1581.7 1361.7 1581.7 1348.2 1567.2 1334.7 1552.6 1348.2 1552.6 1361.7 1552.6 1375.3 1552.6 1375.3 1552.6 1375.3 1538.1 1361.7 1523.6 1361.7 1509.1 1361.7 1494.5 1375.3 1509.1 1388.8 1523.6 1388.8 1523.6 1388.8 1538.1 1402.3 1552.6 1402.3 1552.6 1402.3 1567.2 1415.8 1581.7 1402.3 1581.7 1402.3 1596.2 1388.8 1596.2 1388.8 1596.2 1388.8 1596.2 1402.3 1596.2 1402.3 1581.7 1415.8 1581.7 1429.4 1596.2 1442.9zM1639.8 1442.9 1654.3 1456.4 1668.9 1456.4 1683.4 1442.9 1668.9 1429.4 1654.3 1429.4 1654.3 1429.4 1654.3 1415.8 1654.3 1402.3 1654.3 1402.3 1668.9 1388.8 1654.3 1375.3 1639.8 1388.8 1639.8 1388.8 1625.3 1402.3 1625.3 1415.8 1625.3 1429.4 1639.8 1442.9zM1131.3 1429.4 1131.3 1429.4 1131.3 1429.4 1145.9 1429.4 1145.9 1429.4 1145.9 1429.4zM1320.2 1429.4 1320.2 1429.4 1320.2 1429.4 1320.2 1429.4zM1538.1 1429.4 1552.6 1442.9 1567.2 1429.4 1552.6 1415.8 1552.6 1415.8 1538.1 1402.3 1523.6 1402.3 1509.1 1402.3 1494.5 1415.8 1509.1 1429.4 1523.6 1429.4 1538.1 1429.4zM1291.1 1415.8 1291.1 1415.8 1291.1 1415.8 1305.7 1415.8 1305.7 1415.8 1305.7 1415.8zM1668.9 1415.8 1683.4 1429.4 1697.9 1415.8 1683.4 1402.3zM1799.6 1415.8 1785.1 1415.8 1785.1 1415.8 1770.6 1402.3 1756 1402.3 1741.5 1415.8 1741.5 1415.8 1727 1415.8 1712.4 1415.8 1697.9 1429.4 1697.9 1429.4 1683.4 1442.9 1697.9 1456.4 1712.4 1442.9 1712.4 1442.9 1712.4 1442.9 1727 1456.4 1741.5 1456.4 1756 1456.4 1770.6 1456.4 1785.1 1456.4 1799.6 1442.9 1799.6 1442.9M361.3 1415.8 361.3 1415.8zM1160.4 1402.3 1160.4 1402.3 1160.4 1402.3 1160.4 1402.3zM1233 1402.3 1233 1402.3 1233 1402.3 1233 1402.3zM1320.2 1402.3 1320.2 1402.3 1320.2 1388.8 1320.2 1388.8 1320.2 1388.8 1320.2 1402.3zM1668.9 1388.8 1683.4 1402.3 1697.9 1388.8 1683.4 1375.3zM1799.6 1388.8 1785.1 1402.3 1799.6 1415.8M361.3 1388.8 361.3 1388.8zM1189.4 1375.3 1189.4 1375.3 1189.4 1375.3 1189.4 1375.3zM1262.1 1375.3 1262.1 1375.3 1262.1 1375.3 1262.1 1375.3zM1334.7 1375.3 1334.7 1375.3 1334.7 1375.3 1349.2 1375.3 1349.2 1375.3 1349.2 1375.3zM1436.4 1375.3 1450.9 1388.8 1465.5 1375.3 1450.9 1361.7 1450.9 1361.7 1450.9 1361.7 1465.5 1361.7 1480 1361.7 1494.5 1348.2 1494.5 1348.2 1509.1 1334.7 1509.1 1334.7 1509.1 1334.7 1523.6 1348.2 1538.1 1334.7 1538.1 1321.1 1523.6 1307.6 1509.1 1307.6 1494.5 1321.1 1494.5 1321.1 1480 1334.7 1480 1334.7 1480 1334.7 1465.5 1321.1 1450.9 1334.7 1450.9 1334.7 1436.4 1348.2 1436.4 1348.2 1421.9 1361.7 1436.4 1375.3zM1465.5 1375.3 1480 1388.8 1494.5 1375.3 1480 1361.7zM1770.6 1375.3 1785.1 1388.8 1799.6 1375.3 1799.6 1361.7 1785.1 1348.2 1770.6 1348.2 1756 1361.7 1770.6 1375.3zM1305.7 1361.7 1305.7 1361.7 1305.7 1361.7 1305.7 1361.7zM1639.8 1361.7 1654.3 1375.3 1668.9 1375.3 1683.4 1361.7 1683.4 1348.2 1668.9 1334.7 1654.3 1348.2 1654.3 1348.2zM361.3 1361.7 375.9 1361.7 375.9 1361.7 375.9 1361.7zM1160.4 1348.2 1160.4 1348.2 1160.4 1348.2 1160.4 1348.2zM1247.5 1348.2 1247.5 1348.2 1247.5 1348.2 1247.5 1348.2zM1320.2 1348.2 1320.2 1348.2 1320.2 1348.2 1320.2 1348.2zM1102.3 1334.7 1102.3 1334.7 1102.3 1334.7 1102.3 1334.7zM1262.1 1334.7 1262.1 1334.7 1262.1 1334.7 1262.1 1334.7zM1334.7 1334.7 1334.7 1334.7 1320.2 1321.1 1305.7 1321.1 1305.7 1321.1 1305.7 1307.6 1305.7 1307.6 1305.7 1307.6 1320.2 1321.1 1334.7 1307.6 1334.7 1307.6 1349.2 1307.6 1349.2 1307.6 1349.2 1307.6 1334.7 1321.1 1334.7 1334.7zM1610.7 1334.7 1625.3 1348.2 1639.8 1334.7 1625.3 1321.1zM1712.4 1334.7 1727 1348.2 1741.5 1334.7 1727 1321.1zM1421.9 1321.1 1421.9 1321.1 1421.9 1321.1 1421.9 1321.1zM1552.6 1321.1 1567.2 1334.7 1581.7 1321.1 1567.2 1307.6zM1102.3 1294.1 1102.3 1294.1 1102.3 1294.1 1102.3 1294.1zM1189.4 1294.1 1189.4 1294.1 1189.4 1280.6 1189.4 1280.6 1189.4 1280.6 1189.4 1294.1zM1218.5 1294.1 1218.5 1294.1 1218.5 1294.1 1218.5 1294.1zM1247.5 1294.1 1247.5 1294.1 1247.5 1294.1 1247.5 1294.1zM1363.8 1294.1 1363.8 1294.1 1363.8 1294.1 1363.8 1294.1zM1567.2 1294.1 1581.7 1307.6 1596.2 1294.1 1596.2 1280.6 1581.7 1267 1567.2 1280.6zM1334.7 1280.6 1334.7 1280.6 1334.7 1280.6 1349.2 1267 1349.2 1267 1363.8 1253.5 1363.8 1253.5 1363.8 1253.5 1363.8 1267 1363.8 1267 1349.2 1280.6 1349.2 1280.6zM1407.4 1280.6 1421.9 1294.1 1436.4 1280.6 1421.9 1267zM375.9 1267 375.9 1267 375.9 1267 375.9 1267zM1247.5 1267 1247.5 1267 1247.5 1267 1247.5 1267zM1189.4 1253.5 1189.4 1253.5 1189.4 1253.5 1189.4 1253.5zM1233 1253.5 1233 1253.5 1233 1253.5 1233 1253.5zM1523.6 1253.5 1538.1 1267 1552.6 1253.5 1538.1 1240 1538.1 1240 1523.6 1226.4 1509.1 1240 1523.6 1253.5zM1174.9 1240 1174.9 1240 1174.9 1226.4 1174.9 1212.9 1174.9 1212.9 1189.4 1212.9 1204 1212.9 1204 1212.9 1204 1212.9 1189.4 1226.4 1189.4 1226.4 1174.9 1240zM1276.6 1240 1276.6 1240 1276.6 1240 1276.6 1240zM1305.7 1240 1305.7 1240 1305.7 1240 1305.7 1240zM1378.3 1240 1378.3 1240 1378.3 1240 1378.3 1240zM361.3 1240 361.3 1240zM1218.5 1226.4 1218.5 1226.4 1218.5 1226.4 1218.5 1226.4zM1320.2 1226.4 1320.2 1226.4 1320.2 1226.4 1320.2 1226.4zM1233 1212.9 1233 1212.9 1233 1212.9 1247.5 1212.9 1247.5 1212.9 1247.5 1212.9zM1291.1 1212.9 1291.1 1212.9 1291.1 1212.9 1291.1 1212.9zM1334.7 1212.9 1334.7 1212.9 1334.7 1212.9 1334.7 1212.9zM1480 1212.9 1494.5 1226.4 1509.1 1212.9 1494.5 1199.4zM1160.4 1199.4 1160.4 1199.4 1160.4 1199.4 1160.4 1199.4zM1218.5 1199.4 1218.5 1199.4 1218.5 1199.4 1218.5 1199.4zM1320.2 1199.4 1320.2 1199.4 1320.2 1199.4 1320.2 1199.4zM1131.3 1185.8 1131.3 1185.8 1131.3 1185.8 1131.3 1185.8zM1291.1 1185.8 1291.1 1185.8 1291.1 1185.8 1291.1 1185.8zM361.3 1185.8 361.3 1185.8zM1233 1172.3 1233 1172.3 1233 1172.3 1233 1172.3zM1073.2 1158.8 1073.2 1158.8 1073.2 1158.8 1073.2 1158.8zM1262.1 1158.8 1262.1 1158.8 1262.1 1145.2 1262.1 1131.7 1262.1 1131.7 1262.1 1131.7 1276.6 1145.2 1276.6 1145.2 1276.6 1145.2 1262.1 1158.8zM1349.2 1158.8 1363.8 1172.3 1378.3 1172.3 1392.8 1158.8 1378.3 1145.2 1378.3 1145.2 1378.3 1131.7 1363.8 1118.2 1349.2 1131.7 1349.2 1145.2zM1421.9 1158.8 1436.4 1172.3 1450.9 1172.3 1465.5 1158.8 1450.9 1145.2 1436.4 1145.2zM390.4 1145.2 390.4 1145.2 390.4 1145.2 390.4 1145.2zM1305.7 1145.2 1320.2 1158.8 1334.7 1145.2 1320.2 1131.7zM1058.7 1131.7 1058.7 1131.7 1058.7 1131.7 1058.7 1131.7zM1189.4 1131.7 1189.4 1131.7 1189.4 1131.7 1189.4 1131.7zM1378.3 1131.7 1392.8 1145.2 1407.4 1131.7 1392.8 1118.2zM1044.2 1118.2 1044.2 1118.2 1044.2 1118.2 1044.2 1118.2zM1073.2 1118.2 1073.2 1118.2 1073.2 1118.2 1087.7 1118.2 1087.7 1118.2 1087.7 1118.2zM1218.5 1118.2 1218.5 1118.2 1204 1104.7 1189.4 1104.7 1189.4 1104.7 1189.4 1104.7 1204 1104.7 1218.5 1091.1 1218.5 1091.1 1233 1091.1 1233 1091.1 1233 1091.1 1218.5 1104.7 1218.5 1118.2zM1247.5 1118.2 1247.5 1118.2 1247.5 1104.7 1247.5 1104.7 1247.5 1104.7 1247.5 1118.2zM1407.4 1118.2 1421.9 1131.7 1436.4 1118.2 1421.9 1104.7zM390.4 1104.7 390.4 1104.7 375.9 1091.1 375.9 1091.1 375.9 1091.1 390.4 1077.6 390.4 1064.1 390.4 1064.1 404.9 1064.1 404.9 1064.1 404.9 1064.1 390.4 1077.6 390.4 1091.1 390.4 1104.7zM1320.2 1104.7 1334.7 1118.2 1349.2 1104.7 1334.7 1091.1zM1363.8 1104.7 1378.3 1118.2 1392.8 1118.2 1407.4 1104.7 1392.8 1091.1 1392.8 1091.1 1378.3 1077.6 1363.8 1091.1zM1116.8 1091.1 1116.8 1091.1 1116.8 1091.1 1131.3 1091.1 1131.3 1091.1 1131.3 1091.1zM506.6 1077.6 506.6 1077.6 506.6 1077.6 506.6 1077.6zM1305.7 1077.6 1320.2 1091.1 1334.7 1077.6 1320.2 1064.1zM361.3 1077.6 361.3 1077.6zM448.5 1064.1 448.5 1064.1 448.5 1064.1 448.5 1064.1zM695.5 1064.1 695.5 1064.1 695.5 1064.1 695.5 1064.1zM986 1064.1 986 1064.1 986 1064.1 1000.6 1064.1 1000.6 1064.1 1000.6 1064.1zM1116.8 1064.1 1116.8 1064.1 1116.8 1064.1 1116.8 1064.1zM1204 1064.1 1204 1064.1 1204 1064.1 1204 1064.1zM434 1050.5 434 1050.5 434 1050.5 434 1050.5zM492.1 1050.5 492.1 1050.5 492.1 1050.5 492.1 1050.5zM579.3 1050.5 579.3 1050.5 579.3 1050.5 579.3 1050.5zM739.1 1050.5 739.1 1050.5 739.1 1050.5 739.1 1050.5zM1015.1 1050.5 1015.1 1050.5 1015.1 1050.5 1015.1 1050.5zM1044.2 1050.5 1044.2 1050.5 1044.2 1050.5 1044.2 1050.5zM1160.4 1050.5 1160.4 1050.5 1145.9 1037 1131.3 1037 1116.8 1037 1102.3 1037 1102.3 1037 1102.3 1037 1116.8 1037 1131.3 1037 1145.9 1023.5 1145.9 1023.5 1145.9 1023.5 1160.4 1037 1160.4 1037 1160.4 1050.5zM1334.7 1050.5 1349.2 1064.1 1363.8 1050.5 1349.2 1037zM390.4 1037 390.4 1037 375.9 1023.5 375.9 1023.5 375.9 1023.5 390.4 1023.5 390.4 1023.5 390.4 1037zM506.6 1037 506.6 1037 506.6 1023.5 506.6 1010 506.6 1010 506.6 1010 506.6 1023.5 521.1 1037 521.1 1037 521.1 1037zM768.1 1037 768.1 1037 768.1 1023.5 768.1 1010 768.1 996.4 768.1 996.4 768.1 996.4 782.7 1010 782.7 1010 782.7 1010 768.1 1023.5 768.1 1037zM942.5 1037 942.5 1037 942.5 1037 942.5 1037zM1000.6 1037 1000.6 1037 1000.6 1037 1000.6 1037zM1073.2 1037 1073.2 1037 1073.2 1023.5 1073.2 1023.5 1087.7 1023.5 1087.7 1023.5 1087.7 1023.5 1073.2 1037zM1189.4 1037 1189.4 1037 1189.4 1037 1204 1037 1204 1037 1204 1037zM1233 1037 1247.5 1050.5 1262.1 1037 1247.5 1023.5zM477.6 1023.5 477.6 1023.5 477.6 1023.5 477.6 1023.5zM550.2 1023.5 550.2 1023.5 550.2 1010 550.2 1010 550.2 1010 550.2 1023.5zM898.9 1023.5 898.9 1023.5 898.9 1010 898.9 1010 898.9 1010 898.9 1023.5zM971.5 1023.5 971.5 1023.5 971.5 1023.5 971.5 1023.5zM1029.6 1023.5 1029.6 1023.5 1029.6 1023.5 1029.6 1023.5zM695.5 1010 695.5 1010 695.5 996.4 695.5 982.9 695.5 982.9 695.5 982.9 695.5 996.4 695.5 1010zM739.1 1010 739.1 1010 739.1 1010 739.1 1010zM826.2 1010 826.2 1010 826.2 1010 826.2 1010zM1131.3 1010 1131.3 1010 1131.3 996.4 1131.3 996.4 1145.9 996.4 1160.4 982.9 1160.4 982.9 1160.4 982.9 1160.4 996.4 1160.4 996.4 1145.9 996.4 1131.3 1010zM1174.9 1010 1174.9 1010 1174.9 1010 1174.9 1010zM477.6 996.4 477.6 996.4 477.6 996.4 477.6 996.4zM797.2 996.4 797.2 996.4 797.2 996.4 797.2 996.4zM840.8 996.4 840.8 996.4 840.8 982.9 840.8 969.4 840.8 969.4 840.8 969.4 855.3 982.9 855.3 982.9 855.3 982.9 840.8 996.4zM927.9 996.4 927.9 996.4 927.9 982.9 927.9 982.9 927.9 982.9 927.9 996.4zM1087.7 996.4 1087.7 996.4 1087.7 996.4 1087.7 996.4zM1334.7 996.4 1349.2 1010 1363.8 996.4 1349.2 982.9zM579.3 982.9 579.3 982.9 579.3 969.4 579.3 969.4 593.8 969.4 593.8 969.4 593.8 982.9 593.8 982.9zM884.3 982.9 884.3 982.9 884.3 982.9 884.3 982.9zM1073.2 982.9 1073.2 982.9 1073.2 982.9 1073.2 982.9zM1116.8 982.9 1116.8 982.9 1116.8 982.9 1116.8 982.9zM521.1 969.4 521.1 969.4 521.1 969.4 521.1 969.4zM637.4 969.4 637.4 969.4 637.4 969.4 637.4 969.4zM710 969.4 710 969.4 710 969.4 724.5 969.4 724.5 969.4 724.5 969.4zM869.8 969.4 869.8 969.4 869.8 969.4 869.8 969.4zM1029.6 969.4 1029.6 969.4 1029.6 955.8 1029.6 942.3 1029.6 942.3 1044.2 942.3 1044.2 942.3 1044.2 955.8 1044.2 955.8 1029.6 969.4zM1058.7 969.4 1058.7 969.4 1058.7 969.4 1058.7 969.4zM1174.9 969.4 1174.9 969.4 1174.9 969.4 1174.9 969.4zM1262.1 969.4 1276.6 982.9 1291.1 969.4 1276.6 955.8zM564.7 955.8 564.7 955.8 564.7 955.8 564.7 955.8zM608.3 955.8 608.3 955.8 608.3 955.8 608.3 955.8zM666.4 955.8 666.4 955.8 666.4 955.8 666.4 955.8zM826.2 955.8 826.2 955.8 826.2 955.8 826.2 955.8zM957 955.8 957 955.8 957 955.8 957 955.8zM1116.8 955.8 1116.8 955.8 1116.8 955.8 1116.8 955.8zM375.9 942.3 390.4 955.8 404.9 942.3 390.4 928.8zM535.7 942.3 535.7 942.3 535.7 942.3 550.2 942.3 550.2 942.3 550.2 942.3zM753.6 942.3 753.6 942.3 753.6 942.3 753.6 942.3zM884.3 942.3 884.3 942.3 884.3 942.3 884.3 942.3zM971.5 942.3 971.5 942.3 971.5 942.3 971.5 942.3zM1000.6 942.3 1000.6 942.3 1000.6 942.3 1000.6 942.3zM1174.9 942.3 1174.9 942.3 1174.9 942.3 1174.9 942.3zM927.9 928.8 927.9 928.8 927.9 915.2 927.9 901.7 927.9 888.2 927.9 888.2 927.9 888.2 927.9 901.7 927.9 915.2 927.9 928.8zM1073.2 928.8 1073.2 928.8 1073.2 928.8 1073.2 928.8zM564.7 901.7 579.3 915.2 593.8 901.7 579.3 888.2 579.3 888.2 564.7 874.7 550.2 888.2 564.7 901.7zM1262.1 901.7 1276.6 915.2 1291.1 901.7 1276.6 888.2zM797.2 888.2 811.7 901.7 826.2 888.2 826.2 874.7 811.7 861.1 797.2 874.7zM1262.1 820.5 1276.6 834.1 1291.1 820.5"/>
<path stroke="#2a2a2a" d="M547.8 1835.3 550.2 1838.7 564.7 1838.7 568.4 1835.3 564.7 1833 552.6 1821.8 550.2 1815 547.3 1821.8zM651.9 1835.3 666.4 1842 681 1843.4 686.4 1835.3 695.5 1829.1 707.9 1821.8 695.5 1808.2 681 1821.8 681 1821.8 666.4 1829.9zM604.2 1821.8 608.3 1825.6 622.8 1835.3 628.7 1821.8 637.4 1808.2 637.4 1808.2 640.3 1794.7 651.9 1789.3 666.4 1787.9 681 1792 690.6 1781.2 695.5 1779.1 705.2 1781.2 710 1783.9 724.5 1791.3 728.2 1794.7 724.5 1799.2 717.3 1808.2 724.5 1815 739.1 1810.2 743.9 1808.2 753.6 1802.8 764.5 1794.7 760.9 1781.2 753.6 1774.4 750.7 1781.2 739.1 1788.9 730.8 1781.2 724.5 1773 717.3 1767.6 724.5 1765.2 739.1 1760.9 753.6 1765.7 760.9 1767.6 768.1 1774.4 773 1781.2 782.7 1794.7 782.7 1794.7 797.2 1803.7 800.8 1794.7 797.2 1789.3 788.5 1781.2 797.2 1773 811.7 1775.7 819 1767.6 813.8 1754.1 811.7 1751.8 799.6 1740.6 811.7 1730.9 823.8 1740.6 826.2 1742.5 840.8 1744 855.3 1740.6 840.8 1736.1 833.5 1727 826.2 1718 823.3 1713.5 820 1700 826.2 1697.1 833.5 1700 833.5 1713.5 840.8 1718 855.3 1715.8 869.8 1715 874.7 1713.5 884.3 1704.5 898.9 1702.2 903.7 1700 898.9 1695.5 889.2 1686.5 884.3 1684.2 874 1672.9 884.3 1665.4 892.6 1659.4 898.9 1652.6 906.1 1659.4 898.9 1666.2 893.4 1672.9 898.9 1681 913.4 1672.9 913.4 1672.9 920.7 1659.4 920.7 1645.9 913.4 1641.3 903.7 1632.3 913.4 1628.9 923.1 1632.3 927.9 1639.1 930.8 1645.9 942.5 1652.6 954.1 1645.9 942.5 1632.3 942.5 1632.3 935.9 1618.8 942.5 1611.3 954.1 1605.3 942.5 1596.2 935.2 1591.7 942.5 1582.7 957 1587.2 965.3 1578.2 965.7 1564.7 971.5 1557.9 977.3 1551.2 980.2 1537.6 971.5 1524.1 971.5 1524.1 968.6 1510.6 968.6 1497 971.5 1494.8 986 1490.3 989.7 1497 988.9 1510.6 989.7 1524.1 1000.6 1529.9 1010.3 1537.6 1000.6 1548.4 996.9 1551.2 1000.6 1554.5 1015.1 1564.7 1015.1 1564.7 1029.6 1568.1 1031.4 1564.7 1029.6 1560.2 1026 1551.2 1024.8 1537.6 1029.6 1530.9 1034.5 1524.1 1029.6 1510.6 1029.6 1510.6 1024.8 1497 1029.6 1490.3 1034.5 1483.5 1033.3 1470 1036.9 1456.4 1029.6 1450.6 1015.1 1448.7 1006.4 1442.9 1015.1 1429.4 1000.6 1422.6 994.8 1415.8 1000.6 1410.4 1015.1 1411.3 1029.6 1411.3 1036.9 1402.3 1029.6 1396.9 1018.7 1388.8 1029.6 1375.3 1029.6 1375.3 1044.2 1361.7 1029.6 1351.6 1024.8 1348.2 1029.6 1341.4 1033.3 1334.7 1029.6 1332 1022.4 1321.1 1029.6 1312.1 1033.8 1307.6 1034.5 1294.1 1029.6 1291.4 1026.7 1294.1 1015.1 1304.9 1000.6 1307.6 1007.8 1321.1 1010.3 1334.7 1000.6 1348.2 1000.6 1348.2 986 1348.2 986 1348.2 980.2 1334.7 986 1329.3 992.3 1321.1 986 1311 971.5 1310.3 957 1312.1 948.3 1307.6 957 1302.5 971.5 1294.1 971.5 1294.1 986 1286.6 991.9 1280.6 986 1275.6 973.3 1267 986 1256.5 995.7 1253.5 986 1249.6 971.5 1249 957 1253.5 957 1267 958.8 1280.6 957 1282.8 954.1 1280.6 957 1267 957 1253.5 957 1253.5 961.8 1240 967.4 1226.4 957 1212.9 957 1212.9 942.5 1203.2 936.6 1199.4 942.5 1190.4 944.5 1185.8 947.3 1172.3 942.5 1167.8 938.8 1172.3 927.9 1182.5 913.4 1181.3 908.6 1185.8 913.4 1187.8 923.1 1199.4 917 1212.9 927.9 1223 942.5 1226.4 942.5 1226.4 953.4 1240 942.5 1242.7 930.8 1253.5 927.9 1258.6 922.5 1253.5 913.4 1246.7 904.3 1240 912.4 1226.4 908.6 1212.9 905.5 1199.4 898.9 1189.7 894 1185.8 893.1 1172.3 884.3 1166.5 879.9 1158.8 878.9 1145.2 869.8 1134 855.3 1133.7 853.2 1131.7 840.8 1118.2 829.9 1131.7 840.8 1141.9 844.4 1145.2 855.3 1158.8 855.3 1158.8 869.8 1171 873.5 1172.3 876 1185.8 869.8 1190.4 863.6 1185.8 855.3 1175 850.4 1172.3 840.8 1158.8 826.2 1166.9 819 1158.8 826.2 1145.2 820.4 1131.7 826.2 1118.2 811.7 1109.2 802 1118.2 806.3 1131.7 799.6 1145.2 797.2 1152 793.5 1145.2 782.7 1135.1 768.1 1138.5 763.3 1131.7 753.6 1127.2 743.9 1131.7 739.1 1145.2 739.1 1145.2 739.1 1145.2 731.8 1131.7 724.5 1125 720.9 1131.7 710 1139.8 695.5 1131.7 688.2 1145.2 681 1151.3 671.3 1145.2 669.3 1131.7 668.5 1118.2 666.4 1111.4 651.9 1104.7 646.1 1118.2 651.9 1123.6 662.8 1131.7 651.9 1138.5 637.4 1136.2 622.8 1139.5 611.9 1145.2 608.3 1149.8 606.5 1145.2 608.3 1138.5 611.2 1131.7 608.3 1128.3 601.1 1131.7 593.8 1133.4 581.1 1145.2 593.8 1153.1 604.2 1158.8 593.8 1164.9 579.3 1172.3 579.3 1172.3 564.7 1181.3 555 1185.8 550.2 1190.4 535.7 1199.4 542.9 1212.9 535.7 1214.6 532.8 1212.9 535.7 1199.4 521.1 1189.2 516.3 1185.8 506.6 1176.8 503 1172.3 492.1 1165.5 477.6 1161.5 474.7 1158.8 463 1151 456.6 1158.8 463 1172.3 463 1172.3 467.9 1185.8 477.6 1199.4 484.8 1185.8 492.1 1180.4 499.4 1185.8 499.4 1199.4 492.1 1204.3 479.4 1212.9 477.6 1217.4 463 1212.9 463 1212.9 448.5 1207.5 443.7 1212.9 434 1221.9 426.7 1226.4 434 1230.9 445.6 1240 434 1253.5 436.4 1267 434 1271.5 419.5 1272.4 410.7 1280.6 419.5 1294.1 419.5 1294.1 419.5 1294.1 412.2 1307.6 419.5 1311 434 1313.4 445.6 1321.1 434 1328.9 419.5 1334.7 419.5 1334.7 411.4 1348.2 419.5 1361.7 419.5 1361.7 421.9 1375.3 419.5 1380.7 413.2 1388.8 404.9 1402.3 419.5 1415.8 419.5 1415.8 424.3 1429.4 422.4 1442.9 428.2 1456.4 419.5 1466.6 412.2 1456.4 404.9 1449.7 400.6 1456.4 404.9 1470 404.9 1470 404.9 1470 399.1 1483.5 404.9 1492.5 408.6 1497 404.9 1500.4 397.7 1510.6 404.9 1520.7 419.5 1518.3 425.7 1524.1 419.5 1534.2 414.6 1537.6 404.9 1541.5 397.7 1551.2 404.9 1557.9 419.5 1564.7 419.5 1564.7 419.5 1564.7 416.5 1578.2 419.5 1582.7 422.1 1591.7 426.7 1605.3 434 1618.8 440.2 1605.3 448.5 1599.9 460.1 1605.3 448.5 1616.1 434 1618.8 436.1 1632.3 448.5 1643.9 453.4 1645.9 463 1659.4 477.6 1657.5 480 1659.4 477.6 1672.9 477.6 1672.9 477.6 1672.9 463 1659.4 448.5 1666.2 434 1666.2 430.3 1672.9 430.8 1686.5 434 1691.9 444.9 1700 448.5 1706.7 463 1709 477.6 1706.7 483.4 1713.5 477.6 1718 467.9 1727 477.6 1733.8 487.2 1727 492.1 1721.6 499.4 1727 499.4 1740.6 501.8 1754.1 506.6 1756.8 513.9 1754.1 521.1 1740.6 516.3 1727 521.1 1725.7 523.2 1727 521.1 1740.6 535.7 1745.1 550.2 1749.6 557.5 1754.1 550.2 1763.1 546.6 1767.6 550.2 1772.1 564.7 1770.3 579.3 1773 588.9 1767.6 588.9 1754.1 593.8 1751.8 595.6 1754.1 597.4 1767.6 608.3 1781.2 622.8 1779.2 630.1 1781.2 632.5 1794.7 622.8 1801.5 608.3 1808.2 608.3 1808.2zM648.3 1821.8 651.9 1835.3 655.5 1821.8 666.4 1808.2 651.9 1803.7 637.4 1808.2zM751.5 1821.8 753.6 1825.1 768.1 1824 773 1821.8 768.1 1818.4 753.6 1817.2zM490.3 1808.2 492.1 1810.2 496.9 1808.2 492.1 1803.7zM586.5 1808.2 593.8 1812.1 608.3 1808.2 593.8 1794.7 593.8 1794.7 579.3 1789.3 572 1794.7 579.3 1801.5zM512.1 1781.2 521.1 1794.7 530.2 1781.2 524.8 1767.6 521.1 1760.9 518.2 1767.6zM768.1 1754.1 768.1 1754.1 768.1 1754.1 768.1 1754.1zM866.9 1754.1 869.8 1756.8 872.2 1754.1 869.8 1750.7zM564.7 1747.3 559.9 1740.6 564.7 1727 564.7 1727 564.7 1727 568.4 1740.6zM782.7 1740.6 782.7 1740.6 782.7 1740.6 782.7 1740.6zM954.6 1740.6 957 1742.5 959.1 1740.6 957 1737.9zM608.3 1727 608.3 1727 608.3 1727 608.3 1727zM550.2 1700 550.2 1700 550.2 1700 550.2 1700zM855.3 1700 855.3 1700 845.6 1686.5 855.3 1681 860.1 1686.5 855.3 1700zM968.6 1700 971.5 1701.9 986 1703.4 987.9 1700 986 1697.3 971.5 1696.6zM521.1 1693.2 513.9 1686.5 521.1 1683.1 523.6 1686.5zM826.2 1676.5 822.6 1672.9 826.2 1669.3 835.9 1672.9zM954.1 1659.4 957 1666.2 959.4 1659.4 957 1652.6zM869.8 1652.6 864 1645.9 869.8 1640.4 876 1632.3 884.3 1625.6 896 1618.8 898.9 1614.3 901 1618.8 898.9 1625.6 896 1632.3 884.3 1643.2 879.5 1645.9zM477.6 1632.3 477.6 1632.3 473.9 1618.8 477.6 1612 478.7 1618.8 492.1 1632.3 492.1 1632.3 492.1 1632.3zM840.8 1635 835.9 1632.3 840.8 1629.6 855.3 1632.3 855.3 1632.3 855.3 1632.3zM964.3 1632.3 971.5 1641.4 976.4 1632.3 971.5 1626.9zM826.2 1618.8 826.2 1618.8 826.2 1618.8 826.2 1618.8zM869.8 1607 866.2 1605.3 869.8 1591.7 869.8 1591.7 869.8 1591.7 877.1 1605.3zM913.4 1610.7 903.7 1605.3 911.6 1591.7 912 1578.2 913.4 1575.5 918.2 1578.2 918.2 1591.7 927.9 1598.5 932.8 1605.3 927.9 1608.7zM959.4 1605.3 971.5 1613.7 979.6 1605.3 971.5 1594zM463 1598.5 461 1591.7 463 1589 465.5 1591.7zM506.6 1591.7 506.6 1591.7 506.6 1591.7 506.6 1591.7zM982.4 1578.2 986 1580.5 1000.6 1578.2 986 1564.7zM1035.9 1578.2 1044.2 1585 1052.5 1578.2 1044.2 1573.3zM840.8 1565.9 839.6 1564.7 840.8 1562.4 843.7 1564.7zM898.9 1564.7 898.9 1564.7 898.9 1564.7 898.9 1564.7zM927.9 1541.5 923.8 1537.6 927.9 1535.7 935.2 1537.6zM1063.5 1510.6 1073.2 1515.1 1078.1 1510.6 1073.2 1505.1zM1099.4 1510.6 1102.3 1513.3 1105.9 1510.6 1102.3 1507.2zM1000.6 1488.9 990.9 1483.5 996.9 1470 986 1461.9 971.5 1456.4 971.5 1456.4 961.8 1442.9 971.5 1438.4 986 1440.2 990.9 1442.9 1000.6 1451.9 1003.5 1456.4 1005.4 1470 1010.3 1483.5zM1049 1483.5 1058.7 1490.3 1065.1 1483.5 1058.7 1470zM1115 1470 1116.8 1471.7 1119.7 1470 1116.8 1466.6zM1051.4 1442.9 1058.7 1447.4 1073.2 1446.3 1075 1442.9 1073.2 1439.5 1058.7 1439.5zM385.6 1429.4 390.4 1433.9 394.5 1429.4 390.4 1420.4zM1015.1 1429.4 1029.6 1435.2 1035.9 1429.4 1029.6 1419.2zM1081.9 1415.8 1087.7 1423.6 1095 1415.8 1087.7 1409.1zM957 1402.3 957 1402.3 957 1402.3 957 1402.3zM971.5 1391.2 965.7 1388.8 971.5 1383.4 978.8 1375.3 986 1370.2 1000.6 1367.1 1005.4 1375.3 1000.6 1388.8 1000.6 1388.8 1000.6 1388.8 986 1385.4 981.2 1388.8zM463 1361.7 463 1361.7 463 1361.7 463 1361.7zM971.5 1368.5 962.8 1361.7 971.5 1355.9 977 1361.7zM1015.1 1361.7 1015.1 1361.7 1015.1 1361.7 1015.1 1361.7zM1044.2 1348.2 1058.7 1356.3 1073.2 1348.2 1058.7 1343.7zM942.5 1338.1 935.2 1334.7 940.8 1321.1 942.5 1316.6 944.5 1321.1 957 1334.7 957 1334.7 957 1334.7zM1115.2 1334.7 1116.8 1339.2 1118.9 1334.7 1116.8 1332.7zM400.1 1321.1 404.9 1326.6 410.7 1321.1 404.9 1312.1zM387.2 1307.6 390.4 1312.1 400.1 1307.6 390.4 1302.2zM463 1309.3 459.4 1307.6 463 1305.4 465.1 1307.6zM448.5 1291.4 438.8 1280.6 448.5 1274.5 463 1273.8 468.2 1280.6 463 1287.3zM913.4 1285.1 909.8 1280.6 913.4 1277.2 917 1280.6zM400.1 1267 404.9 1271.5 409.8 1267 404.9 1263.2zM492.1 1267 492.1 1267 492.1 1267 492.1 1267zM1010.3 1267 1015.1 1280.6 1019.9 1267 1022.4 1253.5 1015.1 1246.7 1005.4 1253.5zM414 1253.5 419.5 1259.3 434 1253.5 419.5 1245.4zM884.3 1253.5 884.3 1253.5 884.3 1253.5 884.3 1253.5zM1112 1253.5 1116.8 1256.9 1121.6 1253.5 1116.8 1248.1zM797.2 1242.4 792.3 1240 797.2 1226.4 797.2 1226.4 797.2 1226.4 800.1 1240zM840.8 1240 840.8 1240 840.8 1240 840.8 1240zM1024.8 1240 1029.6 1244.5 1032 1240 1029.6 1235.5zM869.8 1230.9 867.4 1226.4 869.8 1221.9 872.7 1226.4zM884.3 1219.7 874.7 1212.9 884.3 1207.5 891.6 1212.9zM426.7 1199.4 434 1202.1 437.6 1199.4 434 1197.4zM564.7 1204.8 557.5 1199.4 564.7 1192.6 579.3 1189.2 593.8 1196 594.7 1199.4 593.8 1200.7 579.3 1205.2zM666.4 1199.4 666.4 1199.4 666.4 1199.4 681 1191.3 695.5 1199.4 695.5 1199.4 695.5 1199.4 681 1207.5zM739.1 1199.4 739.1 1199.4 739.1 1199.4 739.1 1199.4zM840.8 1201.6 839.3 1199.4 840.8 1196 844.4 1199.4zM608.3 1187.4 602.5 1185.8 608.3 1176.8 611.9 1185.8zM651.9 1185.8 651.9 1185.8 651.9 1185.8 651.9 1185.8zM768.1 1185.8 768.1 1185.8 768.1 1185.8 782.7 1183.1 789.9 1185.8 782.7 1188.1zM622.8 1174.2 615.6 1172.3 622.8 1167.8 630.1 1172.3zM1055.8 1172.3 1058.7 1174.6 1061.1 1172.3 1058.7 1170.6zM503 1158.8 506.6 1165.5 521.1 1165.5 535.7 1172.3 546.6 1158.8 535.7 1145.2 521.1 1155.4 506.6 1154.3zM651.9 1158.8 651.9 1158.8 651.9 1158.8 666.4 1152 670.6 1158.8 666.4 1163.3zM710 1163.7 705.2 1158.8 710 1149.8 721.6 1158.8zM952.1 1158.8 957 1163.3 959.1 1158.8 957 1154.3zM559.9 1145.2 564.7 1149.8 572 1145.2 564.7 1131.7zM908.6 1131.7 913.4 1135.1 918.2 1131.7 913.4 1129zM521.1 1118.2 535.7 1122.7 537.8 1118.2 535.7 1104.7zM587.6 1118.2 593.8 1128.3 601.1 1118.2 596.7 1104.7 593.8 1101.3 592 1104.7zM614.5 1118.2 622.8 1125 631.1 1118.2 622.8 1107.4zM773 1118.2 782.7 1130.2 795.6 1118.2 782.7 1108.4zM861.1 1118.2 869.8 1126.3 884.3 1118.2 869.8 1111.4zM884.3 1118.2 898.9 1125 903.7 1118.2 898.9 1104.7zM938.8 1118.2 942.5 1121.6 944.3 1118.2 942.5 1114.8zM850.4 1104.7 855.3 1109.2 858.9 1104.7 855.3 1100.2zM633.7 1091.1 637.4 1094.5 644.6 1091.1 637.4 1077.6zM816.6 1091.1 826.2 1104.7 831.1 1091.1 826.2 1088.1zM835.5 1077.6 840.8 1084.4 850.4 1077.6 840.8 1071.6z"/>
<path stroke="#555555" d="M684.6 1767.6 695.5 1770.8 700.3 1767.6 695.5 1760.9zM717.3 1754.1 724.5 1755.3 726.4 1754.1 724.5 1740.6zM648.3 1727 651.9 1731.5 656.7 1727 666.4 1716.2 681 1722.5 686.2 1713.5 681 1700 666.4 1706.7 651.9 1708.4 641 1713.5zM775.4 1727 782.7 1732.8 790.6 1727 782.7 1718.9 776.8 1713.5 768.1 1704.5 757.2 1713.5 768.1 1720.3zM517.5 1713.5 521.1 1714.9 524.8 1713.5 521.1 1711.8zM704 1713.5 710 1722 718.1 1713.5 710 1700zM730.4 1713.5 739.1 1720.3 750 1713.5 748.1 1700 746.3 1686.5 739.1 1676.8 724.5 1672.9 724.5 1672.9 724.5 1672.9 739.1 1668.4 748.8 1672.9 753.6 1675.2 768.1 1681.9 771.4 1672.9 782.7 1664.3 797.2 1666.2 805.3 1672.9 811.7 1680.7 815.3 1672.9 826.2 1662.1 831.1 1659.4 840.8 1645.9 826.2 1643.2 823.8 1645.9 811.7 1654.3 799.6 1645.9 797.2 1642.5 792.3 1632.3 791 1618.8 797.2 1615.7 805.9 1618.8 808.1 1632.3 811.7 1634.6 814.6 1632.3 814.6 1618.8 811.7 1613.4 808.4 1605.3 811.7 1602.1 826.2 1599.9 837.1 1591.7 840.8 1587.2 845.6 1591.7 855.3 1595.6 858.2 1591.7 869.8 1580.9 874.7 1578.2 874.7 1564.7 884.3 1562 898.9 1554.8 904.3 1551.2 898.9 1545.4 889.2 1537.6 884.3 1533.8 880.7 1537.6 872.7 1551.2 869.8 1560.2 866.9 1564.7 855.3 1571.4 840.8 1575.8 833.5 1578.2 826.2 1583.6 816.6 1578.2 826.2 1573.7 830.7 1564.7 826.2 1551.2 826.2 1551.2 826.2 1551.2 840.8 1548.3 855.3 1549.5 863.1 1537.6 869.8 1530.2 877.1 1524.1 884.3 1518.5 896.5 1524.1 898.9 1526.8 913.4 1524.1 898.9 1519.6 895.6 1510.6 884.3 1501.1 880.7 1497 884.3 1488.9 891.6 1483.5 898.9 1478.1 903.7 1470 898.9 1459.8 884.3 1464.6 881.4 1456.4 884.3 1442.9 884.3 1442.9 888.5 1429.4 898.9 1415.8 898.9 1415.8 898.9 1415.8 911 1429.4 913.4 1431.6 927.9 1439 942.5 1433.9 945.4 1429.4 957 1415.8 942.5 1412.5 935.2 1415.8 927.9 1418.1 925.5 1415.8 922.1 1402.3 922.1 1388.8 920.7 1375.3 913.4 1368.5 911 1375.3 900.3 1388.8 898.9 1390.1 896.5 1388.8 884.3 1380.3 878.1 1375.3 884.3 1369.5 896 1361.7 898.9 1357.2 906.1 1348.2 904.2 1334.7 898.9 1327.9 884.3 1334.7 884.3 1334.7 884.3 1334.7 884.3 1321.1 884.3 1321.1 888 1307.6 884.3 1304.6 869.8 1298.6 867.7 1294.1 869.8 1292.1 884.3 1280.6 884.3 1280.6 894 1267 884.3 1262.5 878.5 1267 869.8 1273.8 857.4 1267 855.3 1265.1 845.6 1253.5 840.8 1249.8 826.2 1253.5 826.2 1253.5 826.2 1253.5 811.7 1240 797.2 1252.3 782.7 1247.7 778.3 1253.5 768.1 1263 753.6 1261 745.3 1267 739.1 1271.1 734.2 1267 739.1 1258.9 743.2 1253.5 739.1 1246.7 724.5 1253.5 724.5 1253.5 710 1259.3 699.1 1253.5 695.5 1240 695.5 1240 681 1236.6 671.3 1240 666.4 1253.5 666.4 1253.5 651.9 1258.9 642.2 1253.5 637.4 1243.3 628.7 1253.5 622.8 1258 619.6 1253.5 608.3 1244.9 599.8 1253.5 608.3 1265.3 611.2 1267 608.3 1271.5 593.8 1269.7 579.3 1276 570.5 1267 564.7 1259.3 560.4 1253.5 559.9 1240 550.2 1236.6 546.1 1240 535.7 1246.7 526.6 1253.5 521.1 1261.6 516.3 1267 514.5 1280.6 506.6 1284.6 495.3 1294.1 492.1 1300.8 482.4 1307.6 492.1 1313 500.8 1321.1 492.1 1330.2 477.6 1334.7 477.6 1334.7 472.7 1348.2 477.6 1352.1 483.4 1348.2 492.1 1341.4 494.8 1348.2 499.4 1361.7 495.4 1375.3 492.1 1382.8 481.7 1375.3 477.6 1371.4 472.7 1375.3 463 1380.7 448.5 1384.3 443.7 1388.8 448.5 1392.7 463 1402.3 477.6 1397.2 484.8 1402.3 477.6 1407.4 463 1402.3 448.5 1415.8 448.5 1415.8 441.9 1429.4 445.6 1442.9 448.5 1447.4 453.4 1442.9 463 1436.1 468.8 1442.9 474.7 1456.4 466.7 1470 463 1472.2 448.5 1475.8 440.2 1483.5 438.8 1497 441.2 1510.6 442.3 1524.1 444.9 1537.6 448.5 1542.1 463 1547.1 470.3 1551.2 463 1557.9 452.1 1564.7 463 1570.5 477.6 1573.7 482.4 1578.2 484.8 1591.7 492.1 1601.9 496.1 1591.7 506.6 1580.9 521.1 1588.4 532 1591.7 535.7 1596.2 550.2 1605.3 550.2 1605.3 550.2 1605.3 542.9 1618.8 550.2 1620.7 564.7 1623.3 579.3 1625.6 581 1632.3 579.3 1639.1 564.7 1641.3 550.2 1640.4 535.7 1635.7 521.1 1640.4 514.9 1632.3 509 1618.8 506.6 1616.5 492.1 1608 487.6 1618.8 492.1 1623.3 501.8 1632.3 506.6 1641.4 513.9 1645.9 521.1 1651.3 535.7 1650.9 550.2 1654.9 556 1659.4 564.7 1666.2 572 1672.9 579.3 1677.4 591.7 1686.5 593.8 1691 599.6 1700 608.3 1706.7 617 1700 622.8 1693.2 637.4 1695.5 651.9 1686.5 651.9 1686.5 651.9 1686.5 666.4 1693.2 681 1700 695.5 1691 710 1700 724.5 1695.5 727 1700zM499.4 1700 506.6 1705.4 509.8 1700 506.6 1697zM563.1 1700 564.7 1702.7 579.3 1700 566.8 1686.5 564.7 1683.1 562.3 1686.4zM779 1700 782.7 1702.7 797.2 1700 782.7 1693.2zM819 1686.5 826.2 1689.3 830.6 1686.5 826.2 1683.7zM542.9 1672.9 550.2 1675.2 553.8 1672.9 550.2 1668.4zM622.8 1677.4 615.6 1672.9 622.8 1671.2 625.7 1672.9zM681 1672.9 681 1672.9 681 1672.9 681 1672.9zM500.8 1659.4 506.6 1663.3 512.4 1659.4 506.6 1652.6zM593.8 1665.2 589.4 1659.4 588.9 1645.9 593.8 1645 595.6 1645.9 597.8 1659.4zM666.4 1670.7 660.4 1659.4 666.4 1650.9 673.7 1659.4zM695.5 1665.2 690 1659.4 691.3 1645.9 695.5 1642.9 701.3 1645.9 701.7 1659.4zM753.6 1659.4 753.6 1659.4 753.6 1659.4 753.6 1659.4zM739.1 1652.6 733.3 1645.9 739.1 1643 748.8 1645.9zM724.5 1632.3 724.5 1632.3 724.5 1632.3 724.5 1632.3zM622.8 1624.2 617 1618.8 622.8 1616 625.3 1618.8zM681 1622.9 677 1618.8 681 1615.4 685.8 1618.8zM739.1 1621.6 735.4 1618.8 739.1 1615.4 743.5 1618.8zM768.1 1620.7 766.7 1618.8 768.1 1616.5 771 1618.8zM515.7 1605.3 521.1 1610.3 529.9 1605.3 521.1 1598.5zM432.7 1591.7 434 1594 438.8 1591.7 434 1588.4zM622.8 1592.6 621.5 1591.7 622.8 1590.9 624.5 1591.7zM896 1578.2 898.9 1585 900.3 1578.2 898.9 1576.7zM492.1 1568.4 488.1 1564.7 492.1 1551.2 492.1 1551.2 492.1 1551.2 500.8 1564.7zM782.7 1553.4 781.7 1551.2 782.7 1550.5 784.3 1551.1zM797.2 1539.1 796.5 1537.6 797.2 1535.9 799.6 1537.6zM463 1525.8 459.4 1524.1 461 1510.6 463 1509.4 464.1 1510.6 477.6 1524.1 477.6 1524.1 477.6 1524.1zM913.4 1524.1 927.9 1528 942.5 1524.1 927.9 1517.3zM942.5 1524.1 957 1527.5 959.9 1524.1 957 1519.6zM915.5 1497 927.9 1505.1 938.8 1497 942.5 1488 949.7 1483.5 942.5 1481.6 927.9 1479 926.1 1483.5zM477.6 1488 473.4 1483.5 477.6 1478.1 484.8 1470 484.8 1456.4 492.1 1455.7 495.7 1456.4 496.5 1470 494.2 1483.5 492.1 1486.9zM921.5 1456.4 927.9 1465.5 942.5 1458.4 944.5 1456.4 942.5 1451.9 927.9 1447.4zM855.3 1429.4 855.3 1429.4 855.3 1429.4 869.8 1426.7 874.7 1429.4 869.8 1436.1zM521.1 1416.6 519.8 1415.8 521.1 1412.5 521.7 1415.8zM969.9 1402.3 971.5 1404.3 973.6 1402.3 971.5 1401.1zM535.7 1390.5 533.3 1388.8 535.7 1386.5 536.6 1388.8zM431.6 1375.3 434 1379.8 438.8 1375.3 434 1371.9zM797.2 1364.9 791 1361.7 797.2 1355.9 805.9 1361.7zM855.3 1361.7 855.3 1361.7 855.3 1361.7 855.3 1361.7zM535.7 1349.4 534.1 1348.2 529.9 1334.7 526 1321.1 535.7 1317.3 545.4 1321.1 538.9 1334.7 538.1 1348.2zM681 1349.8 679.9 1348.2 681 1346.8 683 1348.2zM826.2 1350.2 820 1348.2 826.2 1344.5 829.6 1348.2zM564.7 1334.7 564.7 1334.7 564.7 1334.7 564.7 1334.7zM651.9 1335.4 651.2 1334.7 651.9 1333.2 654.3 1334.7zM855.3 1340.1 850.4 1334.7 855.3 1329.8 861.7 1334.7zM470.3 1321.1 477.6 1334.7 479.6 1321.1 477.6 1316.6zM593.8 1323.2 589.4 1321.1 593.8 1318 601.1 1321.1zM907.2 1321.1 913.4 1325.2 927.9 1321.1 913.4 1316.6zM753.6 1308.4 751.5 1307.6 753.6 1305.7 756.5 1307.6zM840.8 1310.7 837.1 1307.6 835.9 1294.1 840.8 1291.8 842.8 1294.1 855.3 1302.2 865 1307.6 855.3 1312.5zM521.1 1303.1 519.3 1294.1 521.1 1290.2 524.4 1294.1zM666.4 1299.2 657.7 1294.1 666.4 1289.6 671.9 1294.1zM768.1 1296.8 766 1294.1 768.1 1280.6 768.1 1280.6 768.1 1280.6 769.3 1294.1zM797.2 1295.3 796 1294.1 795.7 1280.6 794 1267 797.2 1258 803 1267 811.7 1271.5 826.2 1271.5 832.7 1280.6 826.2 1289.6 811.7 1286.3 798.8 1294.1zM476.5 1280.6 477.6 1283.9 482.4 1280.6 477.6 1267zM535.7 1284.6 530.2 1280.6 535.7 1273.8 541.1 1280.6zM564.7 1280.6 564.7 1280.6 564.7 1280.6 564.7 1280.6zM724.5 1280.6 724.5 1280.6 724.5 1280.6 724.5 1280.6zM472.3 1253.5 477.6 1267 482.8 1253.5 477.6 1247.5zM896 1253.5 898.9 1260.3 904.7 1253.5 898.9 1249.6zM938.6 1253.5 942.5 1258.4 947.3 1253.5 942.5 1249.9zM487.9 1240 492.1 1243 506.6 1245 511.5 1240 506.6 1235.9 492.1 1237zM572 1240 579.3 1246.7 593.8 1242.2 596.7 1240 593.8 1226.4 579.3 1237.3zM641 1240 651.9 1244.5 662.8 1240 666.4 1237.3 672.2 1226.4 666.4 1215.6 662.8 1212.9 651.9 1204.8 646.5 1212.9 651.9 1221 656.7 1226.4 651.9 1231.8zM693.4 1226.4 695.5 1240 710 1228.4 724.5 1228.7 727 1226.4 724.5 1221.9 710 1219.7 695.5 1221.9zM760.9 1226.4 768.1 1234.5 773.6 1226.4 776.8 1212.9 768.1 1207.1 763.3 1212.9zM819.6 1226.4 826.2 1240 840.8 1226.4 826.2 1219.7zM890.2 1226.4 898.9 1233.8 904.7 1226.4 898.9 1218.3zM590.9 1212.9 593.8 1226.4 601.1 1212.9 593.8 1211.5zM602 1199.4 608.3 1211.2 616.1 1199.4 608.3 1193.8zM631.6 1199.4 637.4 1205.4 647.1 1199.4 639 1185.8 637.4 1184.1 632.5 1185.8zM750.7 1199.4 753.6 1202.8 758.4 1199.4 753.6 1196zM823.3 1199.4 826.2 1201.6 827.7 1199.4 826.2 1196.7zM868.2 1158.8 869.8 1160.1 870.9 1158.8 871.6 1145.2 869.8 1143 862.6 1145.2z"/>
<path stroke="#808080" d="M627.7 1659.4 637.4 1663.9 647.1 1659.4 651.9 1645.9 647.1 1632.3 650.8 1618.8 637.4 1609.2 631.3 1605.3 622.8 1599.4 611.5 1605.3 622.8 1610.3 630.1 1618.8 626.5 1632.3 628.7 1645.9zM721.6 1659.4 724.5 1660.9 727.4 1659.4 724.5 1654.9zM587.8 1632.3 593.8 1638.2 608.3 1643.6 618.7 1632.3 608.3 1622.7 593.8 1623.7zM732.3 1632.3 739.1 1637.3 753.6 1638.5 764 1632.3 755 1618.8 753.6 1614.3 752.5 1618.8 739.1 1627.3zM705.2 1618.8 710 1620.5 724.5 1623.3 728.2 1618.8 739.1 1608.7 748.8 1605.3 747.1 1591.7 739.1 1583.3 731.8 1578.2 739.1 1575.5 753.6 1572.4 759.8 1578.2 756.1 1591.7 768.1 1603.4 771.8 1605.3 782.7 1614.6 797.2 1607.4 799.4 1605.3 797.2 1598.5 792.3 1591.7 797.2 1588.4 803.9 1578.2 811.7 1572.6 822.1 1564.7 811.7 1551.2 802 1564.7 797.2 1570.8 782.7 1567.8 776.4 1564.7 774.5 1551.2 782.7 1545.1 790.6 1537.6 796.3 1524.1 797.2 1522.2 799 1524.1 811.7 1533.6 819 1537.6 826.2 1541.3 840.8 1540.5 851.7 1537.6 840.8 1532.5 826.2 1529.5 823 1524.1 826.2 1510.6 826.2 1510.6 840.8 1510.6 855.3 1503.8 869.8 1499.7 871 1497 876.4 1483.5 869.8 1470 855.3 1476.7 850.9 1470 849.8 1456.4 840.8 1445.2 835.9 1442.9 840.8 1441 847 1429.4 855.3 1415.8 855.3 1402.3 855.3 1402.3 862.6 1388.8 866.2 1375.3 855.3 1367.1 844.7 1361.7 848 1348.2 840.8 1334.7 838.5 1348.2 826.2 1355.6 817.5 1361.7 826.2 1370.4 830.8 1375.3 826.2 1379.8 814.1 1375.3 811.7 1373.3 797.2 1373.2 782.7 1372.6 777.8 1375.3 768.1 1382 765.9 1375.3 765.2 1361.7 768.1 1357.7 780.8 1348.2 782.7 1341.4 785.6 1334.7 782.7 1330.2 775.4 1334.7 768.1 1336.4 767.1 1334.7 763.7 1321.1 753.6 1314.4 739.1 1314.4 724.5 1316.2 717.3 1321.1 710 1334.7 717.3 1348.2 710 1351.6 707.1 1348.2 710 1334.7 695.5 1331.7 681 1322.4 669.8 1334.7 666.4 1336.7 651.9 1341.1 645.7 1334.7 651.9 1321.1 651.9 1321.1 660.2 1307.6 651.9 1302.2 637.4 1298.2 626.5 1307.6 629.6 1321.1 622.8 1330.6 611.9 1334.7 608.3 1341.4 606.9 1334.7 593.8 1328.6 579.3 1323.4 573.7 1334.7 579.3 1344.3 593.8 1343.4 605.9 1348.2 593.8 1356.7 579.3 1352.1 570.2 1361.7 564.7 1368.5 559.3 1361.7 550.2 1353.3 535.7 1359.3 532 1361.7 521.1 1367.5 506.6 1364.2 500.7 1375.3 506.6 1386.3 521.1 1385.1 531.7 1375.3 535.7 1367.1 550.2 1375.3 550.2 1375.3 550.2 1375.3 544.4 1388.8 542.9 1402.3 535.7 1403 526 1415.8 521.1 1422.3 509.3 1415.8 506.6 1410.4 503.4 1415.8 496.5 1429.4 492.1 1432.5 482.4 1442.9 492.1 1450 506.6 1451.2 521.1 1456.4 521.1 1456.4 525.5 1470 524.1 1483.5 535.7 1497 535.7 1497 535.7 1497 521.1 1497 521.1 1497 506.6 1488.9 501.2 1497 506.6 1505.1 509.8 1510.6 521.1 1517.8 527 1524.1 528.4 1537.6 524.5 1551.2 521.1 1556.2 514.5 1564.7 519.1 1578.2 521.1 1579.3 524.8 1578.2 535.7 1570.1 546.6 1578.2 548.4 1591.7 550.2 1593.2 559.9 1605.3 564.7 1610.2 579.3 1612 587.2 1605.3 579.3 1597.9 568.9 1591.7 564.7 1578.2 564.7 1578.2 564.7 1578.2 579.3 1574.8 593.8 1578.2 593.8 1578.2 593.8 1578.2 591.4 1591.7 593.8 1594 608.3 1598.5 611 1591.7 622.8 1584.1 637.4 1591.7 637.4 1591.7 651.9 1602.7 657.3 1605.3 666.4 1618.8 681 1606.4 684.6 1605.3 695.5 1602.4 710 1605.3 710 1605.3 710 1605.3zM666.4 1591.7 666.4 1591.7 666.4 1591.7 666.4 1591.7zM804.4 1591.7 811.7 1593.8 815.9 1591.7 811.7 1588.7zM681 1578.2 681 1578.2 681 1578.2 681 1578.2zM622.8 1554.8 618.7 1551.2 622.8 1547 629.3 1551.2zM724.5 1551.2 724.5 1551.2 724.5 1551.2 724.5 1551.2zM550.2 1539.1 542.9 1537.6 550.2 1535.4 552 1537.6zM651.9 1537.6 651.9 1537.6 651.9 1537.6 651.9 1537.6zM739.1 1541 736.6 1537.6 739.1 1536.3 753.6 1534.9 763.3 1537.6 753.6 1544.4zM579.3 1526.8 572 1524.1 579.3 1519 586.5 1524.1zM472.4 1510.6 477.6 1515.8 485.6 1510.6 477.6 1503zM456.8 1497 463 1500.4 469.3 1497 463 1490.3zM811.7 1508.9 805.4 1497 803 1483.5 811.7 1476.7 815.7 1483.5 819 1497zM753.6 1483.5 753.6 1483.5 753.6 1483.5 753.6 1483.5zM579.3 1472.5 574.9 1470 579.3 1466.6 581.3 1470zM797.2 1459.4 794 1456.4 797.2 1454.5 800.4 1456.4zM861.5 1456.4 869.8 1470 873.7 1456.4 869.8 1451.5zM535.7 1442.9 535.7 1442.9 535.7 1442.9 535.7 1442.9zM768.1 1449.1 761.5 1442.9 768.1 1438.4 772.2 1442.9zM811.7 1442.9 811.7 1442.9 806.9 1429.4 811.7 1419.2 815.7 1429.4 811.7 1442.9zM579.3 1429.4 579.3 1429.4 579.3 1429.4 579.3 1429.4zM622.8 1429.4 622.8 1429.4 622.8 1429.4 622.8 1429.4zM666.4 1434.3 663.4 1429.4 666.4 1424 670.1 1429.4zM593.8 1417 592 1415.8 593.8 1413.1 598.6 1415.8zM666.4 1402.3 666.4 1402.3 666.4 1402.3 666.4 1402.3zM782.7 1408.3 779.4 1402.3 782.7 1396.9 787.9 1402.3zM826.2 1408.1 821.9 1402.3 826.2 1399.2 833.5 1402.3zM896.5 1402.3 898.9 1403.8 901.3 1402.3 898.9 1401zM681 1389.5 679.1 1388.8 681 1387.6 683.9 1388.8zM724.5 1391.2 719.7 1388.8 724.5 1385.4 726.6 1388.8zM753.6 1392.8 750.7 1388.8 753.6 1385.9 762.3 1388.8zM797.2 1391.8 793.5 1388.8 797.2 1382 800.4 1388.8zM840.8 1396.5 836.6 1388.8 840.8 1385.2 849.1 1388.8zM912 1388.8 913.4 1391 914.4 1388.8 913.4 1387.1zM579.3 1375.3 579.3 1375.3 579.3 1375.3 593.8 1375.3 593.8 1375.3 593.8 1375.3zM622.8 1381.3 613.2 1375.3 622.8 1369.2 627 1375.3zM651.9 1368.5 644.6 1361.7 651.9 1357.9 658.4 1361.7zM502.1 1348.2 506.6 1357.9 521.1 1348.2 506.6 1334.7zM681 1356.2 675.6 1348.2 681 1341.4 691.3 1348.2zM739.1 1359.8 726.6 1348.2 739.1 1339.2 751.5 1348.2zM835.9 1321.1 840.8 1334.7 850.4 1321.1 840.8 1319.1zM589.6 1307.6 593.8 1309.7 601.1 1307.6 593.8 1303.7zM775.4 1307.6 782.7 1316.6 797.2 1311 800.4 1307.6 797.2 1305.2 786.3 1294.1 784.1 1280.6 782.7 1273.8 781 1280.6 779 1294.1zM824.4 1307.6 826.2 1310.3 827.4 1307.6 826.2 1305.7zM501.8 1294.1 506.6 1300.3 512.1 1294.1 506.6 1290zM558.5 1294.1 564.7 1307.6 575.6 1294.1 564.7 1290.4zM604.2 1294.1 608.3 1300.8 615.6 1294.1 608.3 1290.7zM724.5 1294.1 739.1 1304.2 750 1294.1 739.1 1282.5zM648.3 1267 651.9 1269 653.7 1267 651.9 1266.1z"/>
<path stroke="#aaaaaa" d="M635 1618.8 637.4 1627.8 641.8 1618.8 637.4 1615.6zM781.4 1605.3 782.7 1606.3 784.7 1605.3 782.7 1602.6zM646.3 1591.7 651.9 1596 657.5 1591.7 651.9 1586.1zM686.8 1591.7 695.5 1594.6 700.3 1591.7 695.5 1585.9zM761.2 1591.7 768.1 1598.5 778.8 1591.7 782.7 1582.7 789.9 1578.2 782.7 1576.1 777.8 1578.2 768.1 1581.8zM603.5 1578.2 608.3 1583.6 619.9 1578.2 622.8 1574.8 637.4 1564.7 622.8 1562 610.4 1551.2 608.3 1537.6 598.6 1551.2 605.9 1564.7zM637.4 1564.7 651.9 1568.7 660.6 1564.7 666.4 1562.4 671.3 1564.7 681 1569.2 695.5 1572.2 707.6 1564.7 710 1563.6 718.4 1551.2 710 1537.6 695.5 1551.2 695.5 1551.2 695.5 1551.2 691.9 1537.6 695.5 1532.2 710 1537.6 721.2 1524.1 724.5 1520 735.4 1524.1 739.1 1525.4 753.6 1529.5 766.5 1524.1 768.1 1510.6 768.1 1510.6 777.8 1497 775.4 1483.5 768.1 1478.1 765.2 1483.5 753.6 1490.7 749.1 1483.5 753.6 1475.8 763.3 1470 758.4 1456.4 753.6 1451.9 748.8 1456.4 739.1 1458.5 737 1456.4 739.1 1442.9 728.2 1429.4 739.1 1423.1 751.5 1429.4 753.6 1433.9 768.1 1431.2 778.6 1442.9 782.7 1454.2 797.2 1446.8 802 1442.9 797.2 1433.9 789.9 1429.4 782.7 1424 768.1 1424.9 758.4 1415.8 768.1 1410.4 773 1402.3 768.1 1395.6 755.7 1402.3 753.6 1406.8 752.3 1402.3 742.9 1388.8 739.1 1381.1 734.9 1388.8 724.5 1401.1 710 1396.5 699.1 1402.3 710 1406.4 715.4 1415.8 710 1426.4 701.5 1415.8 695.5 1404.6 694 1402.3 681 1395.6 673.3 1402.3 681 1415.8 681 1415.8 681 1415.8 677.3 1429.4 673.7 1442.9 666.4 1444.8 665 1442.9 657.3 1429.4 651.9 1419.9 639.2 1429.4 637.4 1432.1 622.8 1437.7 608.3 1438.9 598.1 1429.4 593.8 1426 589.8 1429.4 579.3 1439.2 573.8 1442.9 574.4 1456.4 579.3 1457.6 584.1 1456.4 593.8 1454.4 608.3 1448.7 622.8 1454.2 637.4 1450.6 651.9 1454 655.5 1456.4 651.9 1460.3 637.4 1463.2 628.7 1470 622.8 1473.8 618 1470 608.3 1463.2 593.8 1458.7 586.9 1470 579.3 1479.3 564.7 1472.2 555.7 1483.5 564.7 1494.8 565.7 1497 579.3 1508.2 593.8 1510.6 608.3 1499.7 615.6 1510.6 622.8 1518.3 637.4 1522.5 641.5 1524.1 637.4 1527.1 622.8 1534.2 608.3 1537.6 622.8 1538.7 637.4 1547.1 644.2 1537.6 651.9 1529.3 657.2 1537.6 653.2 1551.2 651.9 1554.5zM733.8 1564.7 739.1 1568.3 746.3 1564.7 739.1 1558.7zM809.8 1564.7 811.7 1566.3 813.8 1564.7 811.7 1562zM533.4 1551.2 535.7 1554.5 550.2 1551.2 535.7 1548.1zM574.4 1551.2 579.3 1553.4 586.5 1551.2 585.7 1537.6 579.3 1534 567.6 1537.6zM777.8 1537.6 782.7 1539.6 784.8 1537.6 789 1524.1 782.7 1512.3 769.9 1524.1zM534.7 1524.1 535.7 1525.8 539.3 1524.1 535.7 1522.4zM651.9 1514.4 650.2 1510.6 651.9 1508.9 653.7 1510.6zM739.1 1510.6 739.1 1510.6 739.1 1510.6 739.1 1510.6zM695.5 1499.4 683.9 1497 690.6 1483.5 695.5 1482 697.9 1483.5 698.9 1497zM794.8 1497 797.2 1501.5 798.1 1497 797.2 1495.1zM531.8 1483.5 535.7 1488 544 1483.5 535.7 1472.7zM651.9 1484.4 647.1 1483.5 651.9 1481.2 653.4 1483.5zM681 1474.5 676.1 1470 681 1463.2 682.6 1470zM710 1477.3 703.8 1470 710 1462.6 716.2 1470zM775.4 1470 782.7 1478.1 793.5 1470 782.7 1459.8zM532.8 1456.4 535.7 1465.5 545.4 1456.4 535.7 1453.7zM490.2 1442.9 492.1 1444.3 506.6 1442.9 492.1 1440.8zM546.2 1442.9 550.2 1453.1 555.7 1442.9 550.2 1434.8zM710 1446.8 705.2 1442.9 710 1436.1 719.7 1442.9zM511.5 1429.4 521.1 1432.8 530.8 1429.4 521.1 1428zM530.3 1415.8 535.7 1428.2 547.8 1415.8 535.7 1408.7zM613.8 1415.8 622.8 1423.4 635 1415.8 622.8 1405.4zM571 1388.8 579.3 1402.3 593.8 1396.3 602.9 1388.8 593.8 1383.6 579.3 1382zM816.6 1388.8 826.2 1390.9 828.3 1388.8 826.2 1387zM506 1375.3 506.6 1376.5 521.1 1375.3 506.6 1374zM635.3 1375.3 637.4 1384.3 642.2 1375.3 637.4 1370.8zM666.4 1375.3 681 1377.7 684.2 1375.3 681 1366.2zM746.3 1375.3 753.6 1378.2 756.9 1375.3 757.5 1361.7 753.6 1356.8 748.3 1361.7zM838 1375.3 840.8 1378 855.3 1381.3 858.9 1375.3 855.3 1372.6 840.8 1370.2zM825.3 1361.7 826.2 1362.7 828.7 1361.7 826.2 1361.1zM642.2 1348.2 651.9 1350.1 666.4 1358.3 671.3 1348.2 666.4 1342.1 651.9 1346.8zM590.2 1334.7 593.8 1335.6 595.2 1334.7 593.8 1334zM630.9 1334.7 637.4 1345.5 640.1 1334.7 637.4 1321.1zM678.7 1334.7 681 1336 684.6 1334.7 681 1332.2zM746.3 1334.7 753.6 1340.3 758.8 1334.7 754.7 1321.1 753.6 1320.4 751.5 1321.1zM636.2 1307.6 637.4 1321.1 640.3 1307.6 637.4 1306.6z"/>
<path stroke="#d4d4d4" d="M766.2 1591.7 768.1 1593.6 771 1591.7 768.1 1589zM663.8 1551.2 666.4 1553.4 672.2 1551.2 681 1545.4 684.6 1537.6 681 1532.2 666.4 1526 662.5 1537.6zM706 1551.2 710 1554.5 712.3 1551.2 710 1547.5zM702.7 1524.1 710 1526.8 712.2 1524.1 710 1521.1 704.4 1510.6 695.5 1504.1 686.1 1510.6 695.5 1522zM628.1 1510.6 637.4 1516.1 643.4 1510.6 651.9 1502.1 661.6 1497 651.9 1491.6 641 1497 637.4 1500zM661 1510.6 666.4 1522.2 673.7 1510.6 666.4 1501.5zM745.2 1510.6 753.6 1524.1 762 1510.6 768.1 1499.7 770.1 1497 768.1 1493.6 758.4 1497 753.6 1498.2zM573.4 1497 579.3 1501.8 587.2 1497 579.3 1488zM705.7 1497 710 1502.7 716.6 1497 710 1488.6zM665 1483.5 666.4 1486.9 668.5 1483.5 666.4 1481.6zM730 1483.5 739.1 1493.2 744.7 1483.5 747.8 1470 739.1 1466.8 724.5 1470zM592.4 1470 593.8 1479 598.6 1470 593.8 1467.7zM716.2 1456.4 724.5 1470 728.7 1456.4 724.5 1451.5zM588.3 1442.9 593.8 1446 599.2 1442.9 593.8 1437.8zM649 1442.9 651.9 1444.1 653.4 1442.9 651.9 1436.1zM689.3 1429.4 695.5 1435.2 700.3 1429.4 695.5 1422.6zM534.6 1415.8 535.7 1418.3 538.1 1415.8 535.7 1414.4zM621 1415.8 622.8 1417.4 625.3 1415.8 622.8 1413.8zM721.5 1415.8 724.5 1421.3 736.2 1415.9 724.5 1410.9zM680.1 1402.3 681 1403.8 682.4 1402.3 681 1401.6zM735.8 1402.3 739.1 1411.3 741.7 1402.3 739.1 1397.8zM664.4 1348.2 666.4 1349.3 667 1348.2 666.4 1347.5z"/>
<path stroke="#ffffff" d="M692.9 1510.6 695.5 1513.7 697.9 1510.6 695.5 1508.8zM751.3 1510.6 753.6 1514.2 755.9 1510.6 753.6 1507.2zM737.3 1483.5 739.1 1485.4 740.2 1483.5 739.1 1479.6z"/>
</g>
<clipPath id="ct"><rect x="360" y="120" width="1440" height="480"/></clipPath>
<g clip-path="url(#ct)" shape-rendering="crispEdges">
<rect x="360.60" y="591.0" width="7.54" height="9.0" fill="#173a79"/>
<rect x="367.84" y="573.7" width="7.54" height="26.3" fill="#153a79"/>
<rect x="375.07" y="557.0" width="7.54" height="43.0" fill="#02426a"/>
<rect x="382.31" y="555.7" width="7.54" height="44.3" fill="#02406d"/>
<rect x="389.54" y="535.6" width="7.54" height="64.4" fill="#02416b"/>
<rect x="396.78" y="527.9" width="7.54" height="72.1" fill="#02406c"/>
<rect x="404.01" y="508.6" width="7.54" height="91.4" fill="#083b73"/>
<rect x="411.25" y="482.9" width="7.54" height="117.1" fill="#053c72"/>
<rect x="418.48" y="480.8" width="7.54" height="119.2" fill="#073b73"/>
<rect x="425.72" y="461.4" width="7.54" height="138.6" fill="#073b73"/>
<rect x="432.95" y="442.7" width="7.54" height="157.3" fill="#063b72"/>
<rect x="440.19" y="440.0" width="7.54" height="160.0" fill="#0a3b74"/>
<rect x="447.42" y="401.2" width="7.54" height="198.8" fill="#033c71"/>
<rect x="454.66" y="399.1" width="7.54" height="200.9" fill="#083b73"/>
<rect x="461.89" y="381.8" width="7.54" height="218.2" fill="#043c71"/>
<rect x="469.12" y="383.8" width="7.54" height="216.2" fill="#063b72"/>
<rect x="476.36" y="359.6" width="7.54" height="240.4" fill="#023c71"/>
<rect x="483.60" y="356.8" width="7.54" height="243.2" fill="#083b73"/>
<rect x="490.83" y="343.7" width="7.54" height="256.3" fill="#073b73"/>
<rect x="498.07" y="329.8" width="7.54" height="270.2" fill="#053c72"/>
<rect x="505.30" y="318.7" width="7.54" height="281.3" fill="#0c3b75"/>
<rect x="512.54" y="302.8" width="7.54" height="297.2" fill="#043c72"/>
<rect x="519.77" y="297.9" width="7.54" height="302.1" fill="#023c71"/>
<rect x="527.00" y="295.2" width="7.54" height="304.8" fill="#033c71"/>
<rect x="534.24" y="265.4" width="7.54" height="334.6" fill="#043c72"/>
<rect x="541.48" y="262.6" width="7.54" height="337.4" fill="#063b73"/>
<rect x="548.71" y="246.7" width="7.54" height="353.3" fill="#033c71"/>
<rect x="555.95" y="248.1" width="7.54" height="351.9" fill="#033c71"/>
<rect x="563.18" y="235.6" width="7.54" height="364.4" fill="#053c72"/>
<rect x="570.41" y="246.0" width="7.54" height="354.0" fill="#063b72"/>
<rect x="577.65" y="215.5" width="7.54" height="384.5" fill="#073b73"/>
<rect x="584.88" y="225.2" width="7.54" height="374.8" fill="#093b74"/>
<rect x="592.12" y="202.3" width="7.54" height="397.7" fill="#033c71"/>
<rect x="599.36" y="211.3" width="7.54" height="388.7" fill="#0b3b75"/>
<rect x="606.59" y="210.0" width="7.54" height="390.0" fill="#073b73"/>
<rect x="613.83" y="208.6" width="7.54" height="391.4" fill="#063b72"/>
<rect x="621.06" y="217.6" width="7.54" height="382.4" fill="#043c72"/>
<rect x="628.30" y="173.2" width="7.54" height="426.8" fill="#023c71"/>
<rect x="635.53" y="166.3" width="7.54" height="433.7" fill="#043c71"/>
<rect x="642.77" y="171.2" width="7.54" height="428.8" fill="#073b73"/>
<rect x="650.00" y="174.6" width="7.54" height="425.4" fill="#043c72"/>
<rect x="657.24" y="165.6" width="7.54" height="434.4" fill="#093b74"/>
<rect x="664.47" y="162.8" width="7.54" height="437.2" fill="#033c71"/>
<rect x="671.71" y="162.8" width="7.54" height="437.2" fill="#073b73"/>
<rect x="678.94" y="175.3" width="7.54" height="424.7" fill="#083b73"/>
<rect x="686.17" y="182.2" width="7.54" height="417.8" fill="#083b73"/>
<rect x="693.41" y="178.8" width="7.54" height="421.2" fill="#063b73"/>
<rect x="700.64" y="171.2" width="7.54" height="428.8" fill="#073b73"/>
<rect x="707.88" y="211.3" width="7.54" height="388.7" fill="#013c70"/>
<rect x="715.12" y="166.3" width="7.54" height="433.7" fill="#083b73"/>
<rect x="722.35" y="204.4" width="7.54" height="395.6" fill="#063b72"/>
<rect x="729.59" y="188.5" width="7.54" height="411.5" fill="#063b72"/>
<rect x="736.82" y="188.5" width="7.54" height="411.5" fill="#063b72"/>
<rect x="744.06" y="173.9" width="7.54" height="426.1" fill="#063b72"/>
<rect x="751.29" y="194.0" width="7.54" height="406.0" fill="#073b73"/>
<rect x="758.53" y="185.0" width="7.54" height="415.0" fill="#083b73"/>
<rect x="765.76" y="201.6" width="7.54" height="398.4" fill="#083b73"/>
<rect x="773.00" y="219.0" width="7.54" height="381.0" fill="#0a3b74"/>
<rect x="780.23" y="214.8" width="7.54" height="385.2" fill="#063c72"/>
<rect x="787.47" y="221.7" width="7.54" height="378.3" fill="#043c71"/>
<rect x="794.70" y="256.4" width="7.54" height="343.6" fill="#073b73"/>
<rect x="801.94" y="248.8" width="7.54" height="351.2" fill="#073b73"/>
<rect x="809.17" y="267.5" width="7.54" height="332.5" fill="#073b73"/>
<rect x="816.40" y="250.8" width="7.54" height="349.2" fill="#073b73"/>
<rect x="823.64" y="277.8" width="7.54" height="322.2" fill="#0a3b74"/>
<rect x="830.88" y="290.3" width="7.54" height="309.7" fill="#033c71"/>
<rect x="838.11" y="297.9" width="7.54" height="302.1" fill="#053c72"/>
<rect x="845.35" y="297.9" width="7.54" height="302.1" fill="#083b73"/>
<rect x="852.58" y="337.4" width="7.54" height="262.6" fill="#053c72"/>
<rect x="859.82" y="318.0" width="7.54" height="282.0" fill="#073b73"/>
<rect x="867.05" y="336.7" width="7.54" height="263.3" fill="#073b73"/>
<rect x="874.29" y="336.0" width="7.54" height="264.0" fill="#053c72"/>
<rect x="881.52" y="372.8" width="7.54" height="227.2" fill="#043c72"/>
<rect x="888.75" y="361.0" width="7.54" height="239.0" fill="#023c71"/>
<rect x="895.99" y="389.4" width="7.54" height="210.6" fill="#023c71"/>
<rect x="903.23" y="386.6" width="7.54" height="213.4" fill="#073b73"/>
<rect x="910.46" y="412.3" width="7.54" height="187.7" fill="#073b73"/>
<rect x="917.70" y="410.2" width="7.54" height="189.8" fill="#063b72"/>
<rect x="924.93" y="417.1" width="7.54" height="182.9" fill="#063b72"/>
<rect x="932.17" y="396.3" width="7.54" height="203.7" fill="#083b73"/>
<rect x="939.40" y="426.1" width="7.54" height="173.9" fill="#083b73"/>
<rect x="946.64" y="423.3" width="7.54" height="176.7" fill="#043c72"/>
<rect x="953.87" y="426.8" width="7.54" height="173.2" fill="#023c71"/>
<rect x="961.11" y="428.2" width="7.54" height="171.8" fill="#073b73"/>
<rect x="968.34" y="448.3" width="7.54" height="151.7" fill="#083b73"/>
<rect x="975.58" y="467.0" width="7.54" height="133.0" fill="#073b73"/>
<rect x="982.81" y="484.3" width="7.54" height="115.7" fill="#093b73"/>
<rect x="990.05" y="481.5" width="7.54" height="118.5" fill="#073b73"/>
<rect x="997.28" y="481.5" width="7.54" height="118.5" fill="#053c72"/>
<rect x="1004.52" y="476.0" width="7.54" height="124.0" fill="#063b73"/>
<rect x="1011.75" y="477.4" width="7.54" height="122.6" fill="#033c71"/>
<rect x="1018.99" y="481.5" width="7.54" height="118.5" fill="#063b72"/>
<rect x="1026.22" y="499.5" width="7.54" height="100.5" fill="#053c72"/>
<rect x="1033.45" y="494.7" width="7.54" height="105.3" fill="#063b73"/>
<rect x="1040.69" y="506.5" width="7.54" height="93.5" fill="#033c71"/>
<rect x="1047.93" y="511.3" width="7.54" height="88.7" fill="#093b74"/>
<rect x="1055.16" y="518.2" width="7.54" height="81.8" fill="#073b73"/>
<rect x="1062.39" y="515.5" width="7.54" height="84.5" fill="#093b74"/>
<rect x="1069.63" y="524.5" width="7.54" height="75.5" fill="#043c72"/>
<rect x="1076.87" y="530.0" width="7.54" height="70.0" fill="#043c72"/>
<rect x="1084.10" y="531.1" width="7.54" height="68.9" fill="#073b73"/>
<rect x="1091.34" y="534.2" width="7.54" height="65.8" fill="#023c71"/>
<rect x="1098.57" y="537.0" width="7.54" height="63.0" fill="#073b73"/>
<rect x="1105.81" y="537.0" width="7.54" height="63.0" fill="#0a3b74"/>
<rect x="1113.04" y="539.0" width="7.54" height="61.0" fill="#073b73"/>
<rect x="1120.28" y="535.9" width="7.54" height="64.1" fill="#053c72"/>
<rect x="1127.51" y="546.0" width="7.54" height="54.0" fill="#073b73"/>
<rect x="1134.74" y="553.9" width="7.54" height="46.1" fill="#013c70"/>
<rect x="1141.98" y="559.1" width="7.54" height="40.9" fill="#044666"/>
<rect x="1149.22" y="568.1" width="7.54" height="31.9" fill="#064a62"/>
<rect x="1156.45" y="564.0" width="7.54" height="36.0" fill="#044666"/>
<rect x="1163.68" y="561.9" width="7.54" height="38.1" fill="#054666"/>
<rect x="1170.92" y="562.9" width="7.54" height="37.1" fill="#064b61"/>
<rect x="1178.16" y="562.9" width="7.54" height="37.1" fill="#054864"/>
<rect x="1185.39" y="572.3" width="7.54" height="27.7" fill="#054765"/>
<rect x="1192.62" y="574.4" width="7.54" height="25.6" fill="#0c5755"/>
<rect x="1199.86" y="573.0" width="7.54" height="27.0" fill="#044666"/>
<rect x="1207.10" y="565.4" width="7.54" height="34.6" fill="#0d5a53"/>
<rect x="1214.33" y="574.4" width="7.54" height="25.6" fill="#0c5953"/>
<rect x="1221.57" y="567.1" width="7.54" height="32.9" fill="#054865"/>
<rect x="1228.80" y="583.0" width="7.54" height="17.0" fill="#02406c"/>
<rect x="1236.04" y="576.1" width="7.54" height="23.9" fill="#044666"/>
<rect x="1243.27" y="575.1" width="7.54" height="24.9" fill="#084f5d"/>
<rect x="1250.51" y="575.1" width="7.54" height="24.9" fill="#074d5f"/>
<rect x="1257.74" y="583.0" width="7.54" height="17.0" fill="#02406c"/>
<rect x="1264.97" y="579.2" width="7.54" height="20.8" fill="#013f6d"/>
<rect x="1272.21" y="584.1" width="7.54" height="15.9" fill="#064963"/>
<rect x="1279.45" y="577.8" width="7.54" height="22.2" fill="#044666"/>
<rect x="1286.68" y="584.1" width="7.54" height="15.9" fill="#0a5359"/>
<rect x="1293.91" y="582.0" width="7.54" height="18.0" fill="#02416b"/>
<rect x="1301.15" y="584.1" width="7.54" height="15.9" fill="#074c60"/>
<rect x="1308.39" y="585.1" width="7.54" height="14.9" fill="#013f6d"/>
<rect x="1315.62" y="588.2" width="7.54" height="11.8" fill="#044468"/>
<rect x="1322.86" y="583.0" width="7.54" height="17.0" fill="#054864"/>
<rect x="1330.09" y="584.1" width="7.54" height="15.9" fill="#10624a"/>
<rect x="1337.33" y="590.3" width="7.54" height="9.7" fill="#0a5458"/>
<rect x="1344.56" y="590.3" width="7.54" height="9.7" fill="#0a5359"/>
<rect x="1351.80" y="587.2" width="7.54" height="12.8" fill="#0a5459"/>
<rect x="1359.03" y="586.1" width="7.54" height="13.9" fill="#064963"/>
<rect x="1366.27" y="592.4" width="7.54" height="7.6" fill="#08505d"/>
<rect x="1373.50" y="591.0" width="7.54" height="9.0" fill="#0d5b51"/>
<rect x="1380.74" y="588.2" width="7.54" height="11.8" fill="#034369"/>
<rect x="1387.97" y="590.3" width="7.54" height="9.7" fill="#074c60"/>
<rect x="1395.20" y="592.4" width="7.54" height="7.6" fill="#02416b"/>
<rect x="1402.44" y="597.2" width="7.54" height="2.8" fill="#064963"/>
<rect x="1409.68" y="596.2" width="7.54" height="3.8" fill="#034468"/>
<rect x="1416.91" y="594.1" width="7.54" height="5.9" fill="#044567"/>
<rect x="1424.14" y="596.2" width="7.54" height="3.8" fill="#013f6d"/>
<rect x="1438.62" y="593.1" width="7.54" height="6.9" fill="#033c71"/>
<rect x="1445.85" y="597.9" width="7.54" height="2.1" fill="#003d6f"/>
<rect x="1453.09" y="596.5" width="7.54" height="3.5" fill="#0d5953"/>
<rect x="1460.32" y="598.6" width="7.54" height="1.4" fill="#0f604d"/>
<rect x="1467.56" y="599.3" width="7.54" height="0.7" fill="#074b61"/>
<rect x="1474.79" y="594.5" width="7.54" height="5.5" fill="#0e5d50"/>
<rect x="1482.03" y="597.9" width="7.54" height="2.1" fill="#0e5d50"/>
<rect x="1489.26" y="597.9" width="7.54" height="2.1" fill="#10624b"/>
<rect x="1496.49" y="597.9" width="7.54" height="2.1" fill="#064963"/>
<rect x="1503.73" y="596.5" width="7.54" height="3.5" fill="#053c72"/>
<rect x="1510.97" y="597.9" width="7.54" height="2.1" fill="#013c70"/>
<rect x="1518.20" y="593.1" width="7.54" height="6.9" fill="#064963"/>
<rect x="1525.43" y="597.2" width="7.54" height="2.8" fill="#0b5557"/>
<rect x="1532.67" y="598.6" width="7.54" height="1.4" fill="#126547"/>
<rect x="1539.91" y="598.6" width="7.54" height="1.4" fill="#0f5f4d"/>
<rect x="1554.38" y="596.5" width="7.54" height="3.5" fill="#1c7c31"/>
<rect x="1561.61" y="597.2" width="7.54" height="2.8" fill="#197736"/>
<rect x="1568.85" y="598.6" width="7.54" height="1.4" fill="#0e5d50"/>
<rect x="1576.08" y="596.5" width="7.54" height="3.5" fill="#17713c"/>
<rect x="1597.78" y="595.2" width="7.54" height="4.8" fill="#08505d"/>
<rect x="1605.02" y="595.2" width="7.54" height="4.8" fill="#18733a"/>
<rect x="1612.26" y="596.5" width="7.54" height="3.5" fill="#166f3d"/>
<rect x="1626.72" y="598.6" width="7.54" height="1.4" fill="#0b5557"/>
</g>
<clipPath id="cr"><rect x="1920" y="720" width="570" height="1440"/></clipPath>
<g clip-path="url(#cr)" shape-rendering="crispEdges">
<rect x="1920" y="809.70" width="0.8" height="7.06" fill="#10614c"/>
<rect x="1920" y="857.00" width="0.8" height="7.06" fill="#0e5c50"/>
<rect x="1920" y="863.76" width="0.8" height="7.06" fill="#10614c"/>
<rect x="1920" y="870.51" width="1.7" height="7.06" fill="#0f5e4e"/>
<rect x="1920" y="877.27" width="2.5" height="7.06" fill="#0d5953"/>
<rect x="1920" y="884.03" width="2.5" height="7.06" fill="#0f5e4e"/>
<rect x="1920" y="890.78" width="5.0" height="7.06" fill="#0f5e4e"/>
<rect x="1920" y="897.54" width="5.8" height="7.06" fill="#0f604d"/>
<rect x="1920" y="904.30" width="6.7" height="7.06" fill="#0f604d"/>
<rect x="1920" y="911.06" width="8.4" height="7.06" fill="#0f5f4e"/>
<rect x="1920" y="917.81" width="10.0" height="7.06" fill="#0e5d4f"/>
<rect x="1920" y="924.57" width="11.7" height="7.06" fill="#10614c"/>
<rect x="1920" y="931.33" width="10.9" height="7.06" fill="#0c3b75"/>
<rect x="1920" y="938.08" width="16.7" height="7.06" fill="#044666"/>
<rect x="1920" y="944.84" width="21.7" height="7.06" fill="#054765"/>
<rect x="1920" y="951.60" width="15.9" height="7.06" fill="#054865"/>
<rect x="1920" y="958.35" width="24.2" height="7.06" fill="#054864"/>
<rect x="1920" y="965.11" width="19.2" height="7.06" fill="#054864"/>
<rect x="1920" y="971.87" width="29.2" height="7.06" fill="#054864"/>
<rect x="1920" y="978.62" width="22.6" height="7.06" fill="#0b5756"/>
<rect x="1920" y="985.38" width="35.1" height="7.06" fill="#064a62"/>
<rect x="1920" y="992.14" width="31.8" height="7.06" fill="#064a63"/>
<rect x="1920" y="998.90" width="35.1" height="7.06" fill="#0b5558"/>
<rect x="1920" y="1005.65" width="34.3" height="7.06" fill="#0a5458"/>
<rect x="1920" y="1012.41" width="35.1" height="7.06" fill="#0b5557"/>
<rect x="1920" y="1019.17" width="46.8" height="7.06" fill="#0b5557"/>
<rect x="1920" y="1025.92" width="48.5" height="7.06" fill="#0c5755"/>
<rect x="1920" y="1032.68" width="47.6" height="7.06" fill="#0b5558"/>
<rect x="1920" y="1039.44" width="51.0" height="7.06" fill="#044666"/>
<rect x="1920" y="1046.19" width="58.5" height="7.06" fill="#054765"/>
<rect x="1920" y="1052.95" width="52.6" height="7.06" fill="#013f6d"/>
<rect x="1920" y="1059.71" width="67.7" height="7.06" fill="#023c71"/>
<rect x="1920" y="1066.47" width="61.0" height="7.06" fill="#033c71"/>
<rect x="1920" y="1073.22" width="58.5" height="7.06" fill="#013c70"/>
<rect x="1920" y="1079.98" width="79.4" height="7.06" fill="#013f6d"/>
<rect x="1920" y="1086.74" width="72.7" height="7.06" fill="#003c70"/>
<rect x="1920" y="1093.49" width="84.4" height="7.06" fill="#143a78"/>
<rect x="1920" y="1100.25" width="98.6" height="7.06" fill="#043c72"/>
<rect x="1920" y="1107.01" width="96.9" height="7.06" fill="#043c71"/>
<rect x="1920" y="1113.77" width="108.6" height="7.06" fill="#003c70"/>
<rect x="1920" y="1120.52" width="109.5" height="7.06" fill="#013c70"/>
<rect x="1920" y="1127.28" width="108.6" height="7.06" fill="#003d6f"/>
<rect x="1920" y="1134.04" width="132.0" height="7.06" fill="#033c71"/>
<rect x="1920" y="1140.79" width="129.5" height="7.06" fill="#013e6e"/>
<rect x="1920" y="1147.55" width="133.7" height="7.06" fill="#013f6d"/>
<rect x="1920" y="1154.31" width="157.9" height="7.06" fill="#043c72"/>
<rect x="1920" y="1161.06" width="171.3" height="7.06" fill="#003c70"/>
<rect x="1920" y="1167.82" width="168.0" height="7.06" fill="#013c70"/>
<rect x="1920" y="1174.58" width="156.3" height="7.06" fill="#013f6d"/>
<rect x="1920" y="1181.34" width="189.7" height="7.06" fill="#003c70"/>
<rect x="1920" y="1188.09" width="191.4" height="7.06" fill="#013e6e"/>
<rect x="1920" y="1194.85" width="186.3" height="7.06" fill="#003c70"/>
<rect x="1920" y="1201.61" width="182.2" height="7.06" fill="#003d6f"/>
<rect x="1920" y="1208.36" width="197.2" height="7.06" fill="#02406c"/>
<rect x="1920" y="1215.12" width="205.6" height="7.06" fill="#013c70"/>
<rect x="1920" y="1221.88" width="213.1" height="7.06" fill="#0a3b74"/>
<rect x="1920" y="1228.63" width="213.1" height="7.06" fill="#053c72"/>
<rect x="1920" y="1235.39" width="253.2" height="7.06" fill="#063c72"/>
<rect x="1920" y="1242.15" width="234.0" height="7.06" fill="#093b74"/>
<rect x="1920" y="1248.90" width="284.9" height="7.06" fill="#083b73"/>
<rect x="1920" y="1255.66" width="272.4" height="7.06" fill="#063b72"/>
<rect x="1920" y="1262.42" width="299.1" height="7.06" fill="#043c72"/>
<rect x="1920" y="1269.18" width="289.1" height="7.06" fill="#053c72"/>
<rect x="1920" y="1275.93" width="306.7" height="7.06" fill="#073b73"/>
<rect x="1920" y="1282.69" width="303.3" height="7.06" fill="#093b74"/>
<rect x="1920" y="1289.45" width="333.4" height="7.06" fill="#0b3b75"/>
<rect x="1920" y="1296.20" width="340.1" height="7.06" fill="#023c71"/>
<rect x="1920" y="1302.96" width="338.4" height="7.06" fill="#073b73"/>
<rect x="1920" y="1309.72" width="355.1" height="7.06" fill="#083b73"/>
<rect x="1920" y="1316.47" width="360.1" height="7.06" fill="#053c72"/>
<rect x="1920" y="1323.23" width="371.8" height="7.06" fill="#063b73"/>
<rect x="1920" y="1329.99" width="354.3" height="7.06" fill="#063b72"/>
<rect x="1920" y="1336.75" width="401.9" height="7.06" fill="#053c72"/>
<rect x="1920" y="1343.50" width="400.3" height="7.06" fill="#073b73"/>
<rect x="1920" y="1350.26" width="396.9" height="7.06" fill="#093b74"/>
<rect x="1920" y="1357.02" width="413.6" height="7.06" fill="#063b73"/>
<rect x="1920" y="1363.77" width="440.4" height="7.06" fill="#063b72"/>
<rect x="1920" y="1370.53" width="450.4" height="7.06" fill="#093b74"/>
<rect x="1920" y="1377.29" width="475.5" height="7.06" fill="#093b74"/>
<rect x="1920" y="1384.05" width="471.3" height="7.06" fill="#093b73"/>
<rect x="1920" y="1390.80" width="482.1" height="7.06" fill="#043c72"/>
<rect x="1920" y="1397.56" width="481.3" height="7.06" fill="#033c71"/>
<rect x="1920" y="1404.32" width="476.3" height="7.06" fill="#033c71"/>
<rect x="1920" y="1411.07" width="493.0" height="7.06" fill="#083b73"/>
<rect x="1920" y="1417.83" width="475.5" height="7.06" fill="#083b73"/>
<rect x="1920" y="1424.59" width="501.4" height="7.06" fill="#093b74"/>
<rect x="1920" y="1431.34" width="493.8" height="7.06" fill="#023c71"/>
<rect x="1920" y="1438.10" width="479.6" height="7.06" fill="#073b73"/>
<rect x="1920" y="1444.86" width="478.0" height="7.06" fill="#063b72"/>
<rect x="1920" y="1451.62" width="475.5" height="7.06" fill="#073b73"/>
<rect x="1920" y="1458.37" width="500.5" height="7.06" fill="#063b72"/>
<rect x="1920" y="1465.13" width="462.1" height="7.06" fill="#093b73"/>
<rect x="1920" y="1471.89" width="513.1" height="7.06" fill="#083b73"/>
<rect x="1920" y="1478.64" width="518.1" height="7.06" fill="#083b73"/>
<rect x="1920" y="1485.40" width="495.5" height="7.06" fill="#0c3b75"/>
<rect x="1920" y="1492.16" width="487.2" height="7.06" fill="#053c72"/>
<rect x="1920" y="1498.91" width="516.4" height="7.06" fill="#043c72"/>
<rect x="1920" y="1505.67" width="483.0" height="7.06" fill="#043c72"/>
<rect x="1920" y="1512.43" width="483.8" height="7.06" fill="#023c71"/>
<rect x="1920" y="1519.18" width="461.3" height="7.06" fill="#043c72"/>
<rect x="1920" y="1525.94" width="458.7" height="7.06" fill="#063b73"/>
<rect x="1920" y="1532.70" width="426.2" height="7.06" fill="#053c72"/>
<rect x="1920" y="1539.46" width="440.4" height="7.06" fill="#073b73"/>
<rect x="1920" y="1546.21" width="422.0" height="7.06" fill="#043c72"/>
<rect x="1920" y="1552.97" width="410.3" height="7.06" fill="#073b73"/>
<rect x="1920" y="1559.73" width="409.4" height="7.06" fill="#0c3b75"/>
<rect x="1920" y="1566.48" width="390.2" height="7.06" fill="#063b72"/>
<rect x="1920" y="1573.24" width="379.4" height="7.06" fill="#063b72"/>
<rect x="1920" y="1580.00" width="343.4" height="7.06" fill="#093b74"/>
<rect x="1920" y="1586.76" width="349.3" height="7.06" fill="#053c72"/>
<rect x="1920" y="1593.51" width="331.7" height="7.06" fill="#033c71"/>
<rect x="1920" y="1600.27" width="339.3" height="7.06" fill="#093b74"/>
<rect x="1920" y="1607.03" width="315.0" height="7.06" fill="#043c72"/>
<rect x="1920" y="1613.78" width="283.3" height="7.06" fill="#043c72"/>
<rect x="1920" y="1620.54" width="319.2" height="7.06" fill="#083b73"/>
<rect x="1920" y="1627.30" width="285.8" height="7.06" fill="#073b73"/>
<rect x="1920" y="1634.05" width="306.7" height="7.06" fill="#093b74"/>
<rect x="1920" y="1640.81" width="263.2" height="7.06" fill="#083b73"/>
<rect x="1920" y="1647.57" width="254.0" height="7.06" fill="#063b73"/>
<rect x="1920" y="1654.33" width="229.8" height="7.06" fill="#033c71"/>
<rect x="1920" y="1661.08" width="232.3" height="7.06" fill="#083b73"/>
<rect x="1920" y="1667.84" width="219.8" height="7.06" fill="#0a3b74"/>
<rect x="1920" y="1674.60" width="219.8" height="7.06" fill="#0e3b76"/>
<rect x="1920" y="1681.35" width="201.4" height="7.06" fill="#083b73"/>
<rect x="1920" y="1688.11" width="201.4" height="7.06" fill="#093b74"/>
<rect x="1920" y="1694.87" width="205.6" height="7.06" fill="#063c72"/>
<rect x="1920" y="1701.62" width="177.1" height="7.06" fill="#063c72"/>
<rect x="1920" y="1708.38" width="173.0" height="7.06" fill="#0a3b74"/>
<rect x="1920" y="1715.14" width="154.6" height="7.06" fill="#053c72"/>
<rect x="1920" y="1721.89" width="157.9" height="7.06" fill="#073b73"/>
<rect x="1920" y="1728.65" width="142.1" height="7.06" fill="#073b73"/>
<rect x="1920" y="1735.41" width="137.9" height="7.06" fill="#073b73"/>
<rect x="1920" y="1742.17" width="122.8" height="7.06" fill="#043c72"/>
<rect x="1920" y="1748.92" width="98.6" height="7.06" fill="#053c72"/>
<rect x="1920" y="1755.68" width="98.6" height="7.06" fill="#063c72"/>
<rect x="1920" y="1762.44" width="111.1" height="7.06" fill="#033c71"/>
<rect x="1920" y="1769.19" width="88.6" height="7.06" fill="#063b72"/>
<rect x="1920" y="1775.95" width="103.6" height="7.06" fill="#063b72"/>
<rect x="1920" y="1782.71" width="96.9" height="7.06" fill="#053c72"/>
<rect x="1920" y="1789.47" width="88.6" height="7.06" fill="#073b73"/>
<rect x="1920" y="1796.22" width="79.4" height="7.06" fill="#093b74"/>
<rect x="1920" y="1802.98" width="76.9" height="7.06" fill="#023c71"/>
<rect x="1920" y="1809.74" width="64.3" height="7.06" fill="#043c72"/>
<rect x="1920" y="1816.49" width="71.9" height="7.06" fill="#093b74"/>
<rect x="1920" y="1823.25" width="68.5" height="7.06" fill="#0d3b75"/>
<rect x="1920" y="1830.01" width="61.0" height="7.06" fill="#0d3b75"/>
<rect x="1920" y="1836.76" width="56.8" height="7.06" fill="#0e3b76"/>
<rect x="1920" y="1843.52" width="40.1" height="7.06" fill="#093b74"/>
<rect x="1920" y="1850.28" width="47.6" height="7.06" fill="#073b73"/>
<rect x="1920" y="1857.04" width="48.5" height="7.06" fill="#093b74"/>
<rect x="1920" y="1863.79" width="42.6" height="7.06" fill="#063b73"/>
<rect x="1920" y="1870.55" width="37.6" height="7.06" fill="#0b3b75"/>
<rect x="1920" y="1877.31" width="37.6" height="7.06" fill="#0a3b74"/>
<rect x="1920" y="1884.06" width="37.6" height="7.06" fill="#0c3b75"/>
<rect x="1920" y="1890.82" width="22.6" height="7.06" fill="#183a7a"/>
<rect x="1920" y="1897.58" width="32.6" height="7.06" fill="#163a79"/>
<rect x="1920" y="1904.33" width="23.4" height="7.06" fill="#083b73"/>
<rect x="1920" y="1911.09" width="17.5" height="7.06" fill="#163a79"/>
<rect x="1920" y="1917.85" width="29.2" height="7.06" fill="#193a7a"/>
<rect x="1920" y="1924.61" width="15.0" height="7.06" fill="#02416b"/>
<rect x="1920" y="1931.36" width="17.5" height="7.06" fill="#03426a"/>
<rect x="1920" y="1938.12" width="15.9" height="7.06" fill="#02406c"/>
<rect x="1920" y="1944.88" width="10.0" height="7.06" fill="#003d6f"/>
<rect x="1920" y="1951.63" width="15.9" height="7.06" fill="#02406c"/>
<rect x="1920" y="1958.39" width="15.9" height="7.06" fill="#02406c"/>
<rect x="1920" y="1965.15" width="7.5" height="7.06" fill="#013e6e"/>
<rect x="1920" y="1971.90" width="10.0" height="7.06" fill="#013d6f"/>
<rect x="1920" y="1978.66" width="7.5" height="7.06" fill="#013e6e"/>
<rect x="1920" y="1985.42" width="7.5" height="7.06" fill="#02416b"/>
<rect x="1920" y="1992.17" width="7.5" height="7.06" fill="#013f6d"/>
<rect x="1920" y="1998.93" width="10.0" height="7.06" fill="#03426a"/>
<rect x="1920" y="2005.69" width="7.5" height="7.06" fill="#003c70"/>
<rect x="1920" y="2012.45" width="4.2" height="7.06" fill="#02406c"/>
<rect x="1920" y="2019.20" width="10.0" height="7.06" fill="#03426a"/>
<rect x="1920" y="2025.96" width="6.7" height="7.06" fill="#034369"/>
<rect x="1920" y="2032.72" width="4.2" height="7.06" fill="#013e6e"/>
<rect x="1920" y="2039.47" width="5.8" height="7.06" fill="#03426a"/>
<rect x="1920" y="2046.23" width="2.5" height="7.06" fill="#02416b"/>
<rect x="1920" y="2052.99" width="4.2" height="7.06" fill="#02416b"/>
<rect x="1920" y="2059.74" width="5.0" height="7.06" fill="#02406c"/>
<rect x="1920" y="2066.50" width="1.7" height="7.06" fill="#02416b"/>
<rect x="1920" y="2073.26" width="0.8" height="7.06" fill="#02416b"/>
<rect x="1920" y="2080.02" width="1.7" height="7.06" fill="#013e6e"/>
<rect x="1920" y="2086.77" width="0.8" height="7.06" fill="#033c71"/>
<rect x="1920" y="2093.53" width="0.8" height="7.06" fill="#02416b"/>
<rect x="1920" y="2107.04" width="0.8" height="7.06" fill="#02416b"/>
<rect x="1920" y="2113.80" width="0.8" height="7.06" fill="#013e6e"/>
<rect x="1920" y="2127.32" width="0.8" height="7.06" fill="#003c70"/>
<rect x="1920" y="2147.59" width="0.8" height="7.06" fill="#02416b"/>
<rect x="1920" y="2154.34" width="0.8" height="7.06" fill="#013f6e"/>
</g>
<defs><linearGradient id="cbg" x1="0" y1="1" x2="0" y2="0"><stop offset="0" stop-color="#663399"/><stop offset="0.5" stop-color="#003c70"/><stop offset="1" stop-color="#228b22"/></linearGradient></defs>
<rect x="2610" y="720" width="150" height="1440" fill="url(#cbg)"/>
<path d="M360 600V567M360 120V153M784.3 600V567M784.3 120V153M1208.6 600V567M1208.6 120V153M1632.9 600V567M1632.9 120V153M444.9 600V583.5M444.9 120V136.5M529.7 600V583.5M529.7 120V136.5M614.6 600V583.5M614.6 120V136.5M699.4 600V583.5M699.4 120V136.5M869.2 600V583.5M869.2 120V136.5M954 600V583.5M954 120V136.5M1038.9 600V583.5M1038.9 120V136.5M1123.7 600V583.5M1123.7 120V136.5M1293.5 600V583.5M1293.5 120V136.5M1378.3 600V583.5M1378.3 120V136.5M1463.2 600V583.5M1463.2 120V136.5M1548 600V583.5M1548 120V136.5M1717.8 600V583.5M1717.8 120V136.5M360 2160V2127M360 720V753M784.3 2160V2127M784.3 720V753M1208.6 2160V2127M1208.6 720V753M1632.9 2160V2127M1632.9 720V753M444.9 2160V2143.5M444.9 720V736.5M529.7 2160V2143.5M529.7 720V736.5M614.6 2160V2143.5M614.6 720V736.5M699.4 2160V2143.5M699.4 720V736.5M869.2 2160V2143.5M869.2 720V736.5M954 2160V2143.5M954 720V736.5M1038.9 2160V2143.5M1038.9 720V736.5M1123.7 2160V2143.5M1123.7 720V736.5M1293.5 2160V2143.5M1293.5 720V736.5M1378.3 2160V2143.5M1378.3 720V736.5M1463.2 2160V2143.5M1463.2 720V736.5M1548 2160V2143.5M1548 720V736.5M1717.8 2160V2143.5M1717.8 720V736.5M360 1930.1H393M1800 1930.1H1767M360 1685.1H393M1800 1685.1H1767M360 1440H393M1800 1440H1767M360 1194.9H393M1800 1194.9H1767M360 949.9H393M1800 949.9H1767M360 2126.2H376.5M1800 2126.2H1783.5M360 2077.2H376.5M1800 2077.2H1783.5M360 2028.2H376.5M1800 2028.2H1783.5M360 1979.1H376.5M1800 1979.1H1783.5M360 1881.1H376.5M1800 1881.1H1783.5M360 1832.1H376.5M1800 1832.1H1783.5M360 1783.1H376.5M1800 1783.1H1783.5M360 1734.1H376.5M1800 1734.1H1783.5M360 1636.1H376.5M1800 1636.1H1783.5M360 1587H376.5M1800 1587H1783.5M360 1538H376.5M1800 1538H1783.5M360 1489H376.5M1800 1489H1783.5M360 1391H376.5M1800 1391H1783.5M360 1342H376.5M1800 1342H1783.5M360 1293H376.5M1800 1293H1783.5M360 1243.9H376.5M1800 1243.9H1783.5M360 1145.9H376.5M1800 1145.9H1783.5M360 1096.9H376.5M1800 1096.9H1783.5M360 1047.9H376.5M1800 1047.9H1783.5M360 998.9H376.5M1800 998.9H1783.5M360 900.9H376.5M1800 900.9H1783.5M360 851.8H376.5M1800 851.8H1783.5M360 802.8H376.5M1800 802.8H1783.5M360 753.8H376.5M1800 753.8H1783.5M1920 1930.1H1953M2490 1930.1H2457M1920 1685.1H1953M2490 1685.1H2457M1920 1440H1953M2490 1440H2457M1920 1194.9H1953M2490 1194.9H2457M1920 949.9H1953M2490 949.9H2457M1920 2126.2H1936.5M2490 2126.2H2473.5M1920 2077.2H1936.5M2490 2077.2H2473.5M1920 2028.2H1936.5M2490 2028.2H2473.5M1920 1979.1H1936.5M2490 1979.1H2473.5M1920 1881.1H1936.5M2490 1881.1H2473.5M1920 1832.1H1936.5M2490 1832.1H2473.5M1920 1783.1H1936.5M2490 1783.1H2473.5M1920 1734.1H1936.5M2490 1734.1H2473.5M1920 1636.1H1936.5M2490 1636.1H2473.5M1920 1587H1936.5M2490 1587H2473.5M1920 1538H1936.5M2490 1538H2473.5M1920 1489H1936.5M2490 1489H2473.5M1920 1391H1936.5M2490 1391H2473.5M1920 1342H1936.5M2490 1342H2473.5M1920 1293H1936.5M2490 1293H2473.5M1920 1243.9H1936.5M2490 1243.9H2473.5M1920 1145.9H1936.5M2490 1145.9H2473.5M1920 1096.9H1936.5M2490 1096.9H2473.5M1920 1047.9H1936.5M2490 1047.9H2473.5M1920 998.9H1936.5M2490 998.9H2473.5M1920 900.9H1936.5M2490 900.9H2473.5M1920 851.8H1936.5M2490 851.8H2473.5M1920 802.8H1936.5M2490 802.8H2473.5M1920 753.8H1936.5M2490 753.8H2473.5M360 600H393M1800 600H1767M360 253.6H393M1800 253.6H1767M360 530.7H376.5M1800 530.7H1783.5M360 461.4H376.5M1800 461.4H1783.5M360 392.2H376.5M1800 392.2H1783.5M360 322.9H376.5M1800 322.9H1783.5M360 184.3H376.5M1800 184.3H1783.5M1920 2160V2127M1920 720V753M2337.8 2160V2127M2337.8 720V753M2003.6 2160V2143.5M2003.6 720V736.5M2087.1 2160V2143.5M2087.1 720V736.5M2170.7 2160V2143.5M2170.7 720V736.5M2254.2 2160V2143.5M2254.2 720V736.5M2421.4 2160V2143.5M2421.4 720V736.5M2760 2088H2743.5M2760 2016H2743.5M2760 1944H2743.5M2760 1872H2727M2760 1800H2743.5M2760 1728H2743.5M2760 1656H2743.5M2760 1584H2727M2760 1512H2743.5M2760 1440H2743.5M2760 1368H2743.5M2760 1296H2727M2760 1224H2743.5M2760 1152H2743.5M2760 1080H2743.5M2760 1008H2727M2760 936H2743.5M2760 864H2743.5M2760 792H2743.5" stroke="#000" stroke-width="2.0" fill="none"/>
<rect x="360.5" y="120.5" width="1440" height="480" fill="none" stroke="#000" stroke-width="3.0"/>
<rect x="360.5" y="720.5" width="1440" height="1440" fill="none" stroke="#000" stroke-width="3.0"/>
<rect x="1920.5" y="720.5" width="570" height="1440" fill="none" stroke="#000" stroke-width="3.0"/>
<rect x="2610" y="720" width="150" height="1440" fill="none" stroke="#000" stroke-width="3"/>
<defs><filter id="fh" x="-2%" y="-2%" width="104%" height="104%"><feMorphology operator="dilate" radius="1 0"/></filter><filter id="fv" x="-2%" y="-2%" width="104%" height="104%"><feMorphology operator="dilate" radius="0 1"/></filter></defs>
<g font-family="'Liberation Sans', Arial, sans-serif" font-weight="bold" fill="#000" filter="url(#fh)">
<text transform="translate(1918,281.5) scale(0.5972,1)" font-size="129" text-anchor="start">PepDF</text>
<text transform="translate(1920.5,433) scale(0.6289,1)" font-size="107" text-anchor="start">Time window: 5 ns</text>
<text transform="translate(342,274.6) scale(0.6250,1)" font-size="87" text-anchor="end">500</text>
<text transform="translate(342,621) scale(0.6250,1)" font-size="87" text-anchor="end">0</text>
<text transform="translate(342,970.9) scale(0.6250,1)" font-size="87" text-anchor="end">100</text>
<text transform="translate(342,1215.9) scale(0.6250,1)" font-size="87" text-anchor="end">50</text>
<text transform="translate(342,1461) scale(0.6250,1)" font-size="87" text-anchor="end">0</text>
<text transform="translate(342,1706.1) scale(0.6250,1)" font-size="87" text-anchor="end">50</text>
<text transform="translate(342,1951.1) scale(0.6250,1)" font-size="87" text-anchor="end">100</text>
<text transform="translate(233.7,1711.7) scale(0.92,0.9)" font-size="87">−</text>
<text transform="translate(202.5,1956.7) scale(0.92,0.9)" font-size="87">−</text>
<text transform="translate(360,2236.5) scale(0.6250,1)" font-size="87" text-anchor="middle">0</text>
<text transform="translate(784.3,2236.5) scale(0.6250,1)" font-size="87" text-anchor="middle">1</text>
<text transform="translate(1208.6,2236.5) scale(0.6250,1)" font-size="87" text-anchor="middle">2</text>
<text transform="translate(1632.9,2236.5) scale(0.6250,1)" font-size="87" text-anchor="middle">3</text>
<text transform="translate(1920,2236.5) scale(0.6250,1)" font-size="87" text-anchor="middle">0</text>
<text transform="translate(2337.8,2236.5) scale(0.6250,1)" font-size="87" text-anchor="middle">500</text>
<text transform="translate(2780,2181) scale(0.6250,1)" font-size="87" text-anchor="start">0.0</text>
<text transform="translate(2780,1893) scale(0.6250,1)" font-size="87" text-anchor="start">0.2</text>
<text transform="translate(2780,1605) scale(0.6250,1)" font-size="87" text-anchor="start">0.4</text>
<text transform="translate(2780,1317) scale(0.6250,1)" font-size="87" text-anchor="start">0.6</text>
<text transform="translate(2780,1029) scale(0.6250,1)" font-size="87" text-anchor="start">0.8</text>
<text transform="translate(2780,741) scale(0.6250,1)" font-size="87" text-anchor="start">1.0</text>
<text transform="translate(1080,2344) scale(0.6440,1)" font-size="106" text-anchor="middle">Lateral displacement (nm)</text>
<text transform="translate(2204,2345) scale(0.6131,1)" font-size="106" text-anchor="middle"># Counts</text>
</g>
<g font-family="'Liberation Sans', Arial, sans-serif" font-weight="bold" fill="#000" filter="url(#fv)">
<text transform="translate(211,360) rotate(-90) scale(0.6131,1)" font-size="106" text-anchor="middle"># Counts</text>
<text transform="translate(162,1443) rotate(-90) scale(0.6286,1)" font-size="106" text-anchor="middle">Precession (degrees)</text>
<text transform="translate(2934,1441) rotate(-90) scale(0.6184,1)" font-size="87" text-anchor="middle">Normalized Mean Time</text>
</g>
</svg></body></html>
